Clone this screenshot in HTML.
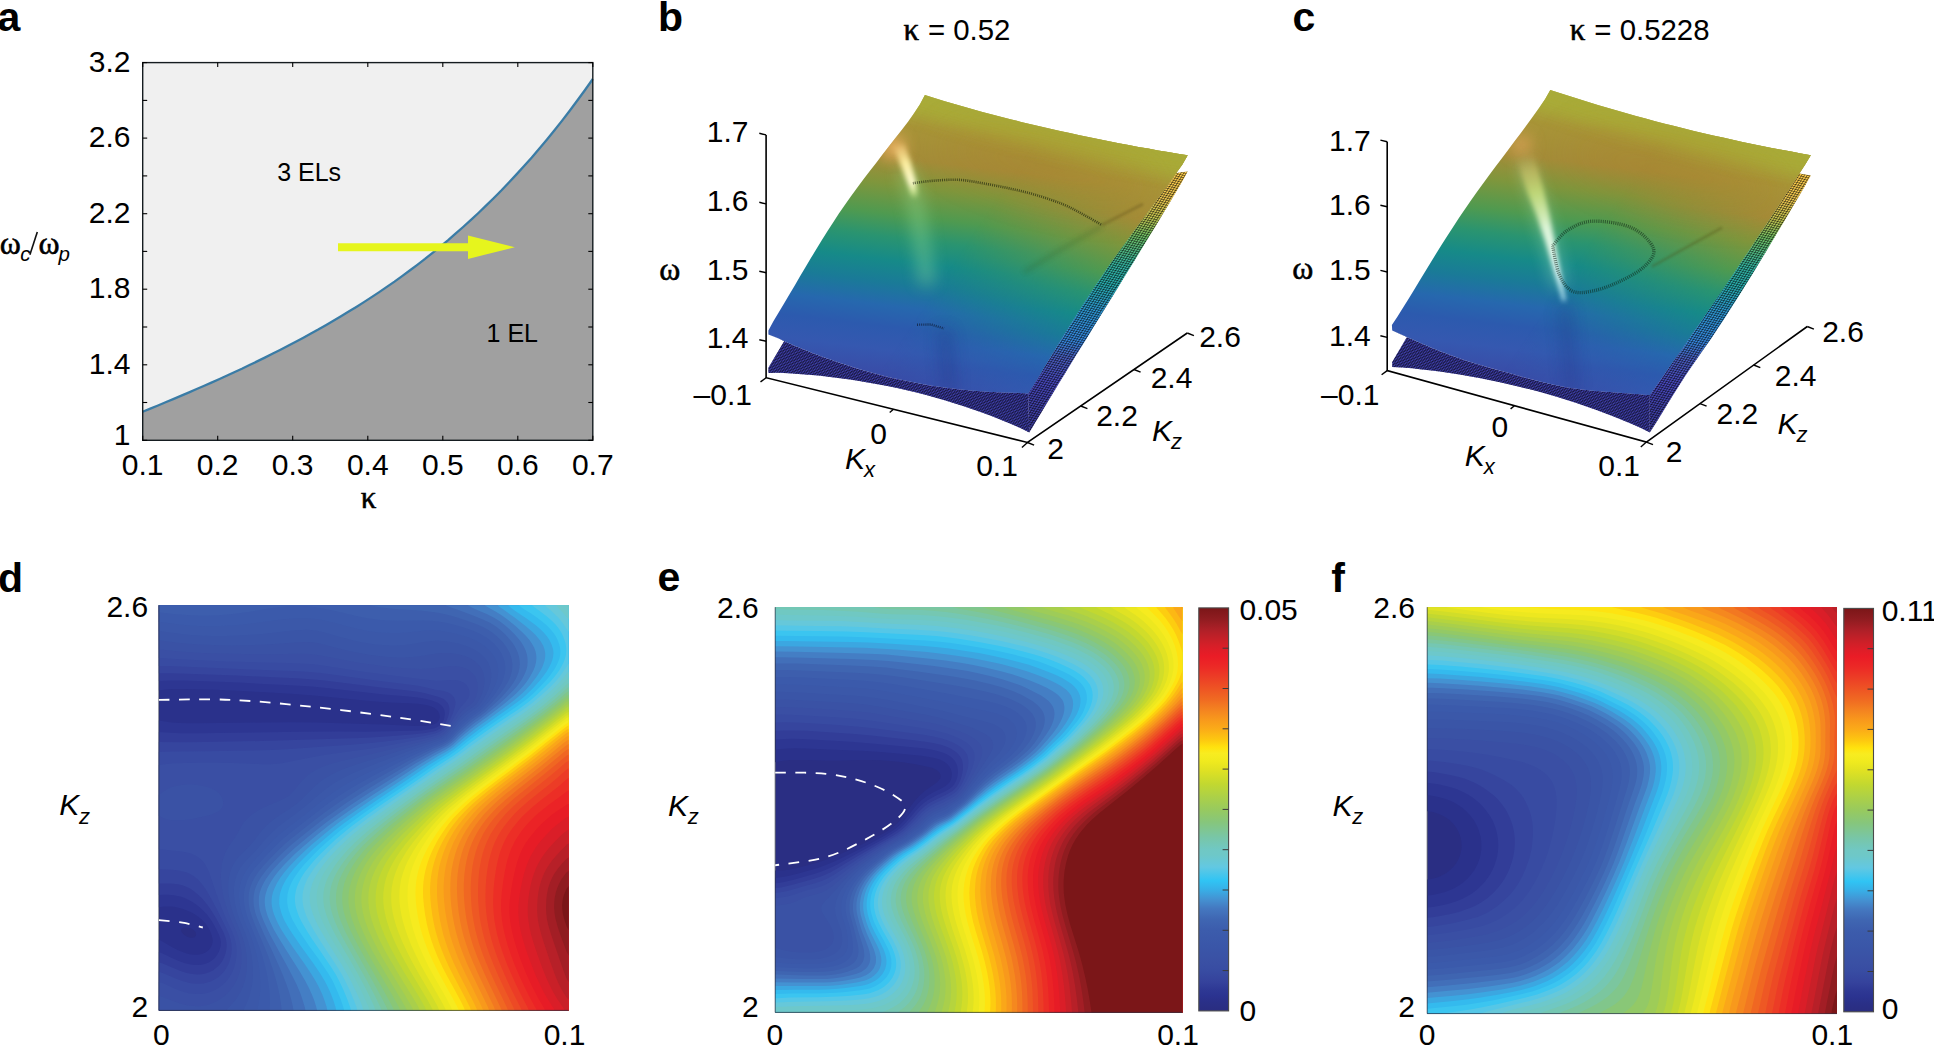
<!DOCTYPE html>
<html><head><meta charset="utf-8"><title>Figure</title>
<style>html,body{margin:0;padding:0;background:#fff}svg{display:block}text{fill:#000}</style></head>
<body>
<svg width="1934" height="1046" viewBox="0 0 1934 1046">
<text x="-2.5" y="30.7" font-family="Liberation Sans, Arial, Helvetica, sans-serif" font-size="41" font-weight="bold">a</text>
<text x="658" y="30.7" font-family="Liberation Sans, Arial, Helvetica, sans-serif" font-size="41" font-weight="bold">b</text>
<text x="1292.5" y="30.7" font-family="Liberation Sans, Arial, Helvetica, sans-serif" font-size="41" font-weight="bold">c</text>
<text x="-2" y="592" font-family="Liberation Sans, Arial, Helvetica, sans-serif" font-size="41" font-weight="bold">d</text>
<text x="657.6" y="591.4" font-family="Liberation Sans, Arial, Helvetica, sans-serif" font-size="41" font-weight="bold">e</text>
<text x="1331.3" y="591.9" font-family="Liberation Sans, Arial, Helvetica, sans-serif" font-size="41" font-weight="bold">f</text>
<rect x="142.7" y="62.6" width="450.09999999999997" height="377.7" fill="#f0f0f0"/>
<polygon points="142.7,411.7 150.3,408.6 158,405.5 165.6,402.3 173.2,399.1 180.8,395.9 188.5,392.6 196.1,389.3 203.7,386 211.4,382.6 219,379.2 226.6,375.7 234.2,372.2 241.9,368.7 249.5,365 257.1,361.4 264.8,357.6 272.4,353.8 280,350 287.6,346 295.3,342 302.9,338 310.5,333.8 318.2,329.6 325.8,325.2 333.4,320.8 341,316.3 348.7,311.6 356.3,306.9 363.9,302.1 371.6,297.1 379.2,292.1 386.8,286.9 394.5,281.6 402.1,276.1 409.7,270.5 417.3,264.8 425,258.9 432.6,252.8 440.2,246.6 447.9,240.3 455.5,233.7 463.1,227 470.7,220.1 478.4,213 486,205.7 493.6,198.2 501.3,190.5 508.9,182.5 516.5,174.4 524.1,166 531.8,157.4 539.4,148.5 547,139.4 554.7,130 562.3,120.4 569.9,110.5 577.5,100.3 585.2,89.8 592.8,79 592.8,440.3 142.7,440.3" fill="#a0a0a0"/>
<polyline points="142.7,411.7 150.3,408.6 158,405.5 165.6,402.3 173.2,399.1 180.8,395.9 188.5,392.6 196.1,389.3 203.7,386 211.4,382.6 219,379.2 226.6,375.7 234.2,372.2 241.9,368.7 249.5,365 257.1,361.4 264.8,357.6 272.4,353.8 280,350 287.6,346 295.3,342 302.9,338 310.5,333.8 318.2,329.6 325.8,325.2 333.4,320.8 341,316.3 348.7,311.6 356.3,306.9 363.9,302.1 371.6,297.1 379.2,292.1 386.8,286.9 394.5,281.6 402.1,276.1 409.7,270.5 417.3,264.8 425,258.9 432.6,252.8 440.2,246.6 447.9,240.3 455.5,233.7 463.1,227 470.7,220.1 478.4,213 486,205.7 493.6,198.2 501.3,190.5 508.9,182.5 516.5,174.4 524.1,166 531.8,157.4 539.4,148.5 547,139.4 554.7,130 562.3,120.4 569.9,110.5 577.5,100.3 585.2,89.8 592.8,79" fill="none" stroke="#3a7ca6" stroke-width="2.3"/>
<rect x="142.7" y="62.6" width="450.09999999999997" height="377.7" fill="none" stroke="#151c20" stroke-width="1.4"/>
<line x1="142.7" y1="62.6" x2="147.2" y2="62.6" stroke="#000" stroke-width="1.1"/>
<line x1="592.8" y1="62.6" x2="588.3" y2="62.6" stroke="#000" stroke-width="1.1"/>
<line x1="142.7" y1="100.4" x2="147.2" y2="100.4" stroke="#000" stroke-width="1.1"/>
<line x1="592.8" y1="100.4" x2="588.3" y2="100.4" stroke="#000" stroke-width="1.1"/>
<line x1="142.7" y1="138.1" x2="147.2" y2="138.1" stroke="#000" stroke-width="1.1"/>
<line x1="592.8" y1="138.1" x2="588.3" y2="138.1" stroke="#000" stroke-width="1.1"/>
<line x1="142.7" y1="175.9" x2="147.2" y2="175.9" stroke="#000" stroke-width="1.1"/>
<line x1="592.8" y1="175.9" x2="588.3" y2="175.9" stroke="#000" stroke-width="1.1"/>
<line x1="142.7" y1="213.7" x2="147.2" y2="213.7" stroke="#000" stroke-width="1.1"/>
<line x1="592.8" y1="213.7" x2="588.3" y2="213.7" stroke="#000" stroke-width="1.1"/>
<line x1="142.7" y1="251.4" x2="147.2" y2="251.4" stroke="#000" stroke-width="1.1"/>
<line x1="592.8" y1="251.4" x2="588.3" y2="251.4" stroke="#000" stroke-width="1.1"/>
<line x1="142.7" y1="289.2" x2="147.2" y2="289.2" stroke="#000" stroke-width="1.1"/>
<line x1="592.8" y1="289.2" x2="588.3" y2="289.2" stroke="#000" stroke-width="1.1"/>
<line x1="142.7" y1="327" x2="147.2" y2="327" stroke="#000" stroke-width="1.1"/>
<line x1="592.8" y1="327" x2="588.3" y2="327" stroke="#000" stroke-width="1.1"/>
<line x1="142.7" y1="364.8" x2="147.2" y2="364.8" stroke="#000" stroke-width="1.1"/>
<line x1="592.8" y1="364.8" x2="588.3" y2="364.8" stroke="#000" stroke-width="1.1"/>
<line x1="142.7" y1="402.5" x2="147.2" y2="402.5" stroke="#000" stroke-width="1.1"/>
<line x1="592.8" y1="402.5" x2="588.3" y2="402.5" stroke="#000" stroke-width="1.1"/>
<line x1="142.7" y1="440.3" x2="147.2" y2="440.3" stroke="#000" stroke-width="1.1"/>
<line x1="592.8" y1="440.3" x2="588.3" y2="440.3" stroke="#000" stroke-width="1.1"/>
<line x1="142.7" y1="62.6" x2="142.7" y2="67.1" stroke="#000" stroke-width="1.1"/>
<line x1="142.7" y1="440.3" x2="142.7" y2="435.8" stroke="#000" stroke-width="1.1"/>
<line x1="217.7" y1="62.6" x2="217.7" y2="67.1" stroke="#000" stroke-width="1.1"/>
<line x1="217.7" y1="440.3" x2="217.7" y2="435.8" stroke="#000" stroke-width="1.1"/>
<line x1="292.7" y1="62.6" x2="292.7" y2="67.1" stroke="#000" stroke-width="1.1"/>
<line x1="292.7" y1="440.3" x2="292.7" y2="435.8" stroke="#000" stroke-width="1.1"/>
<line x1="367.8" y1="62.6" x2="367.8" y2="67.1" stroke="#000" stroke-width="1.1"/>
<line x1="367.8" y1="440.3" x2="367.8" y2="435.8" stroke="#000" stroke-width="1.1"/>
<line x1="442.8" y1="62.6" x2="442.8" y2="67.1" stroke="#000" stroke-width="1.1"/>
<line x1="442.8" y1="440.3" x2="442.8" y2="435.8" stroke="#000" stroke-width="1.1"/>
<line x1="517.8" y1="62.6" x2="517.8" y2="67.1" stroke="#000" stroke-width="1.1"/>
<line x1="517.8" y1="440.3" x2="517.8" y2="435.8" stroke="#000" stroke-width="1.1"/>
<line x1="592.8" y1="62.6" x2="592.8" y2="67.1" stroke="#000" stroke-width="1.1"/>
<line x1="592.8" y1="440.3" x2="592.8" y2="435.8" stroke="#000" stroke-width="1.1"/>
<text x="130.5" y="71.6" font-family="Liberation Sans, Arial, Helvetica, sans-serif" font-size="30" text-anchor="end">3.2</text>
<text x="130.5" y="147.1" font-family="Liberation Sans, Arial, Helvetica, sans-serif" font-size="30" text-anchor="end">2.6</text>
<text x="130.5" y="222.7" font-family="Liberation Sans, Arial, Helvetica, sans-serif" font-size="30" text-anchor="end">2.2</text>
<text x="130.5" y="298.2" font-family="Liberation Sans, Arial, Helvetica, sans-serif" font-size="30" text-anchor="end">1.8</text>
<text x="130.5" y="373.8" font-family="Liberation Sans, Arial, Helvetica, sans-serif" font-size="30" text-anchor="end">1.4</text>
<text x="130.5" y="445" font-family="Liberation Sans, Arial, Helvetica, sans-serif" font-size="30" text-anchor="end">1</text>
<text x="142.7" y="475.3" font-family="Liberation Sans, Arial, Helvetica, sans-serif" font-size="30" text-anchor="middle">0.1</text>
<text x="217.7" y="475.3" font-family="Liberation Sans, Arial, Helvetica, sans-serif" font-size="30" text-anchor="middle">0.2</text>
<text x="292.7" y="475.3" font-family="Liberation Sans, Arial, Helvetica, sans-serif" font-size="30" text-anchor="middle">0.3</text>
<text x="367.8" y="475.3" font-family="Liberation Sans, Arial, Helvetica, sans-serif" font-size="30" text-anchor="middle">0.4</text>
<text x="442.8" y="475.3" font-family="Liberation Sans, Arial, Helvetica, sans-serif" font-size="30" text-anchor="middle">0.5</text>
<text x="517.8" y="475.3" font-family="Liberation Sans, Arial, Helvetica, sans-serif" font-size="30" text-anchor="middle">0.6</text>
<text x="592.8" y="475.3" font-family="Liberation Sans, Arial, Helvetica, sans-serif" font-size="30" text-anchor="middle">0.7</text>
<text x="368.5" y="508.2" font-family="Liberation Serif, Times New Roman, serif" font-size="31" text-anchor="middle" stroke="#000" stroke-width="0.55">κ</text>
<text x="-0.3" y="253.8" font-family="Liberation Serif, Times New Roman, serif" font-size="32" stroke="#000" stroke-width="0.55">ω</text>
<text x="20.3" y="261.3" font-family="Liberation Sans, Arial, Helvetica, sans-serif" font-size="20.5" font-style="italic">c</text>
<line x1="29.9" y1="254.8" x2="37.3" y2="232" stroke="#111" stroke-width="1.6"/>
<text x="38.5" y="253.8" font-family="Liberation Serif, Times New Roman, serif" font-size="32" stroke="#000" stroke-width="0.55">ω</text>
<text x="58.6" y="261.3" font-family="Liberation Sans, Arial, Helvetica, sans-serif" font-size="20.5" font-style="italic">p</text>
<text x="277.2" y="180.8" font-family="Liberation Sans, Arial, Helvetica, sans-serif" font-size="25">3 ELs</text>
<text x="486.6" y="342.3" font-family="Liberation Sans, Arial, Helvetica, sans-serif" font-size="25">1 EL</text>
<polygon points="338,243.2 468,243.2 468,235.6 514.8,247.2 468,258.9 468,251.3 338,251.3" fill="#e6f51d"/>
<defs><filter id="bl3" filterUnits="userSpaceOnUse" x="640" y="40" width="1294" height="460"><feGaussianBlur stdDeviation="2.5"/></filter><filter id="bl8" filterUnits="userSpaceOnUse" x="640" y="40" width="1294" height="460"><feGaussianBlur stdDeviation="8"/></filter><filter id="bl20" filterUnits="userSpaceOnUse" x="640" y="40" width="1294" height="460"><feGaussianBlur stdDeviation="20"/></filter><pattern id="mesh" patternUnits="userSpaceOnUse" width="2.5" height="2.5" patternTransform="matrix(0.973,0.23,0.54,-0.84,0,0)"><path d="M0,0.3H2.5M0.3,0V2.5" stroke="#000" stroke-width="0.5" fill="none"/></pattern><pattern id="mesh2" patternUnits="userSpaceOnUse" width="2.2" height="1.6" patternTransform="matrix(0.973,0.23,0.54,-0.84,0,0)"><path d="M0,0.3H2.2M0.3,0V1.6" stroke="#000" stroke-width="0.4" fill="none"/></pattern><filter id="bl1" filterUnits="userSpaceOnUse" x="640" y="40" width="1294" height="460"><feGaussianBlur stdDeviation="1.2"/></filter></defs>
<defs><linearGradient id="gb" gradientUnits="userSpaceOnUse" x1="900.7" y1="385.5" x2="934.9" y2="100.5"><stop offset="0.000" stop-color="#3a48a5"/><stop offset="0.060" stop-color="#3850aa"/><stop offset="0.118" stop-color="#3558b0"/><stop offset="0.198" stop-color="#2c5aae"/><stop offset="0.271" stop-color="#2668ae"/><stop offset="0.350" stop-color="#1a7a98"/><stop offset="0.430" stop-color="#168a88"/><stop offset="0.510" stop-color="#2a9470"/><stop offset="0.589" stop-color="#4f9a50"/><stop offset="0.693" stop-color="#7f963c"/><stop offset="0.786" stop-color="#a48c38"/><stop offset="0.908" stop-color="#a89538"/><stop offset="1.000" stop-color="#a8aa3a"/></linearGradient>
<clipPath id="cpb"><path d="M768.4,330.4 L773.4,321.2 L778.8,312.2 L784.2,303.2 L789.5,294.2 L794.9,285.2 L800.2,276.1 L805.6,267.1 L810.9,258.1 L816.4,249.1 L821.9,240.1 L827.4,231.2 L833.1,222.4 L838.9,213.6 L844.8,205 L850.8,196.4 L857,187.9 L863.3,179.5 L869.6,171.2 L876.1,162.9 L882.5,154.6 L889,146.3 L895.4,138.1 L901.9,129.8 L908.2,121.5 L914.2,112.9 L920,104.2 L924.9,94.9L934.4,98 L944,100.9 L953.6,103.7 L963.2,106.5 L972.8,109.2 L982.4,111.9 L992.1,114.4 L1001.7,117 L1011.4,119.4 L1021.1,121.9 L1030.8,124.2 L1040.6,126.5 L1050.3,128.8 L1060.1,131 L1069.8,133.1 L1079.6,135.2 L1089.4,137.3 L1099.2,139.3 L1109,141.3 L1118.8,143.2 L1128.6,145 L1138.4,146.9 L1148.3,148.6 L1158.1,150.4 L1168,152.1 L1177.8,153.7 L1187.7,155.2L1182.4,164.4 L1176.3,173.1 L1170.1,181.8 L1163.9,190.4 L1157.6,198.9 L1151.3,207.5 L1145,216 L1138.7,224.6 L1132.4,233.1 L1126.1,241.7 L1119.8,250.3 L1113.6,258.9 L1107.5,267.6 L1101.5,276.4 L1095.5,285.2 L1089.7,294 L1083.9,303 L1078.2,311.9 L1072.6,320.9 L1067,330 L1061.4,339 L1055.9,348.1 L1050.4,357.2 L1044.9,366.3 L1039.5,375.5 L1034,384.6 L1028.1,393.4L1018.2,392.8 L1008.2,392.6 L998.3,392.3 L988.3,391.7 L978.4,391.1 L968.5,390.2 L958.6,389.2 L948.7,388 L938.9,386.7 L929,385.2 L919.3,383.5 L909.5,381.6 L899.8,379.6 L890.1,377.4 L880.5,375 L870.9,372.4 L861.3,369.7 L851.8,366.8 L842.4,363.8 L833,360.5 L823.6,357.2 L814.3,353.7 L805,350 L795.8,346.2 L786.7,342.2 L777.6,338.1 L768.4,334.4Z"/></clipPath>
<linearGradient id="glb" gradientUnits="userSpaceOnUse" x1="0" y1="171" x2="0" y2="432"><stop offset="0.000" stop-color="#ffcc48"/><stop offset="0.103" stop-color="#ecc650"/><stop offset="0.176" stop-color="#c6c650"/><stop offset="0.249" stop-color="#70c064"/><stop offset="0.360" stop-color="#34b4a0"/><stop offset="0.433" stop-color="#28acac"/><stop offset="0.540" stop-color="#2e96d2"/><stop offset="0.651" stop-color="#3686dc"/><stop offset="0.716" stop-color="#4a5ec0"/><stop offset="0.812" stop-color="#4848bc"/><stop offset="0.912" stop-color="#4040a8"/><stop offset="1.000" stop-color="#3a3a9a"/></linearGradient>
</defs>
<path d="M1029.3,432.4 L1035.1,422.7 L1041,413 L1046.8,403.3 L1052.6,393.7 L1058.5,384 L1064.4,374.4 L1070.3,364.7 L1076.2,355.1 L1082.2,345.5 L1088.1,335.9 L1094,326.2 L1100,316.6 L1105.9,307 L1111.8,297.4 L1117.8,287.8 L1123.7,278.1 L1129.6,268.5 L1135.5,258.9 L1141.4,249.2 L1147.3,239.6 L1153.2,229.9 L1159.1,220.3 L1164.9,210.6 L1170.7,200.9 L1176.5,191.2 L1182.2,181.5 L1187.6,171.5L1176.3,173.1 L1170.1,181.8 L1163.9,190.4 L1157.6,198.9 L1151.3,207.5 L1145,216 L1138.7,224.6 L1132.4,233.1 L1126.1,241.7 L1119.8,250.3 L1113.6,258.9 L1107.5,267.6 L1101.5,276.4 L1095.5,285.2 L1089.7,294 L1083.9,303 L1078.2,311.9 L1072.6,320.9 L1067,330 L1061.4,339 L1055.9,348.1 L1050.4,357.2 L1044.9,366.3 L1039.5,375.5 L1034,384.6 L1028.1,393.4Z" fill="url(#glb)"/>
<path d="M1029.3,432.4 L1035.1,422.7 L1041,413 L1046.8,403.3 L1052.6,393.7 L1058.5,384 L1064.4,374.4 L1070.3,364.7 L1076.2,355.1 L1082.2,345.5 L1088.1,335.9 L1094,326.2 L1100,316.6 L1105.9,307 L1111.8,297.4 L1117.8,287.8 L1123.7,278.1 L1129.6,268.5 L1135.5,258.9 L1141.4,249.2 L1147.3,239.6 L1153.2,229.9 L1159.1,220.3 L1164.9,210.6 L1170.7,200.9 L1176.5,191.2 L1182.2,181.5 L1187.6,171.5L1176.3,173.1 L1170.1,181.8 L1163.9,190.4 L1157.6,198.9 L1151.3,207.5 L1145,216 L1138.7,224.6 L1132.4,233.1 L1126.1,241.7 L1119.8,250.3 L1113.6,258.9 L1107.5,267.6 L1101.5,276.4 L1095.5,285.2 L1089.7,294 L1083.9,303 L1078.2,311.9 L1072.6,320.9 L1067,330 L1061.4,339 L1055.9,348.1 L1050.4,357.2 L1044.9,366.3 L1039.5,375.5 L1034,384.6 L1028.1,393.4Z" fill="url(#mesh)"/>
<path d="M784.4,340.7 L768.4,367.7 L768.4,372.9L778.4,372.8 L788.4,373.3 L798.3,373.9 L808.2,374.7 L818.2,375.6 L828.1,376.7 L838,377.9 L847.9,379.3 L857.8,380.8 L867.6,382.4 L877.5,384.2 L887.3,386.1 L897.1,388.1 L906.8,390.3 L916.5,392.6 L926.2,395.1 L935.8,397.7 L945.4,400.5 L955,403.4 L964.5,406.5 L973.9,409.7 L983.3,413.1 L992.7,416.6 L1001.9,420.3 L1011.1,424.1 L1020.3,428.1 L1029.3,432.4L1028.1,393.4 L1018.2,392.8 L1008.2,392.6 L998.3,392.3 L988.3,391.7 L978.4,391.1 L968.5,390.2 L958.6,389.2 L948.7,388 L938.9,386.7 L929,385.2 L919.3,383.5 L909.5,381.6 L899.8,379.6 L890.1,377.4 L880.5,375 L870.9,372.4 L861.3,369.7 L851.8,366.8 L842.4,363.8 L833,360.5 L823.6,357.2 L814.3,353.7 L805,350 L795.8,346.2 L786.7,342.2 L777.6,338.1 L768.4,334.4Z" fill="#4040ae"/>
<path d="M784.4,340.7 L768.4,367.7 L768.4,372.9L778.4,372.8 L788.4,373.3 L798.3,373.9 L808.2,374.7 L818.2,375.6 L828.1,376.7 L838,377.9 L847.9,379.3 L857.8,380.8 L867.6,382.4 L877.5,384.2 L887.3,386.1 L897.1,388.1 L906.8,390.3 L916.5,392.6 L926.2,395.1 L935.8,397.7 L945.4,400.5 L955,403.4 L964.5,406.5 L973.9,409.7 L983.3,413.1 L992.7,416.6 L1001.9,420.3 L1011.1,424.1 L1020.3,428.1 L1029.3,432.4L1028.1,393.4 L1018.2,392.8 L1008.2,392.6 L998.3,392.3 L988.3,391.7 L978.4,391.1 L968.5,390.2 L958.6,389.2 L948.7,388 L938.9,386.7 L929,385.2 L919.3,383.5 L909.5,381.6 L899.8,379.6 L890.1,377.4 L880.5,375 L870.9,372.4 L861.3,369.7 L851.8,366.8 L842.4,363.8 L833,360.5 L823.6,357.2 L814.3,353.7 L805,350 L795.8,346.2 L786.7,342.2 L777.6,338.1 L768.4,334.4Z" fill="url(#mesh2)"/>
<path d="M768.4,330.4 L773.4,321.2 L778.8,312.2 L784.2,303.2 L789.5,294.2 L794.9,285.2 L800.2,276.1 L805.6,267.1 L810.9,258.1 L816.4,249.1 L821.9,240.1 L827.4,231.2 L833.1,222.4 L838.9,213.6 L844.8,205 L850.8,196.4 L857,187.9 L863.3,179.5 L869.6,171.2 L876.1,162.9 L882.5,154.6 L889,146.3 L895.4,138.1 L901.9,129.8 L908.2,121.5 L914.2,112.9 L920,104.2 L924.9,94.9L934.4,98 L944,100.9 L953.6,103.7 L963.2,106.5 L972.8,109.2 L982.4,111.9 L992.1,114.4 L1001.7,117 L1011.4,119.4 L1021.1,121.9 L1030.8,124.2 L1040.6,126.5 L1050.3,128.8 L1060.1,131 L1069.8,133.1 L1079.6,135.2 L1089.4,137.3 L1099.2,139.3 L1109,141.3 L1118.8,143.2 L1128.6,145 L1138.4,146.9 L1148.3,148.6 L1158.1,150.4 L1168,152.1 L1177.8,153.7 L1187.7,155.2L1182.4,164.4 L1176.3,173.1 L1170.1,181.8 L1163.9,190.4 L1157.6,198.9 L1151.3,207.5 L1145,216 L1138.7,224.6 L1132.4,233.1 L1126.1,241.7 L1119.8,250.3 L1113.6,258.9 L1107.5,267.6 L1101.5,276.4 L1095.5,285.2 L1089.7,294 L1083.9,303 L1078.2,311.9 L1072.6,320.9 L1067,330 L1061.4,339 L1055.9,348.1 L1050.4,357.2 L1044.9,366.3 L1039.5,375.5 L1034,384.6 L1028.1,393.4L1018.2,392.8 L1008.2,392.6 L998.3,392.3 L988.3,391.7 L978.4,391.1 L968.5,390.2 L958.6,389.2 L948.7,388 L938.9,386.7 L929,385.2 L919.3,383.5 L909.5,381.6 L899.8,379.6 L890.1,377.4 L880.5,375 L870.9,372.4 L861.3,369.7 L851.8,366.8 L842.4,363.8 L833,360.5 L823.6,357.2 L814.3,353.7 L805,350 L795.8,346.2 L786.7,342.2 L777.6,338.1 L768.4,334.4Z" fill="url(#gb)"/>
<defs><linearGradient id="gbB" gradientUnits="userSpaceOnUse" x1="896.9" y1="416.9" x2="931.1" y2="131.8"><stop offset="0.000" stop-color="#3a48a5"/><stop offset="0.060" stop-color="#3850aa"/><stop offset="0.118" stop-color="#3558b0"/><stop offset="0.198" stop-color="#2c5aae"/><stop offset="0.271" stop-color="#2668ae"/><stop offset="0.350" stop-color="#1a7a98"/><stop offset="0.430" stop-color="#168a88"/><stop offset="0.510" stop-color="#2a9470"/><stop offset="0.589" stop-color="#4f9a50"/><stop offset="0.693" stop-color="#7f963c"/><stop offset="0.786" stop-color="#a48c38"/><stop offset="0.908" stop-color="#a89538"/><stop offset="1.000" stop-color="#a8aa3a"/></linearGradient>
<linearGradient id="mgb" gradientUnits="userSpaceOnUse" x1="916" y1="318.1" x2="1023.9" y2="390.6"><stop offset="0" stop-color="#000"/><stop offset="1" stop-color="#fff"/></linearGradient>
<mask id="mkb" maskUnits="userSpaceOnUse" x="640" y="40" width="1294" height="460"><rect x="640" y="40" width="1294" height="460" fill="url(#mgb)"/></mask></defs>
<path d="M768.4,330.4 L773.4,321.2 L778.8,312.2 L784.2,303.2 L789.5,294.2 L794.9,285.2 L800.2,276.1 L805.6,267.1 L810.9,258.1 L816.4,249.1 L821.9,240.1 L827.4,231.2 L833.1,222.4 L838.9,213.6 L844.8,205 L850.8,196.4 L857,187.9 L863.3,179.5 L869.6,171.2 L876.1,162.9 L882.5,154.6 L889,146.3 L895.4,138.1 L901.9,129.8 L908.2,121.5 L914.2,112.9 L920,104.2 L924.9,94.9L934.4,98 L944,100.9 L953.6,103.7 L963.2,106.5 L972.8,109.2 L982.4,111.9 L992.1,114.4 L1001.7,117 L1011.4,119.4 L1021.1,121.9 L1030.8,124.2 L1040.6,126.5 L1050.3,128.8 L1060.1,131 L1069.8,133.1 L1079.6,135.2 L1089.4,137.3 L1099.2,139.3 L1109,141.3 L1118.8,143.2 L1128.6,145 L1138.4,146.9 L1148.3,148.6 L1158.1,150.4 L1168,152.1 L1177.8,153.7 L1187.7,155.2L1182.4,164.4 L1176.3,173.1 L1170.1,181.8 L1163.9,190.4 L1157.6,198.9 L1151.3,207.5 L1145,216 L1138.7,224.6 L1132.4,233.1 L1126.1,241.7 L1119.8,250.3 L1113.6,258.9 L1107.5,267.6 L1101.5,276.4 L1095.5,285.2 L1089.7,294 L1083.9,303 L1078.2,311.9 L1072.6,320.9 L1067,330 L1061.4,339 L1055.9,348.1 L1050.4,357.2 L1044.9,366.3 L1039.5,375.5 L1034,384.6 L1028.1,393.4L1018.2,392.8 L1008.2,392.6 L998.3,392.3 L988.3,391.7 L978.4,391.1 L968.5,390.2 L958.6,389.2 L948.7,388 L938.9,386.7 L929,385.2 L919.3,383.5 L909.5,381.6 L899.8,379.6 L890.1,377.4 L880.5,375 L870.9,372.4 L861.3,369.7 L851.8,366.8 L842.4,363.8 L833,360.5 L823.6,357.2 L814.3,353.7 L805,350 L795.8,346.2 L786.7,342.2 L777.6,338.1 L768.4,334.4Z" fill="url(#gbB)" mask="url(#mkb)"/>
<g clip-path="url(#cpb)">
<path d="M884.9,82.9 L924.9,94.9 L934.4,98 L944,100.9 L953.6,103.7 L963.2,106.5 L972.8,109.2 L982.4,111.9 L992.1,114.4 L1001.7,117 L1011.4,119.4 L1021.1,121.9 L1030.8,124.2 L1040.6,126.5 L1050.3,128.8 L1060.1,131 L1069.8,133.1 L1079.6,135.2 L1089.4,137.3 L1099.2,139.3 L1109,141.3 L1118.8,143.2 L1128.6,145 L1138.4,146.9 L1148.3,148.6 L1158.1,150.4 L1168,152.1 L1177.8,153.7 L1187.7,155.2 L1227.7,163.2" stroke="#a9ab38" stroke-width="40" fill="none" opacity="0.95" filter="url(#bl8)"/>
<ellipse cx="1050" cy="168" rx="110" ry="26" fill="#b07a2c" opacity="0.25" filter="url(#bl20)" transform="rotate(13 1050 168)"/>
<defs><linearGradient id="hlb" gradientUnits="userSpaceOnUse" x1="896" y1="143" x2="916" y2="200"><stop offset="0" stop-color="#f8c878" stop-opacity="0.1"/><stop offset="0.15" stop-color="#fad888" stop-opacity="0.7"/><stop offset="0.35" stop-color="#fff0a0" stop-opacity="0.95"/><stop offset="0.7" stop-color="#fffcd0" stop-opacity="1"/><stop offset="0.85" stop-color="#e8f8a8" stop-opacity="0.8"/><stop offset="1" stop-color="#b8e890" stop-opacity="0"/></linearGradient></defs>
<circle cx="893.5" cy="147" r="11" fill="#f5b468" opacity="0.95" filter="url(#bl8)"/>
<path d="M905,168 L911,186 L916.7,209.3 L920.4,234.2 L924.1,259 L927,285" stroke="#9fe8a0" stroke-width="15" fill="none" opacity="0.38" filter="url(#bl8)"/>
<path d="M893,146 L901,166 L908,184 L912,198 L918,198 L916,182 L911,163 L904,143 Z" fill="url(#hlb)" filter="url(#bl3)"/>
<path d="M912.9,183.2C916.4,182.8 926.1,181.2 933.9,180.7C941.7,180.1 951.2,179.4 959.8,179.9C968.4,180.4 977,182.3 985.6,183.8C994.2,185.3 1002.9,187 1011.5,188.9C1020.1,190.8 1028.7,192.8 1037.3,195.4C1045.9,198 1055.5,201.2 1063.2,204.4C1071,207.6 1077.3,211.4 1083.8,214.8C1090.2,218.2 1098.9,223.4 1101.9,225.1" stroke="#101808" stroke-width="2.6" fill="none" opacity="0.6" stroke-dasharray="1 1.1"/>
<path d="M917,324.7 L931,324.5 L944,328.5" stroke="#0a1020" stroke-width="2.4" fill="none" opacity="0.6" stroke-dasharray="1 1.1"/>
<path d="M1102,225 L1143,204" stroke="#5a4a18" stroke-width="3" fill="none" opacity="0.3" filter="url(#bl1)"/>
<path d="M1102,226 L1060,250 L1024,272" stroke="#2a5a28" stroke-width="3" fill="none" opacity="0.3" filter="url(#bl3)"/>
<path d="M944,330 L950,392" stroke="#1f2f80" stroke-width="12" fill="none" opacity="0.35" filter="url(#bl8)"/>
</g>
<defs><linearGradient id="gc" gradientUnits="userSpaceOnUse" x1="1522.7" y1="384.7" x2="1556.9" y2="97.7"><stop offset="0.000" stop-color="#3a48a5"/><stop offset="0.060" stop-color="#3850aa"/><stop offset="0.118" stop-color="#3558b0"/><stop offset="0.198" stop-color="#2c5aae"/><stop offset="0.271" stop-color="#2668ae"/><stop offset="0.350" stop-color="#1a7a98"/><stop offset="0.430" stop-color="#168a88"/><stop offset="0.510" stop-color="#2a9470"/><stop offset="0.589" stop-color="#4f9a50"/><stop offset="0.693" stop-color="#7f963c"/><stop offset="0.786" stop-color="#a48c38"/><stop offset="0.908" stop-color="#a89538"/><stop offset="1.000" stop-color="#a8aa3a"/></linearGradient>
<clipPath id="cpc"><path d="M1391.9,325 L1397.7,316.2 L1403.3,307.3 L1408.8,298.4 L1414.3,289.4 L1419.7,280.4 L1425.2,271.4 L1430.7,262.5 L1436.2,253.5 L1441.8,244.6 L1447.4,235.7 L1453.1,226.9 L1458.9,218.1 L1464.7,209.4 L1470.7,200.7 L1476.7,192.2 L1482.9,183.7 L1489.1,175.2 L1495.4,166.8 L1501.7,158.4 L1508.1,150 L1514.4,141.6 L1520.7,133.2 L1526.9,124.7 L1533.1,116.3 L1539.2,107.7 L1545.2,99.1 L1550.3,89.9L1559.7,93 L1569.2,96.1 L1578.7,99.1 L1588.2,102.1 L1597.8,105 L1607.3,107.8 L1616.9,110.6 L1626.4,113.3 L1636,116 L1645.6,118.6 L1655.2,121.2 L1664.9,123.7 L1674.5,126.1 L1684.2,128.5 L1693.9,130.9 L1703.5,133.2 L1713.2,135.4 L1723,137.6 L1732.7,139.8 L1742.4,141.9 L1752.1,143.9 L1761.9,145.9 L1771.7,147.9 L1781.4,149.8 L1791.2,151.6 L1801,153.4 L1810.8,155.3L1805.2,164.4 L1799.4,173.4 L1793.6,182.4 L1787.8,191.4 L1781.9,200.3 L1776.1,209.3 L1770.2,218.2 L1764.3,227.2 L1758.4,236.1 L1752.5,245 L1746.6,253.9 L1740.6,262.8 L1734.7,271.7 L1728.7,280.6 L1722.7,289.4 L1716.7,298.3 L1710.7,307.1 L1704.6,316 L1698.6,324.8 L1692.5,333.6 L1686.4,342.4 L1680.4,351.2 L1674.2,360 L1668.1,368.8 L1662,377.5 L1655.9,386.3 L1649.8,395.1L1640,394.2 L1630.1,393.4 L1620.1,392.7 L1610.2,392 L1600.2,391.3 L1590.3,390.4 L1580.5,389.3 L1570.8,387.9 L1561.1,386.2 L1551.5,384.2 L1542,382 L1532.4,379.5 L1522.9,376.9 L1513.4,374.3 L1503.8,371.7 L1494.2,369 L1484.7,366.3 L1475.1,363.4 L1465.7,360.4 L1456.3,357.2 L1446.9,353.8 L1437.7,350.3 L1428.5,346.5 L1419.4,342.6 L1410.3,338.6 L1401.3,334.5 L1392.2,330.4Z"/></clipPath>
<linearGradient id="glc" gradientUnits="userSpaceOnUse" x1="0" y1="174" x2="0" y2="432"><stop offset="0.000" stop-color="#ffcc48"/><stop offset="0.103" stop-color="#ecc650"/><stop offset="0.176" stop-color="#c6c650"/><stop offset="0.249" stop-color="#70c064"/><stop offset="0.360" stop-color="#34b4a0"/><stop offset="0.433" stop-color="#28acac"/><stop offset="0.540" stop-color="#2e96d2"/><stop offset="0.651" stop-color="#3686dc"/><stop offset="0.716" stop-color="#4a5ec0"/><stop offset="0.812" stop-color="#4848bc"/><stop offset="0.912" stop-color="#4040a8"/><stop offset="1.000" stop-color="#3a3a9a"/></linearGradient>
</defs>
<path d="M1649.8,432.4 L1655.9,423 L1661.8,413.4 L1667.7,403.8 L1673.6,394.3 L1679.6,384.7 L1685.7,375.3 L1692,366 L1698.4,356.8 L1704.8,347.6 L1711.2,338.4 L1717.4,329.1 L1723.6,319.7 L1729.6,310.3 L1735.7,300.8 L1741.7,291.3 L1747.6,281.7 L1753.5,272.2 L1759.4,262.5 L1765.2,252.9 L1771,243.3 L1776.8,233.6 L1782.5,223.9 L1788.3,214.3 L1794,204.6 L1799.7,194.9 L1805.4,185.2 L1810.8,175.4L1799.4,173.4 L1793.6,182.4 L1787.8,191.4 L1781.9,200.3 L1776.1,209.3 L1770.2,218.2 L1764.3,227.2 L1758.4,236.1 L1752.5,245 L1746.6,253.9 L1740.6,262.8 L1734.7,271.7 L1728.7,280.6 L1722.7,289.4 L1716.7,298.3 L1710.7,307.1 L1704.6,316 L1698.6,324.8 L1692.5,333.6 L1686.4,342.4 L1680.4,351.2 L1674.2,360 L1668.1,368.8 L1662,377.5 L1655.9,386.3 L1649.8,395.1Z" fill="url(#glc)"/>
<path d="M1649.8,432.4 L1655.9,423 L1661.8,413.4 L1667.7,403.8 L1673.6,394.3 L1679.6,384.7 L1685.7,375.3 L1692,366 L1698.4,356.8 L1704.8,347.6 L1711.2,338.4 L1717.4,329.1 L1723.6,319.7 L1729.6,310.3 L1735.7,300.8 L1741.7,291.3 L1747.6,281.7 L1753.5,272.2 L1759.4,262.5 L1765.2,252.9 L1771,243.3 L1776.8,233.6 L1782.5,223.9 L1788.3,214.3 L1794,204.6 L1799.7,194.9 L1805.4,185.2 L1810.8,175.4L1799.4,173.4 L1793.6,182.4 L1787.8,191.4 L1781.9,200.3 L1776.1,209.3 L1770.2,218.2 L1764.3,227.2 L1758.4,236.1 L1752.5,245 L1746.6,253.9 L1740.6,262.8 L1734.7,271.7 L1728.7,280.6 L1722.7,289.4 L1716.7,298.3 L1710.7,307.1 L1704.6,316 L1698.6,324.8 L1692.5,333.6 L1686.4,342.4 L1680.4,351.2 L1674.2,360 L1668.1,368.8 L1662,377.5 L1655.9,386.3 L1649.8,395.1Z" fill="url(#mesh)"/>
<path d="M1407.1,336.7 L1392.2,362 L1392.2,367.1L1402.1,367.4 L1412,368.3 L1421.8,369.4 L1431.6,370.6 L1441.4,371.8 L1451.2,373.3 L1461,374.8 L1470.7,376.5 L1480.5,378.2 L1490.2,380.2 L1499.9,382.2 L1509.6,384.4 L1519.2,386.7 L1528.8,389.1 L1538.4,391.6 L1548,394.3 L1557.5,397.1 L1566.9,400 L1576.4,403.1 L1585.7,406.2 L1595.1,409.5 L1604.4,413 L1613.6,416.5 L1622.8,420.2 L1631.9,424 L1640.9,427.9 L1649.8,432.4L1649.8,395.1 L1640,394.2 L1630.1,393.4 L1620.1,392.7 L1610.2,392 L1600.2,391.3 L1590.3,390.4 L1580.5,389.3 L1570.8,387.9 L1561.1,386.2 L1551.5,384.2 L1542,382 L1532.4,379.5 L1522.9,376.9 L1513.4,374.3 L1503.8,371.7 L1494.2,369 L1484.7,366.3 L1475.1,363.4 L1465.7,360.4 L1456.3,357.2 L1446.9,353.8 L1437.7,350.3 L1428.5,346.5 L1419.4,342.6 L1410.3,338.6 L1401.3,334.5 L1392.2,330.4Z" fill="#4040ae"/>
<path d="M1407.1,336.7 L1392.2,362 L1392.2,367.1L1402.1,367.4 L1412,368.3 L1421.8,369.4 L1431.6,370.6 L1441.4,371.8 L1451.2,373.3 L1461,374.8 L1470.7,376.5 L1480.5,378.2 L1490.2,380.2 L1499.9,382.2 L1509.6,384.4 L1519.2,386.7 L1528.8,389.1 L1538.4,391.6 L1548,394.3 L1557.5,397.1 L1566.9,400 L1576.4,403.1 L1585.7,406.2 L1595.1,409.5 L1604.4,413 L1613.6,416.5 L1622.8,420.2 L1631.9,424 L1640.9,427.9 L1649.8,432.4L1649.8,395.1 L1640,394.2 L1630.1,393.4 L1620.1,392.7 L1610.2,392 L1600.2,391.3 L1590.3,390.4 L1580.5,389.3 L1570.8,387.9 L1561.1,386.2 L1551.5,384.2 L1542,382 L1532.4,379.5 L1522.9,376.9 L1513.4,374.3 L1503.8,371.7 L1494.2,369 L1484.7,366.3 L1475.1,363.4 L1465.7,360.4 L1456.3,357.2 L1446.9,353.8 L1437.7,350.3 L1428.5,346.5 L1419.4,342.6 L1410.3,338.6 L1401.3,334.5 L1392.2,330.4Z" fill="url(#mesh2)"/>
<path d="M1391.9,325 L1397.7,316.2 L1403.3,307.3 L1408.8,298.4 L1414.3,289.4 L1419.7,280.4 L1425.2,271.4 L1430.7,262.5 L1436.2,253.5 L1441.8,244.6 L1447.4,235.7 L1453.1,226.9 L1458.9,218.1 L1464.7,209.4 L1470.7,200.7 L1476.7,192.2 L1482.9,183.7 L1489.1,175.2 L1495.4,166.8 L1501.7,158.4 L1508.1,150 L1514.4,141.6 L1520.7,133.2 L1526.9,124.7 L1533.1,116.3 L1539.2,107.7 L1545.2,99.1 L1550.3,89.9L1559.7,93 L1569.2,96.1 L1578.7,99.1 L1588.2,102.1 L1597.8,105 L1607.3,107.8 L1616.9,110.6 L1626.4,113.3 L1636,116 L1645.6,118.6 L1655.2,121.2 L1664.9,123.7 L1674.5,126.1 L1684.2,128.5 L1693.9,130.9 L1703.5,133.2 L1713.2,135.4 L1723,137.6 L1732.7,139.8 L1742.4,141.9 L1752.1,143.9 L1761.9,145.9 L1771.7,147.9 L1781.4,149.8 L1791.2,151.6 L1801,153.4 L1810.8,155.3L1805.2,164.4 L1799.4,173.4 L1793.6,182.4 L1787.8,191.4 L1781.9,200.3 L1776.1,209.3 L1770.2,218.2 L1764.3,227.2 L1758.4,236.1 L1752.5,245 L1746.6,253.9 L1740.6,262.8 L1734.7,271.7 L1728.7,280.6 L1722.7,289.4 L1716.7,298.3 L1710.7,307.1 L1704.6,316 L1698.6,324.8 L1692.5,333.6 L1686.4,342.4 L1680.4,351.2 L1674.2,360 L1668.1,368.8 L1662,377.5 L1655.9,386.3 L1649.8,395.1L1640,394.2 L1630.1,393.4 L1620.1,392.7 L1610.2,392 L1600.2,391.3 L1590.3,390.4 L1580.5,389.3 L1570.8,387.9 L1561.1,386.2 L1551.5,384.2 L1542,382 L1532.4,379.5 L1522.9,376.9 L1513.4,374.3 L1503.8,371.7 L1494.2,369 L1484.7,366.3 L1475.1,363.4 L1465.7,360.4 L1456.3,357.2 L1446.9,353.8 L1437.7,350.3 L1428.5,346.5 L1419.4,342.6 L1410.3,338.6 L1401.3,334.5 L1392.2,330.4Z" fill="url(#gc)"/>
<defs><linearGradient id="gcB" gradientUnits="userSpaceOnUse" x1="1518.9" y1="416.3" x2="1553.1" y2="129.3"><stop offset="0.000" stop-color="#3a48a5"/><stop offset="0.060" stop-color="#3850aa"/><stop offset="0.118" stop-color="#3558b0"/><stop offset="0.198" stop-color="#2c5aae"/><stop offset="0.271" stop-color="#2668ae"/><stop offset="0.350" stop-color="#1a7a98"/><stop offset="0.430" stop-color="#168a88"/><stop offset="0.510" stop-color="#2a9470"/><stop offset="0.589" stop-color="#4f9a50"/><stop offset="0.693" stop-color="#7f963c"/><stop offset="0.786" stop-color="#a48c38"/><stop offset="0.908" stop-color="#a89538"/><stop offset="1.000" stop-color="#a8aa3a"/></linearGradient>
<linearGradient id="mgc" gradientUnits="userSpaceOnUse" x1="1537.8" y1="319.8" x2="1645.6" y2="392.3"><stop offset="0" stop-color="#000"/><stop offset="1" stop-color="#fff"/></linearGradient>
<mask id="mkc" maskUnits="userSpaceOnUse" x="640" y="40" width="1294" height="460"><rect x="640" y="40" width="1294" height="460" fill="url(#mgc)"/></mask></defs>
<path d="M1391.9,325 L1397.7,316.2 L1403.3,307.3 L1408.8,298.4 L1414.3,289.4 L1419.7,280.4 L1425.2,271.4 L1430.7,262.5 L1436.2,253.5 L1441.8,244.6 L1447.4,235.7 L1453.1,226.9 L1458.9,218.1 L1464.7,209.4 L1470.7,200.7 L1476.7,192.2 L1482.9,183.7 L1489.1,175.2 L1495.4,166.8 L1501.7,158.4 L1508.1,150 L1514.4,141.6 L1520.7,133.2 L1526.9,124.7 L1533.1,116.3 L1539.2,107.7 L1545.2,99.1 L1550.3,89.9L1559.7,93 L1569.2,96.1 L1578.7,99.1 L1588.2,102.1 L1597.8,105 L1607.3,107.8 L1616.9,110.6 L1626.4,113.3 L1636,116 L1645.6,118.6 L1655.2,121.2 L1664.9,123.7 L1674.5,126.1 L1684.2,128.5 L1693.9,130.9 L1703.5,133.2 L1713.2,135.4 L1723,137.6 L1732.7,139.8 L1742.4,141.9 L1752.1,143.9 L1761.9,145.9 L1771.7,147.9 L1781.4,149.8 L1791.2,151.6 L1801,153.4 L1810.8,155.3L1805.2,164.4 L1799.4,173.4 L1793.6,182.4 L1787.8,191.4 L1781.9,200.3 L1776.1,209.3 L1770.2,218.2 L1764.3,227.2 L1758.4,236.1 L1752.5,245 L1746.6,253.9 L1740.6,262.8 L1734.7,271.7 L1728.7,280.6 L1722.7,289.4 L1716.7,298.3 L1710.7,307.1 L1704.6,316 L1698.6,324.8 L1692.5,333.6 L1686.4,342.4 L1680.4,351.2 L1674.2,360 L1668.1,368.8 L1662,377.5 L1655.9,386.3 L1649.8,395.1L1640,394.2 L1630.1,393.4 L1620.1,392.7 L1610.2,392 L1600.2,391.3 L1590.3,390.4 L1580.5,389.3 L1570.8,387.9 L1561.1,386.2 L1551.5,384.2 L1542,382 L1532.4,379.5 L1522.9,376.9 L1513.4,374.3 L1503.8,371.7 L1494.2,369 L1484.7,366.3 L1475.1,363.4 L1465.7,360.4 L1456.3,357.2 L1446.9,353.8 L1437.7,350.3 L1428.5,346.5 L1419.4,342.6 L1410.3,338.6 L1401.3,334.5 L1392.2,330.4Z" fill="url(#gcB)" mask="url(#mkc)"/>
<g clip-path="url(#cpc)">
<path d="M1510.3,77.9 L1550.3,89.9 L1559.7,93 L1569.2,96.1 L1578.7,99.1 L1588.2,102.1 L1597.8,105 L1607.3,107.8 L1616.9,110.6 L1626.4,113.3 L1636,116 L1645.6,118.6 L1655.2,121.2 L1664.9,123.7 L1674.5,126.1 L1684.2,128.5 L1693.9,130.9 L1703.5,133.2 L1713.2,135.4 L1723,137.6 L1732.7,139.8 L1742.4,141.9 L1752.1,143.9 L1761.9,145.9 L1771.7,147.9 L1781.4,149.8 L1791.2,151.6 L1801,153.4 L1810.8,155.3 L1850.8,163.3" stroke="#a9ab38" stroke-width="40" fill="none" opacity="0.95" filter="url(#bl8)"/>
<ellipse cx="1675" cy="172" rx="110" ry="28" fill="#b07a2c" opacity="0.25" filter="url(#bl20)" transform="rotate(13 1675 172)"/>
<defs><linearGradient id="hlc" gradientUnits="userSpaceOnUse" x1="1525" y1="157" x2="1563" y2="300"><stop offset="0" stop-color="#e0c060" stop-opacity="0"/><stop offset="0.1" stop-color="#dcc868" stop-opacity="0.45"/><stop offset="0.25" stop-color="#d8e880" stop-opacity="0.7"/><stop offset="0.5" stop-color="#e8fbe0" stop-opacity="0.92"/><stop offset="0.8" stop-color="#f2ffff" stop-opacity="1"/><stop offset="1" stop-color="#c0f4ff" stop-opacity="1"/></linearGradient></defs>
<circle cx="1521" cy="145" r="10" fill="#eaa860" opacity="0.75" filter="url(#bl8)"/>
<path d="M1524.2,162 L1534.2,189.4 L1541.6,214.3 L1549.1,241.7 L1555.3,266.5 L1560.3,286.4" stroke="#b8f0c8" stroke-width="14" fill="none" opacity="0.36" filter="url(#bl8)"/>
<path d="M1516.5,158 L1526.5,190 L1536.5,215 L1545.5,242 L1553,267 L1559,287 L1563,302 L1565.5,300 L1562.5,285 L1559,266 L1554.5,241 L1549,213 L1543,188 L1534,156 Z" fill="url(#hlc)" filter="url(#bl3)"/>
<path d="M1552.6,245.8C1555.2,243.2 1561.3,234.1 1568,230C1574.7,225.9 1582.1,221.6 1592.7,221.2C1603.3,220.8 1621.4,223.2 1631.5,227.7C1641.6,232.2 1651.2,241.9 1653.4,248.4C1655.6,254.9 1650.2,260.9 1644.4,266.5C1638.6,272.1 1627.1,277.9 1618.5,282C1609.9,286.1 1600.5,289.5 1592.7,291C1585,292.5 1577.6,293.8 1572,291C1566.4,288.2 1562.3,281.7 1559.1,274.2C1555.9,266.7 1553.7,250.5 1552.6,245.8" stroke="#0c2014" stroke-width="3.4" fill="none" opacity="0.55" stroke-dasharray="1 1.1"/>
<path d="M1652,266.5 L1722,227.7" stroke="#4a4a18" stroke-width="2.5" fill="none" opacity="0.3" filter="url(#bl1)"/>
<path d="M1564,305 L1572,392" stroke="#1f2f80" stroke-width="12" fill="none" opacity="0.3" filter="url(#bl8)"/>
</g>
<polyline points="766.1,134.9 766.1,377.7 1027.5,442.5 1187.3,333" fill="none" stroke="#000" stroke-width="1.6" stroke-linejoin="miter"/>
<line x1="766.1" y1="134.9" x2="759.3" y2="133.3" stroke="#000" stroke-width="1.4000000000000001"/>
<line x1="766.1" y1="203.9" x2="759.3" y2="202.3" stroke="#000" stroke-width="1.4000000000000001"/>
<line x1="766.1" y1="272.8" x2="759.3" y2="271.2" stroke="#000" stroke-width="1.4000000000000001"/>
<line x1="766.1" y1="341.3" x2="759.3" y2="339.7" stroke="#000" stroke-width="1.4000000000000001"/>
<line x1="766.1" y1="377.7" x2="760.5" y2="381.9" stroke="#000" stroke-width="1.4000000000000001"/>
<line x1="893.5" y1="409.3" x2="889.7" y2="412.5" stroke="#000" stroke-width="1.4000000000000001"/>
<line x1="1027.5" y1="442.5" x2="1021.9" y2="447.5" stroke="#000" stroke-width="1.4000000000000001"/>
<line x1="1027.5" y1="442.5" x2="1034.1" y2="445.1" stroke="#000" stroke-width="1.4000000000000001"/>
<line x1="1080.8" y1="406" x2="1087.4" y2="408.6" stroke="#000" stroke-width="1.4000000000000001"/>
<line x1="1134" y1="369.5" x2="1140.6" y2="372.1" stroke="#000" stroke-width="1.4000000000000001"/>
<line x1="1187.3" y1="333" x2="1193.9" y2="335.6" stroke="#000" stroke-width="1.4000000000000001"/>
<text x="903.4" y="39.5" font-family="Liberation Serif, Times New Roman, serif" font-size="31" stroke="#000" stroke-width="0.55">κ</text>
<text x="927.9" y="39.5" font-family="Liberation Sans, Arial, Helvetica, sans-serif" font-size="29.4">= 0.52</text>
<text x="748.5" y="142.4" font-family="Liberation Sans, Arial, Helvetica, sans-serif" font-size="30" text-anchor="end">1.7</text>
<text x="748.5" y="211" font-family="Liberation Sans, Arial, Helvetica, sans-serif" font-size="30" text-anchor="end">1.6</text>
<text x="748.5" y="279.6" font-family="Liberation Sans, Arial, Helvetica, sans-serif" font-size="30" text-anchor="end">1.5</text>
<text x="748.5" y="348" font-family="Liberation Sans, Arial, Helvetica, sans-serif" font-size="30" text-anchor="end">1.4</text>
<text x="752" y="405.3" font-family="Liberation Sans, Arial, Helvetica, sans-serif" font-size="30" text-anchor="end">–0.1</text>
<text x="878.6" y="444.3" font-family="Liberation Sans, Arial, Helvetica, sans-serif" font-size="30" text-anchor="middle">0</text>
<text x="997" y="476.2" font-family="Liberation Sans, Arial, Helvetica, sans-serif" font-size="30" text-anchor="middle">0.1</text>
<text x="1055.5" y="458.5" font-family="Liberation Sans, Arial, Helvetica, sans-serif" font-size="30" text-anchor="middle">2</text>
<text x="1117" y="425.5" font-family="Liberation Sans, Arial, Helvetica, sans-serif" font-size="30" text-anchor="middle">2.2</text>
<text x="1171.5" y="387.5" font-family="Liberation Sans, Arial, Helvetica, sans-serif" font-size="30" text-anchor="middle">2.4</text>
<text x="1220" y="347" font-family="Liberation Sans, Arial, Helvetica, sans-serif" font-size="30" text-anchor="middle">2.6</text>
<text x="845" y="468.6" font-family="Liberation Sans, Arial, Helvetica, sans-serif" font-size="30" font-style="italic">K</text>
<text x="864" y="476.5" font-family="Liberation Sans, Arial, Helvetica, sans-serif" font-size="22" font-style="italic">x</text>
<text x="1152" y="440.7" font-family="Liberation Sans, Arial, Helvetica, sans-serif" font-size="30" font-style="italic">K</text>
<text x="1171" y="449" font-family="Liberation Sans, Arial, Helvetica, sans-serif" font-size="22" font-style="italic">z</text>
<text x="659.2" y="279.6" font-family="Liberation Serif, Times New Roman, serif" font-size="32" stroke="#000" stroke-width="0.55">ω</text>
<polyline points="1387.2,141.7 1387.2,370.6 1646.4,442.1 1807.3,326.5" fill="none" stroke="#000" stroke-width="1.6" stroke-linejoin="miter"/>
<line x1="1387.2" y1="141.7" x2="1380.4" y2="140.1" stroke="#000" stroke-width="1.4000000000000001"/>
<line x1="1387.2" y1="206.8" x2="1380.4" y2="205.2" stroke="#000" stroke-width="1.4000000000000001"/>
<line x1="1387.2" y1="272" x2="1380.4" y2="270.4" stroke="#000" stroke-width="1.4000000000000001"/>
<line x1="1387.2" y1="337.4" x2="1380.4" y2="335.8" stroke="#000" stroke-width="1.4000000000000001"/>
<line x1="1387.2" y1="370.6" x2="1381.6" y2="374.8" stroke="#000" stroke-width="1.4000000000000001"/>
<line x1="1514.4" y1="405.7" x2="1510.6" y2="408.9" stroke="#000" stroke-width="1.4000000000000001"/>
<line x1="1646.4" y1="442.1" x2="1640.8" y2="447.1" stroke="#000" stroke-width="1.4000000000000001"/>
<line x1="1646.4" y1="442.1" x2="1653" y2="444.7" stroke="#000" stroke-width="1.4000000000000001"/>
<line x1="1700" y1="403.6" x2="1706.6" y2="406.2" stroke="#000" stroke-width="1.4000000000000001"/>
<line x1="1753.7" y1="365" x2="1760.3" y2="367.6" stroke="#000" stroke-width="1.4000000000000001"/>
<line x1="1807.3" y1="326.5" x2="1813.9" y2="329.1" stroke="#000" stroke-width="1.4000000000000001"/>
<text x="1569.8" y="39.5" font-family="Liberation Serif, Times New Roman, serif" font-size="31" stroke="#000" stroke-width="0.55">κ</text>
<text x="1594.3" y="39.5" font-family="Liberation Sans, Arial, Helvetica, sans-serif" font-size="29.4">= 0.5228</text>
<text x="1370.7" y="150.5" font-family="Liberation Sans, Arial, Helvetica, sans-serif" font-size="30" text-anchor="end">1.7</text>
<text x="1370.7" y="215.3" font-family="Liberation Sans, Arial, Helvetica, sans-serif" font-size="30" text-anchor="end">1.6</text>
<text x="1370.7" y="280.1" font-family="Liberation Sans, Arial, Helvetica, sans-serif" font-size="30" text-anchor="end">1.5</text>
<text x="1370.7" y="345.5" font-family="Liberation Sans, Arial, Helvetica, sans-serif" font-size="30" text-anchor="end">1.4</text>
<text x="1379.5" y="405.3" font-family="Liberation Sans, Arial, Helvetica, sans-serif" font-size="30" text-anchor="end">–0.1</text>
<text x="1499.9" y="437.2" font-family="Liberation Sans, Arial, Helvetica, sans-serif" font-size="30" text-anchor="middle">0</text>
<text x="1619.2" y="475.7" font-family="Liberation Sans, Arial, Helvetica, sans-serif" font-size="30" text-anchor="middle">0.1</text>
<text x="1674.2" y="462.3" font-family="Liberation Sans, Arial, Helvetica, sans-serif" font-size="30" text-anchor="middle">2</text>
<text x="1737.4" y="423.5" font-family="Liberation Sans, Arial, Helvetica, sans-serif" font-size="30" text-anchor="middle">2.2</text>
<text x="1795.6" y="385.5" font-family="Liberation Sans, Arial, Helvetica, sans-serif" font-size="30" text-anchor="middle">2.4</text>
<text x="1843" y="341.5" font-family="Liberation Sans, Arial, Helvetica, sans-serif" font-size="30" text-anchor="middle">2.6</text>
<text x="1464.7" y="466.1" font-family="Liberation Sans, Arial, Helvetica, sans-serif" font-size="30" font-style="italic">K</text>
<text x="1483.7" y="474" font-family="Liberation Sans, Arial, Helvetica, sans-serif" font-size="22" font-style="italic">x</text>
<text x="1777.5" y="433.8" font-family="Liberation Sans, Arial, Helvetica, sans-serif" font-size="30" font-style="italic">K</text>
<text x="1796.5" y="442" font-family="Liberation Sans, Arial, Helvetica, sans-serif" font-size="22" font-style="italic">z</text>
<text x="1292.2" y="278.6" font-family="Liberation Serif, Times New Roman, serif" font-size="32" stroke="#000" stroke-width="0.55">ω</text>
<g><clipPath id="hc1"><rect x="158.9" y="605.2" width="409.7" height="405.2"/></clipPath><g clip-path="url(#hc1)">
<rect x="158.9" y="605.2" width="409.7" height="405.2" fill="#2a2e83"/>
<path fill="#2a318b" d="M155.2,601.5 572.3,601.5 572.3,1014.1 155.2,1014.1ZM185,927.4 183.1,927.8 181.1,929.4 181.2,931.3 182.3,933 184.3,934.9 187.3,936.7 188.7,937.2 190.6,937.7 192.4,937.7 194.3,937.2 195,936.7 196.1,934.9 196,933 194.9,931.2 192.4,929.1 190.6,928.3 186.8,927.4Z"/>
<path fill="#2d3692" d="M155.2,601.5 572.3,601.5 572.3,1014.1 155.2,1014.1 155.2,939.8 158.9,939.8 160.8,940.6 170.1,946 177.5,949.9 181.2,951.5 186.8,953.5 190.6,954.4 194.3,954.8 198,954.8 201.7,954 203.8,953.3 205.5,952.5 207.3,951.2 209.2,949.5 211,946.9 212.2,944.1 212.6,942.3 212.7,940.4 212.5,938.6 211.6,934.9 210.2,931.2 208.3,927.5 207.1,925.7 205.5,923.4 201.7,919.5 198,916.4 194.3,914 190.6,912 186.8,910.4 183.1,909 179.4,907.9 175.7,907.1 171.9,906.6 168.2,906.4 164.5,906.5 158.9,907.2 155.2,907.2 155.2,720.4 158.9,720.4 166.3,721.8 171.9,722.5 179.4,723 190.6,723.3 220.6,723.1 265,722.5 293,722.3 317.2,722.6 365.6,724 384.2,724.5 404.7,725.4 415.9,726 421.5,726.1 425.2,726 428.9,725.6 432.7,724.7 434.5,724 436.4,723 438.3,721.2 439.2,719.4 439.7,717.6 439.7,715.7 439.3,713.9 438.2,711.5 436.4,709.4 434.5,708 430.8,706.3 427.1,705.3 423.3,704.5 417.8,703.8 408.4,703.2 389.8,702.5 378.6,701.8 361.9,700.3 332.1,697.2 313.5,695.4 291.1,693.8 261.3,692.1 233.4,690.5 214.8,689.8 183.1,689 173.8,689 168.2,689.2 162,689.9 158.9,690.4 155.2,690.4Z"/>
<path fill="#323d98" d="M155.2,601.5 572.3,601.5 572.3,1014.1 155.2,1014.1 155.2,952 158.9,952 162.6,953.5 171.9,958 179.4,961.2 185,963.2 190.6,964.6 194.3,965 198,965.1 201.7,964.7 205.5,963.8 209.2,962.2 211.5,960.7 214.8,957.9 217,955.1 218.5,952.6 219.7,949.6 220.7,945.9 220.9,942.3 220.3,938.6 219,934.9 216.5,929.4 212.9,923 211,920.1 206.9,914.6 203.6,910.9 199.6,907.3 196.1,904.5 192,901.7 188.7,899.9 184.7,898 181.2,896.8 177.5,895.9 173.8,895.2 168.2,894.8 162.6,894.8 155.2,895 155.2,732 158.9,732 170.1,732.8 181.2,733.2 198,733.3 268.8,732.2 300.4,731.7 339.5,731.6 365.6,731.7 410.3,730.8 419.6,730.4 425.2,730 430.8,729.1 434.5,728.2 438.2,726.6 440.5,724.9 442.1,723.1 443.2,721.2 443.9,719.4 444.7,715.7 444.8,713.9 444.7,712 444.3,710.2 443.6,708.3 442,706 440.1,704.3 437.8,702.8 432.7,700.8 425.2,698.8 417.8,697.5 408.4,696.4 384.2,694.4 361.9,692 326.5,688 311.6,686.6 294.8,685.5 239,682.6 212.9,681.5 183.1,680.6 171.9,680.5 164.5,680.8 158.9,681.1 155.2,681.1Z"/>
<path fill="#36459e" d="M155.2,601.5 572.3,601.5 572.3,1014.1 155.2,1014.1 155.2,962.3 158.9,962.3 162.6,963.5 175.7,969.1 181.2,971.3 186.8,973 190.6,973.8 194.3,974.3 198,974.5 201.7,974.2 205.5,973.5 209.2,972.2 212.9,970.4 216.6,967.6 218.5,965.9 220.4,963.7 222.4,960.7 224.3,957 225.6,953.3 226.3,949.6 226.7,945.9 226.5,942.3 225.8,938.6 223.8,933 220.1,925.7 216.1,918.3 212.8,912.8 209.1,907.3 204.9,901.7 201.7,898 197.9,894.4 194.3,891.4 190.4,888.8 186.8,887 183.1,885.6 179.4,884.6 175.7,884 170.1,883.5 155.2,883.6 155.2,741.9 183.1,742.2 205.5,742 261.3,741 319.1,739.2 360,738 374.9,737.3 399.1,735.6 416.4,734.1 425.2,733.1 430.8,732.1 434.5,731.2 436.7,730.4 440.3,728.6 442.5,726.8 444.2,724.9 445.7,722.6 447.9,717.6 448.9,713.9 449.4,710.2 449.3,708.3 449.1,706.5 448.5,704.7 447.5,702.8 445.7,700.7 443.7,699.1 442,698.2 438.2,696.7 425.2,693.3 419.6,692.1 410.3,690.7 376.8,687 324.6,680.6 313.5,679.5 300.4,678.5 237.1,675.5 186.8,673.7 171.9,673.3 155.2,673.3Z"/>
<path fill="#384ba2" d="M155.2,601.5 572.3,601.5 572.3,1014.1 155.2,1014.1 155.2,971.8 158.9,971.8 162.6,972.9 175.7,978.5 183.1,981.3 188.7,982.8 192.4,983.5 196.1,983.8 199.9,983.8 203.6,983.4 207.3,982.6 211.9,980.9 215.4,979.1 218.5,977 220.4,975.4 222.2,973.6 224.1,971.4 226.4,968 228.3,964.4 229.7,960.7 230.7,957 231.4,953.3 231.7,949.6 231.5,944.1 230.8,940.4 229.7,936.2 227.7,931.2 218.5,912.6 212.9,901.7 208.8,894.4 205.4,888.8 201.3,883.3 199.7,881.5 197.9,879.6 194.3,876.6 190.1,874.1 186.8,872.6 183.1,871.4 177.5,870.3 171.9,869.8 158.9,869.3 155.2,869.3 155.2,752 173.8,751.5 205.5,751.2 237.1,750.7 263.2,750.3 278.1,749.7 300.4,748.2 324.6,746.4 350.7,744.7 365.6,743.6 380.5,742.1 401,739.4 417.8,737 425.2,735.8 432.9,734.1 436.4,733.1 438.4,732.3 442,730.2 443.9,728.6 445.7,726.6 448.1,723.1 450.1,719.4 452.6,713.9 453.9,710.2 455,706.4 455.3,704.7 455.5,702.8 455.3,701 454.8,699.1 453.9,697.3 452.5,695.4 450.2,693.6 447.6,692.2 443.8,691 434.5,689.5 425.2,687.2 417.8,685.7 404.7,683.9 378.2,680.7 345.1,676.3 320.9,673.1 309.7,672 298.6,671.3 257.6,669.7 216.6,668 168.2,666.1 158.9,665.9 155.2,665.9Z"/>
<path fill="#3a4fa4" d="M155.2,601.5 572.3,601.5 572.3,1014.1 155.2,1014.1 155.2,981.9 158.9,981.9 162.6,983.1 174,988.3 179.4,990.5 185,992.3 188.7,993.2 192.6,993.8 196.1,994.1 199.9,994.1 203.6,993.7 207.3,993 211,991.8 214.9,990.1 218.5,988.1 222.2,985.3 225.9,981.7 228.1,979.1 230.5,975.4 232.5,971.7 233.9,968 235.5,962.5 236.1,958.8 236.5,955.1 236.6,951.5 236.4,947.8 235.9,944.1 235.1,940.4 234.1,936.7 231.2,929.4 226.8,920.2 222.9,910.9 219.3,901.7 215.9,892.5 211,877.8 209,872.3 207.3,868.5 205.4,864.9 203.6,862.3 201,859.4 198,857 194.3,854.9 190.6,853.5 186.8,852.5 181.2,851.5 164.5,849.8 158.9,849.2 155.2,849.2 155.2,765.1 158.9,765.1 166.3,764 173.8,763.3 185,762.9 199.9,762.7 216.6,762.7 233.4,763 252,763.7 263.2,764.2 270.6,764.2 276.2,763.8 281.8,763.2 293,761.1 307.9,758 322.8,755.3 339.5,752.8 365.6,749.3 380.5,747 410.3,741.3 423.3,738.7 432.7,736.4 436.4,735.3 440.1,733.8 442.5,732.3 445.7,729.5 448,726.8 451.8,721.2 456.9,712.7 460.6,707.2 466.2,701 468,698.4 468.6,697.3 469.2,695.4 469.4,693.6 469.4,691.8 469.1,689.9 468,687.1 466,684.4 463.6,682.6 460.6,681.2 458.7,680.6 455,680.1 451.3,680.1 440.1,680.7 436.4,680.7 430.8,680.2 408.4,677.4 382.4,674.3 361.9,671.5 322.8,665.4 313.5,664.3 306,663.7 287.4,663.1 261.3,662.5 225.9,661.4 194.3,660.1 175.7,659.1 160.8,658.1 155.2,658Z"/>
<path fill="#3a52a5" d="M155.2,601.5 572.3,601.5 572.3,1014.1 155.2,1014.1 155.2,995.8 158.9,995.8 162.6,996.9 173.8,1001.2 179.4,1003.2 185.6,1004.9 190.6,1005.8 194.3,1006.1 198,1006.2 201.7,1005.9 205.5,1005.3 209.2,1004.4 212.9,1003 216.8,1001.2 220.4,999.1 224.9,995.7 227.8,993 230.4,990.1 233.4,986.1 235.4,982.8 237.2,979.1 239.3,973.6 240.2,969.9 240.9,966.2 241.5,960.7 241.5,955.1 241.1,949.6 240.2,944.1 238.8,938.6 236.9,933 231.2,920.2 229,914.6 226.4,907.3 223.8,898 222.6,892.5 221.7,887 221.1,881.5 220.9,875.9 221.1,870.4 221.7,864.9 222.5,861.2 223.5,857.5 224.8,853.8 226.6,850.2 228.7,846.5 235.3,836.9 237.4,833.6 241.4,826.2 243.7,822.5 246.9,818.9 251.1,815.2 256.5,811.5 261.3,808.8 268.8,805.3 280.2,800.4 284.1,798.6 287.4,796.7 289.9,794.9 293.5,791.2 299.3,783.9 302.5,780.2 306.3,776.5 309.7,773.7 314,771 319.1,768.3 324.6,766 332.1,763.5 341.4,760.9 356.3,757.4 374.9,753.2 419.6,742.1 430.8,739.1 436.4,737.4 440.1,735.9 443.8,733.7 445.7,732.1 449.4,727.9 454.4,721.2 458.7,715.3 462.5,711 466.2,707.7 470.4,704.7 472.5,702.8 474,701 475.9,697.3 477,693.6 477.6,689.9 477.7,686.2 477.3,682.6 476.2,678.9 475.3,677 473.6,674.5 471.8,672.4 469.9,670.9 468,669.6 466.2,668.7 462.5,667.3 458.7,666.5 455,666.1 451.3,666.1 445.7,666.6 434.5,668.1 428.9,668.6 421.5,668.9 412.2,668.7 401,668 388,666.8 374.9,665.1 360,662.9 345.1,660.3 324.6,656.2 317,654.9 309.7,654.1 302.3,653.8 285.5,653.9 265,654.2 242.7,654.1 220.4,653.6 201.7,652.9 186.8,652 173.8,650.9 160.8,649.5 155.2,649.3ZM176.5,785.7 181.2,784.9 186.8,784.5 192.4,784.6 198,785.1 202.1,785.7 207.3,787 211,788.3 213.5,789.4 216.6,791.3 218.8,793.1 220.4,794.9 221.6,796.7 222.4,798.6 222.9,800.4 223.2,802.3 223.1,804.1 222.8,806 222,807.8 220.4,809.8 218.2,811.5 214.5,813.3 209.2,815.2 201.7,817.1 192.4,819 185,820 179.4,820.3 173.8,820.3 170.1,819.9 166.3,819.2 164.5,818.6 158.9,816.1 155.2,816.1 155.2,794.8 158.9,794.8 164.5,790.7 166.6,789.4 170.4,787.5 173.8,786.4Z"/>
<path fill="#3a55a7" d="M155.2,601.5 572.3,601.5 572.3,1014.1 226.4,1014.1 226.4,1010.4 227.8,1008.6 231.5,1004.6 235.3,1000.2 237.2,997.5 239.5,993.8 241.4,990.1 243,986.5 244.8,980.9 246,975.4 246.7,969.9 247,964.4 246.8,958.8 246.3,953.3 245.4,947.8 244.1,942.3 242.4,936.7 240.3,931.2 234.8,918.3 232.8,912.8 231.2,907.3 229.5,899.9 228.6,894.4 228.2,888.8 228.3,883.3 228.6,879.6 229.2,875.9 230.1,872.3 231.5,868.3 233.4,864.4 235.3,861.2 238.1,857.5 241.5,853.8 248.3,847.6 251,844.6 253.9,841 258,835.4 262.4,829.9 266.9,825.2 270.6,821.9 274.5,818.9 279.9,815 291.3,807.8 296.7,803.8 300.6,800.4 306.2,794.9 311.6,789.4 315.5,785.7 320.9,781.2 325,778.3 332.1,774.2 339.5,770.7 348.9,767 360,763.3 389.8,753.9 408.4,748 427.1,742.3 436.4,739.3 440.3,737.8 443.8,735.8 446,734.1 447.9,732.3 454.1,724.9 458.7,719.2 462.5,715.1 466.2,711.7 473.7,706.5 475.8,704.7 477.4,702.8 479.6,699.1 481.3,695.4 483.2,689.9 484,686.2 484.5,682.6 484.4,678.9 483.9,675.2 482.8,671.5 481,667.8 479.2,665.4 477.3,663.4 475.5,661.7 473.6,660.3 469.9,658.1 466.2,656.4 460.6,654.7 455,653.7 449.4,653.1 442,653.1 436.4,653.6 419.6,656.2 412.2,657.1 404.7,657.5 397.3,657.4 388,657 378.6,656 369.3,654.8 358.2,652.8 347,650.4 334,647.2 322.8,644.3 317.2,643.1 311.6,642.3 306,642.1 298.6,642.3 274.4,644 259.5,644.8 244.6,645.3 227.8,645.4 212.9,645.1 199.9,644.6 188.7,643.8 177.5,642.7 160.8,640.4 155.2,640.2Z"/>
<path fill="#3b58a9" d="M155.2,601.5 572.3,601.5 572.3,1014.1 243.4,1014.1 243.4,1010.4 245,1006.7 247.5,1001.2 249.5,995.7 251,990.1 252.1,984.6 252.7,979.1 253,973.6 252.9,968 252.5,962.5 251.8,957 250.8,951.5 249.4,945.9 247.8,940.4 245.2,933 239.9,920.2 237.8,914.6 236.2,909.1 235,903.6 234.2,898 233.9,892.5 233.9,888.8 234.3,885.2 235.3,879.6 236.5,875.9 238,872.3 239.9,868.6 242.7,864.5 245.4,861.2 250.7,855.7 256.2,850.2 265.6,839.1 269,835.4 272.6,831.7 278.9,826.2 286.1,820.7 296.7,813.1 304.2,807.3 319.1,794.4 326.5,788.4 334,783.3 339.5,779.9 347,775.9 354.4,772.5 367.5,767 399.7,754.4 412.2,749.8 432.7,742.5 438.2,740.6 442,738.9 443.9,737.8 446.4,736 450.1,732.3 458.7,722.5 462.5,718.5 466.2,715.1 470.2,712 475.6,708.3 477.8,706.5 479.5,704.7 482.3,701 485.5,695.4 487.3,691.8 488.8,688.1 490,684.4 490.8,680.7 491.2,677 491.2,673.3 490.7,669.7 489.6,666 487.9,662.3 486.7,660.3 483.8,656.8 481.1,654.2 477.2,651.2 473.6,649.2 469.9,647.4 464.3,645.3 458.7,643.7 453.1,642.5 447.6,641.6 442,641 436.4,640.7 432.7,640.9 427.1,641.5 412.2,644.1 404.7,645 397.3,645.5 389.8,645.5 382.4,645.1 374.9,644.4 367.5,643.3 360,641.9 350.7,639.8 337.7,636.2 324.6,632.4 317.2,630.8 313.5,630.2 307.9,629.8 302.3,629.9 293,630.6 265,633.7 252,634.8 239,635.6 225.9,636.1 212.9,636.1 201.7,635.7 190.6,635 181.2,634.1 170.1,632.6 160.8,631.2 155.2,631Z"/>
<path fill="#3b5aab" d="M155.2,601.5 572.3,601.5 572.3,1014.1 257.1,1014.1 257.1,1010.4 258.9,1001.2 259.7,995.7 260.2,990.1 260.3,984.6 260.1,977.2 259.4,969.9 258.2,962.5 256.6,955.1 254.6,947.8 251.6,938.6 248,929.4 244.2,920.2 242.2,914.6 240.7,909.1 239.6,903.6 239,898 239,892.5 239.3,888.8 240,885.2 241,881.5 243.1,875.9 245.1,872.3 248.9,866.7 252,863 265.7,848.3 270.8,842.8 276.4,837.3 282.6,831.7 289.5,826.2 304.2,815.2 320.9,801.8 328.4,796 335.8,790.7 341.4,787.1 350.7,781.6 358.2,777.6 369.3,772.1 395.7,759.9 408.4,754.3 430.9,745.2 440.5,741.5 444.2,739.7 447.6,737.2 451.3,733.5 459.2,724.9 464.8,719.4 469.9,715.1 477.3,709.9 479.3,708.3 481.2,706.5 484.8,702.3 488.5,697.1 491.8,691.8 494.6,686.2 496.1,682.6 497.2,678.9 497.9,675.2 498.2,671.5 498,667.8 497.3,664.1 496,660.3 494.1,656.6 491.7,653.1 490.2,651.2 488.5,649.4 484.2,645.7 481.1,643.6 477.3,641.4 473.6,639.6 468,637.3 462.5,635.4 455,633.4 447.6,631.9 441.8,631 436.4,630.5 430.8,630.3 423.3,630.7 406.6,632.4 399.1,632.9 391.7,633.1 382.4,632.8 374.9,632.1 367.5,631 358.2,629.1 347,626.3 332.1,622.3 324.6,620.5 319.1,619.5 313.5,618.7 307.9,618.3 300.4,618.2 293,618.5 283.7,619.3 272.5,620.7 253.9,623.3 242.7,624.6 231.5,625.5 220.4,626 209.2,626.2 198,625.9 186.8,625.2 175.7,624 160.8,622.1 155.2,621.9Z"/>
<path fill="#3d5ead" d="M155.2,601.5 572.3,601.5 572.3,1014.1 269.6,1014.1 269.8,1003 269.6,995.7 269.1,988.3 268.1,980.9 266.8,973.6 264.6,964.4 262.6,957 260.2,949.6 256.8,940.4 249.3,922 247.2,916.5 245.6,910.9 244.4,905.4 244,901.7 243.8,898 243.9,894.4 244.3,890.7 245,887 246.8,881.5 248.4,877.8 250.5,874.1 254.4,868.6 259.5,862.7 271.3,850.2 278.7,842.8 285.5,836.7 294.8,829.2 320.9,809 330.2,802.1 341.4,794.3 350.7,788.4 360,782.9 373.1,775.7 400,761.8 411.1,756.2 431.6,747 442,742.8 445.7,740.7 447.6,739.4 449.4,737.8 456.9,729.9 464.3,722.8 468.1,719.4 473.6,715.2 479.2,711.3 482.9,708.1 487.9,702.8 492.4,697.3 496.5,691.8 498.8,688.1 500.9,684.4 502.6,680.7 503.9,677 504.8,673.3 505.2,669.7 505.2,666 504.7,662.3 503.4,658 501.2,653.1 498.8,649.4 495.9,645.7 494.1,643.8 490,640.2 486.7,637.8 481.1,634.4 475.5,631.8 468,628.9 460.6,626.5 453.1,624.4 445.7,622.8 438.2,621.5 430.8,620.8 423.3,620.5 399.1,620.8 389.8,620.6 382.4,620.2 374.9,619.3 365.6,617.9 356.3,616 334,610.7 322.8,608.4 315.3,607.2 307.9,606.3 302.3,605.9 294.8,605.9 287.4,606.3 276.2,607.5 268.8,608.5 250.2,611.7 239,613.3 227.8,614.5 218.5,615.2 209.2,615.5 198,615.5 186.8,615.1 175.7,614.2 164.5,613 158.9,612.4 155.2,612.4Z"/>
<path fill="#3f65b1" d="M370.2,601.5 572.3,601.5 572.3,1014.1 281.6,1014.1 281.6,1010.4 281.1,1004.9 279.7,995.7 277.7,986.5 275.3,977.2 272.4,968 268.5,957 264.1,945.9 255.4,925.7 251.8,916.5 250.1,910.9 249.3,907.3 248.8,903.6 248.6,899.9 248.6,896.2 249,892.5 249.8,888.8 251,885.2 252.5,881.5 254.5,877.8 258.1,872.3 263.2,866 269.3,859.4 276.5,852 284.3,844.6 291.1,838.8 309.7,824 324.6,812.6 339.5,802 348.9,795.7 360,788.6 369.3,783.1 388,772.4 406.9,761.8 414,757.9 432.7,748.7 442,744.7 445.7,742.8 447.6,741.5 449.9,739.7 453.6,736 457.1,732.3 466.2,724 471.8,719.3 479.4,713.9 484.1,710.2 491.6,702.8 496.7,697.3 501.6,691.5 504.1,688.1 507.6,682.6 509.4,678.9 510.9,675.1 511.8,671.5 512.3,667.8 512.4,664.1 511.9,660.5 510.9,656.2 509.7,653.1 507.8,649.4 505.3,645.4 502.6,642 499.2,638.4 495,634.7 492.2,632.6 488.5,630.1 482.9,627.1 477.3,624.6 469.9,621.7 458.7,618 451.3,615.8 443.8,613.9 436.4,612.5 428.9,611.4 419.6,610.5 395.4,609 386.1,608.1 378.1,607 370.2,605.2Z"/>
<path fill="#426fb9" d="M445.7,601.5 572.3,601.5 572.3,1014.1 293.5,1014.1 293.5,1010.4 292.9,1006.7 291.1,999.1 289.1,992 286.5,984.6 283,975.4 279.1,966.2 271.5,949.6 264.4,934.9 259.5,923.8 257.2,918.3 255.3,912.8 254.4,909.1 253.8,905.4 253.5,901.7 253.5,898 253.9,894.2 254.6,890.7 255.8,887 257.6,882.9 259.5,879.5 261.8,875.9 265.9,870.4 270.7,864.9 278.1,857.3 283.7,851.8 291.6,844.6 300.5,837.3 315.3,825.4 324.6,818.3 332.1,812.9 347.3,802.3 365.6,790.4 388.4,776.5 412.9,761.8 419.6,758 433.4,750.7 438.2,748.4 443.8,745.9 448.2,743.3 451.3,740.9 458.7,733.4 470.7,723.1 475.5,719.3 481.1,715.4 485.5,712 496,702.6 501.6,697.2 507.1,691.1 509.7,688.1 513.6,682.6 515.7,678.9 517.4,675.2 518.7,671.5 519.5,667.8 519.8,664.1 519.6,660.5 519,656.8 517.9,653.1 516.4,649.4 514.4,645.7 511.9,642 508.9,638.4 505.3,634.4 501.6,631 497,627.3 494.1,625.3 490.4,623.1 482.9,619.5 473.6,615.7 462.5,611.5 449.9,607 445.7,605.2Z"/>
<path fill="#447ec4" d="M468,601.5 572.3,601.5 572.3,1014.1 305.5,1014.1 305.5,1010.4 304.7,1006.7 301.8,997.5 299.8,992 296.6,984.6 292.1,975.4 286.3,964.4 279.9,952.9 270.2,934.9 266.6,927.5 263.2,919.9 261.1,914.6 260,910.9 259.3,907.3 258.9,903.6 258.8,899.9 259,896.2 259.7,892.5 261.7,887 263.5,883.3 265.6,879.6 269.5,874.1 272.5,870.3 279.1,863.1 287.4,854.8 294.8,848 307.9,837 317.2,829.4 326.5,822.2 334,816.7 350.7,805 369.3,792.8 393.5,777.5 415.9,763.3 431.4,754.4 436.4,751.7 443.8,748.1 447.6,746 451.3,743.3 455.4,739.7 459.1,736 466.2,729.8 474.4,723.1 479.5,719.4 484.8,715.6 498.2,704.7 506.5,697.3 512.7,691.1 517,686.2 521,680.7 523.2,677 525,673.3 526.4,669.7 527.3,666 527.6,662.3 527.5,658.6 527,654.9 525.8,650.8 523.4,645.7 521.1,642 518.3,638.4 514.6,634.2 509,628.8 505.2,625.5 499.7,621.2 494.1,617.7 486.7,614 474.8,608.9 470.9,607 468,605.2Z"/>
<path fill="#4492d2" d="M484.8,601.5 572.3,601.5 572.3,1014.1 317.1,1014.1 317.1,1010.4 316.2,1006.7 314.5,1001.2 312.4,995.7 309.1,988.3 305.3,980.9 299.9,971.7 285.5,949.1 278,936.7 273.8,929.4 270.2,922 267.8,916.5 266.6,912.8 265.6,909.1 265,905.4 264.7,901.7 264.9,898 265.5,894.4 267.3,888.8 269,885.2 271,881.5 274.7,875.9 279.1,870.4 284,864.9 289.4,859.4 295.1,853.8 304.2,845.7 317.2,834.7 328.4,825.8 335.8,820.2 353.5,807.8 371.2,795.9 401.3,776.5 418,765.4 433.1,756.2 440.1,752.4 445.7,749.5 449.7,747 453.1,744.5 460.6,737.6 469.9,729.8 477.3,724 486.7,717.3 503.4,704.4 512,697.3 516.5,693.2 521.5,688.1 524.6,684.4 528.6,678.9 531.9,673.3 533.7,669.7 535.1,665.9 536,662.3 536.4,658.6 536.2,654.9 535.5,651.2 534.1,647.6 532.1,643.9 529.5,640.1 525.8,635.7 521,631 514.6,625.3 507.1,619.3 501.6,615.2 496,611.8 487.4,607 484.8,605.2Z"/>
<path fill="#3ba7e1" d="M497.9,601.5 572.3,601.5 572.3,1014.1 327.4,1014.1 327.4,1010.4 326.5,1006.6 324.1,999.3 322,993.8 318.6,986.5 315.3,980.5 311,973.6 303.6,962.5 293,947.4 285.5,936.3 281.2,929.4 278.1,923.7 275.6,918.3 274.1,914.6 272.9,910.9 272.1,907.3 271.6,903.6 271.6,899.9 272,896.2 272.9,892.5 274.4,888.4 276.9,883.3 280.3,877.8 284.4,872.3 289.3,866.5 296.7,858.7 304.2,851.5 311.8,844.6 320.9,836.9 332.1,827.8 339.5,822.1 352.6,812.8 373.4,798.6 401.4,780.2 421.5,766.6 432.7,759.5 438.2,756.1 445.7,752 449.4,749.8 453.3,747 464.3,737.5 475.6,728.6 481.1,724.5 488.5,719.2 505.9,706.5 513.2,701 518.3,696.8 522,693.5 525.8,689.8 530.6,684.4 535.1,678.8 537.6,675.2 541,669.7 542.8,666 544.6,660.5 545.2,656.8 545.2,653.1 544.4,649 543.2,645.7 540.7,641.3 538.5,638.4 535.1,634.5 531.4,630.9 524.9,625.5 514.6,617.6 503.4,609.6 499.7,606.9 497.9,605.2Z"/>
<path fill="#34baee" d="M508.4,601.5 572.3,601.5 572.3,1014.1 336.3,1014.1 336.3,1010.4 335.4,1006.7 333,999.3 330.1,992 327.6,986.5 324.6,980.7 320.2,973.6 312.7,962.5 300.4,945.4 291.9,933 288.4,927.5 285.2,922 283.4,918.3 281.3,912.8 279.8,907.3 279.2,903.6 279.2,899.9 279.5,896.2 280.3,892.5 282.2,887 284,883.3 286.1,879.6 289.8,874.1 294.1,868.6 299,863.1 306.2,855.7 313.9,848.3 324.6,838.9 335.8,829.6 343.3,823.8 358.2,813.1 376.8,800.2 404.7,781.6 428.9,765.1 438.2,759.2 447.6,753.6 453.1,750 457,747 466.2,739.2 477.6,730.4 496,717.3 511.3,706.5 518.9,701 523.9,696.9 527.6,693.5 533.2,687.9 539.7,680.7 542.7,677 546.7,671.5 548.9,667.8 550.8,664.1 552.2,660.5 553.1,656.8 553.5,653.1 553.1,649.4 551.8,644.9 549.6,640.2 547.1,636.5 543.9,632.8 540.2,629.1 535.1,624.8 527.6,619.3 514.6,610.5 510,607 508.4,605.2Z"/>
<path fill="#3bc5f0" d="M519,601.5 572.3,601.5 572.3,1014.1 344.1,1014.1 344.1,1010.4 343.2,1006.7 340.6,999.3 337.6,992 333.5,982.8 331.6,979.1 328.3,973.6 318.4,958.8 309.1,945.9 298,929.4 294.7,923.8 292.7,920.2 291,916.5 288.9,910.9 287.9,907.3 287.3,903.6 287.1,899.9 287.5,894.4 288.4,890.7 289.6,887 291.2,883.3 293.1,879.6 295.4,875.9 299.3,870.4 304.2,864.6 312.5,855.7 320,848.3 328.4,840.8 339.5,831.3 347,825.4 361.9,814.6 380.5,801.5 404.7,785.2 421.5,773.7 430.8,767.2 440.1,761.1 449.4,755.4 455,751.6 460.8,747 468,741.1 482.9,730 498,719.4 514.6,708.1 522,702.8 527.6,698.4 533.2,693.4 540.7,686 547.2,678.9 550.2,675.2 554.1,669.7 556.2,666 558,662.3 559.4,658.6 560.2,654.9 560.4,651.2 560,647.6 559.1,643.9 557.4,639.4 555.6,636 553.4,632.8 550,628.7 546.3,625 542.4,621.8 536.9,617.6 531.4,613.8 523.7,608.9 521,607 519,605.2Z"/>
<path fill="#55c7e7" d="M532.2,601.5 572.3,601.5 572.3,1014.1 351,1014.1 351,1010.4 350,1006.7 346.6,997.5 342.7,988.3 339.2,980.9 335.8,974.6 331.7,968 320.6,951.5 313,940.4 307.1,931.2 301.7,922 299,916.5 297.6,912.8 296.4,909.1 295.5,905.4 295,901.7 294.9,898 295.2,894.4 295.9,890.7 296.9,887 298.6,882.9 301.2,877.8 304.7,872.3 310.4,864.9 315.3,859.3 320.9,853.4 328.4,846.2 336.1,839.1 345.1,831.4 352.6,825.6 367.5,814.6 382.4,804 406.6,787.4 423.3,775.9 432.9,769.1 444.1,761.8 453.1,755.9 458.7,751.9 469.9,743.1 484.8,732.3 497.9,723.1 518.3,709.4 525.8,704.1 529.7,701 536.9,694.7 544.4,687.6 550,681.9 554.3,677 557.4,672.9 559.6,669.7 561.7,666 563.6,662.3 565,658.6 565.9,654.9 566.3,651.2 566.2,647.6 565.7,643.9 564.6,640.2 563,636 561.2,632.3 559.1,629.1 555.6,624.6 551,619.9 546.3,615.9 540.7,611.7 534.1,607 532.2,605.2Z"/>
<path fill="#66c8da" d="M545.1,601.5 572.3,601.5 572.3,631.6 568.6,631.6 566.7,629.1 563,623.4 558.7,618.1 555.1,614.4 550,609.8 546.7,607 545.1,605.2ZM568.4,664.1 568.6,663.8 572.3,663.8 572.3,1014.1 357.3,1014.1 357.3,1010.4 356.3,1006.6 353.5,999.3 349.6,990.1 345.1,980.8 341.3,973.6 335.7,964.4 320,940.4 314.3,931.2 309.2,922 306.6,916.5 305.2,912.8 304,909.1 303.2,905.4 302.6,901.7 302.5,898 302.6,894.4 303.2,890.7 304.2,887 305.5,883.3 307.1,879.6 310.3,874.1 314,868.6 319.9,861.2 324.8,855.7 330.2,850.1 337.8,842.8 346,835.4 352.7,829.9 367.5,818.6 382.4,807.7 417.8,783.1 435.1,771 453.1,759 460.6,753.7 471.8,745.2 490.4,731.9 503.4,722.9 520.2,711.8 527.6,706.5 533.2,702.2 539,697.3 547.1,689.9 552.8,684.4 557.8,678.9 562.1,673.3 565.8,667.8 567,666Z"/>
<path fill="#6dc8cb" d="M556.3,601.5 572.3,601.5 572.3,619.1 568.6,619.1 566.7,617.3 562.7,612.6 557.6,607 556.3,605.2ZM567,673.3 568.6,671.8 572.3,671.8 572.3,1014.1 363.5,1014.1 363.5,1010.4 362.4,1006.7 359.5,999.3 355.3,990.1 350.7,980.7 346.9,973.6 342.7,966.2 327.6,942.3 322.1,933 318,925.7 315.3,920.1 313,914.6 311.3,909.1 310.4,905.4 309.9,901.7 309.7,898 309.8,894.4 310.3,890.7 311.2,887 312.4,883.3 314,879.6 315.8,875.9 319.2,870.4 323.2,864.9 329.2,857.5 334.3,852 339.7,846.5 345.5,841 352.6,834.6 363.8,825.6 380.5,812.9 393.5,803.5 419.6,785.2 438.2,772.2 455,761 462.5,755.7 475.5,746 496,731.6 522.3,713.9 530.1,708.3 535.1,704.5 544.4,696.7 550,691.8 555.8,686.2 559.3,682.6 564,677Z"/>
<path fill="#70c8c2" d="M566.2,601.5 572.3,601.5 572.3,608 568.6,608 566.7,606.1 566.2,605.2ZM567.3,678.9 568.6,677.8 572.3,677.8 572.3,1014.1 369.5,1014.1 369.5,1010.4 368.4,1006.7 364.4,997.5 360,988.3 354.4,977.2 348.2,966.2 333.7,942.3 329.4,934.9 325.4,927.5 322.8,922 320.5,916.5 318.6,910.9 317.7,907.3 317,903.6 316.7,899.9 316.6,896.2 316.9,892.5 317.5,888.8 318.5,885.2 319.8,881.5 321.4,877.8 323.4,874.1 326.8,868.6 330.7,863.1 336.8,855.7 341.8,850.2 347.2,844.6 353.1,839.1 360,833.1 371.2,824 386.1,812.6 402.9,800.4 421.5,787.2 440.1,774.2 456.9,763 466.3,756.2 479.2,746.9 503.4,730.1 522,717.4 533.2,709.5 542.5,702.2 550.5,695.4 557.4,689.1 563.8,682.6 566.7,679.4Z"/>
<path fill="#75c7b2" d="M566.6,684.4 568.6,682.9 572.3,682.9 572.3,1014.1 375.5,1014.1 375.5,1010.4 374.3,1006.7 370.1,997.5 364.6,986.5 357.7,973.6 350.4,960.7 340.6,944.1 335.4,934.9 331.6,927.5 329,922 326.2,914.6 324.6,909 323.9,905.4 323.4,901.7 323.3,898 323.4,894.4 323.8,890.7 324.6,886.7 325.6,883.3 327,879.6 328.7,875.9 330.7,872.3 334.1,866.7 338.1,861.2 344.2,853.8 349.2,848.3 354.7,842.8 360.7,837.3 369.3,829.8 380.7,820.7 393.5,810.8 415.9,794.5 434.5,781.4 458.7,765 484.8,746.5 510.9,728.4 524,719.4 535.1,711.5 544.4,704.2 554.8,695.4 561.2,689.7Z"/>
<path fill="#7bc69f" d="M567.4,688.1 568.6,687.3 572.3,687.3 572.3,1014.1 381.6,1014.1 381.6,1010.4 380.2,1006.7 374.9,995.7 367.1,980.9 357.8,964.4 346.2,944.1 341.2,934.9 337.5,927.5 335.1,922 333.1,916.5 331.4,910.9 330.2,905 329.7,899.9 329.7,896.2 330,892.5 330.6,888.8 331.4,885.2 332.6,881.5 334.1,877.8 335.9,874.1 337.9,870.4 341.4,864.9 345.4,859.4 351.5,852 356.6,846.5 362.2,841 371.2,832.8 384.2,822 395.4,813.2 417.8,796.5 430.8,787.2 449.4,774.5 462.9,765.4 490.4,746 522,724 536.9,713.3 546.3,706.1 555.6,698.4 561.2,693.6 566.7,688.5Z"/>
<path fill="#81c68b" d="M567.7,691.8 568.6,691.2 572.3,691.2 572.3,1014.1 387.7,1014.1 387.7,1010.4 387.1,1008.6 383.5,1001.2 376.6,988.3 367.4,971.7 353.8,947.8 348.8,938.6 345.1,931.2 341.1,922 339.1,916.5 337.6,910.9 336.5,905.4 336.1,901.7 336,898 336.1,894.4 336.5,890.7 337.2,887 338.2,883.3 339.5,879.6 342,874.1 345.1,868.3 348.9,862.6 352.6,857.5 357.1,852 362.1,846.5 367.7,841 377.8,831.7 388.7,822.5 401,812.7 419.6,798.6 430.8,790.5 455,774 466.2,766.4 494.1,746.8 507.1,737.7 525.8,724.5 540.7,713.6 550,706.3 559.3,698.7 566.7,692.3Z"/>
<path fill="#89c777" d="M567.4,695.4 568.6,694.8 572.3,694.8 572.3,1014.1 393.9,1014.1 393.9,1010.4 393.3,1008.6 389.5,1001.2 380.3,984.6 365.4,958.8 358.2,945.7 353.5,936.7 350,929.4 347,922 345.1,916.5 343.6,910.9 342.6,905.4 342.2,899.9 342.2,896.2 342.5,892.5 343.5,887 344.4,883.3 345.7,879.6 347.2,875.9 349.9,870.4 353.2,864.9 357,859.4 362.7,852 367.7,846.5 373.2,841 383.2,831.7 391.7,824.3 401,816.7 419.6,802.1 429.2,794.9 440.1,787.3 464.3,771 481.1,759.2 499.7,746.2 509,739.6 527.6,726.2 542.5,715.2 553.7,706.4 564.9,697.3Z"/>
<path fill="#93c966" d="M566.6,699.1 568.6,698 572.3,698 572.3,1014.1 400.3,1014.1 400.3,1010.4 398.7,1006.7 391.5,993.8 370.9,958.8 364.9,947.8 360,938.4 355.8,929.4 352.3,920.2 350.6,914.6 349.4,909.1 348.6,903.6 348.4,898 348.9,892 349.7,887 351.2,881.5 353.3,875.9 356.3,869.7 359.1,864.9 362.8,859.4 367.5,853.2 371.6,848.3 377,842.8 386.6,833.6 395.4,825.6 408.4,814.7 421.6,804.1 428.9,798.5 436.4,793.1 458.7,777.9 469.9,770.3 482.9,761.1 497.8,750.6 509,742.7 525.9,730.4 544.4,716.7 557.4,706.5 564.9,700.4Z"/>
<path fill="#9ecc58" d="M565.6,702.8 566.7,702 568.6,701 572.3,701 572.3,1014.1 406.8,1014.1 406.8,1010.4 406.1,1008.6 402,1001.2 391,982.8 376.8,958.8 372.7,951.5 367,940.4 363.5,933 359.7,923.8 357.9,918.3 356.3,912.6 355.3,907.3 354.8,901.7 354.8,896.2 355.4,890.7 356.5,885.2 358.2,879.5 360.3,874.1 363,868.6 366.3,863.1 370,857.5 374.9,851.2 379.2,846.5 386.4,839.1 395.9,829.9 404.7,822 419.6,809.5 428.9,802 436.4,796.4 458.7,780.9 468.1,774.6 479.2,766.7 489,759.9 499.7,752.3 507.2,747 520.2,737.4 527.6,732 546.9,717.6 561.2,706.4Z"/>
<path fill="#a9cf4b" d="M567.1,704.7 568.6,703.8 572.3,703.8 572.3,1014.1 413.3,1014.1 413.3,1010.4 411.7,1006.7 404.1,993.8 391.7,973.6 381.9,957 377.8,949.6 373.1,940.1 369,931.2 366.1,923.8 364.3,918.3 362.9,912.8 361.9,907.1 361.4,901.7 361.4,896.2 362,890.7 363,885.2 364.6,879.6 366.7,874.1 369.3,868.6 373.6,861.2 377.5,855.7 382.4,849.7 388.6,842.8 395.7,835.4 401.3,829.9 414,818.4 427.1,807.3 436.4,799.9 445.8,793.1 462.5,781.5 469.9,776.4 482.9,767.1 490.6,761.8 501.6,753.9 509,748.6 523.9,737.5 540.7,724.9 548.1,719.3 564.9,706.2Z"/>
<path fill="#b5d43e" d="M565.6,708.3 566.7,707.6 568.6,706.6 572.3,706.6 572.3,1014.1 419.7,1014.1 419.7,1010.4 419.1,1008.6 415.9,1002.6 406.1,986.5 397.1,971.7 389.5,958.8 384.2,949.3 379.8,940.4 376.5,933 373.6,925.7 371.7,920.2 370.2,914.6 369.1,909.1 368.5,903.6 368.3,898 368.6,892.5 369.4,887 370.8,881.5 372.6,875.9 375,870.4 377.9,864.9 381.3,859.4 385.3,853.8 389.8,848.2 397.9,839.1 403.1,833.6 410.7,826.2 423.3,814.6 431.1,807.8 438.2,802 447.9,794.9 460.7,785.7 471.8,778 484.8,768.6 510,750.7 529.7,736 542.5,726.1 551.8,719 564.9,708.9Z"/>
<path fill="#c2d830" d="M566.8,710.2 568.6,709.2 572.3,709.2 572.3,1014.1 426.2,1014.1 426.2,1010.4 424.7,1006.7 419.5,997.5 403.8,971.7 397.3,960.5 391.3,949.6 387.7,942.3 384.2,934.6 381.4,927.5 379.5,922 377.9,916.5 376.7,910.9 375.9,905.4 375.6,899.9 375.7,894.4 376.3,888.8 377.4,883.3 379,877.8 381.1,872.3 383.7,866.7 386.8,861.2 390.5,855.7 396,848.3 403.8,839.1 408.8,833.6 416,826.2 423.6,818.9 431.6,811.5 438.2,805.8 445.7,799.9 460.6,788.8 475.5,778.3 488.5,768.9 511.2,752.5 531.4,737.4 552.4,721.2 564.9,711.5Z"/>
<path fill="#d1dd29" d="M568.3,712 572.3,711.9 572.3,1014.1 432.7,1014.1 432.7,1010.1 432.1,1008.6 428.2,1001.2 419.5,986.5 409.6,969.9 402.4,957 396.7,945.9 393.3,938.6 389.6,929.4 387.1,922 385.6,916.5 384.1,909.1 383.4,903.6 383.2,898 383.4,892.5 384.4,885.2 385.7,879.6 387.5,874.1 389.9,868.6 392.7,863.1 396,857.5 399.7,852 405.2,844.6 411.3,837.3 417.9,829.9 427.1,820.3 434.5,813.1 440.5,807.8 447.6,802 459.1,793.1 486.9,772.8 510.9,755.5 527.6,742.9 546.3,728.5 563,715.5 566.7,712.8Z"/>
<path fill="#e0e223" d="M566.3,715.7 568.6,714.5 572.3,714.5 572.3,1014.1 439.3,1014.1 439.3,1010.4 437.8,1006.7 432.7,997.4 418.6,973.6 411.5,960.7 406.6,951.1 402.5,942.3 398.7,933 396.1,925.7 394,918.3 392.7,912.8 391.6,905.4 391.2,899.9 391.2,894.4 391.8,887 392.9,881.5 394.4,875.9 396.4,870.4 399.1,864.3 401.7,859.4 405.1,853.8 408.7,848.3 412.7,842.8 418.6,835.4 425.2,827.7 433.5,818.9 441,811.5 447.6,805.8 458.7,796.7 466.2,791 488.5,774.5 509,759.6 523.9,748.5 555.6,723.9 564.9,716.7Z"/>
<path fill="#ede81f" d="M567.7,717.6 568.6,717.1 572.3,717.1 572.3,1014.1 445.8,1014.1 445.8,1010.4 445.2,1008.6 441.4,1001.2 426.6,975.4 420.5,964.4 415.8,955.1 411.6,945.9 407.9,936.7 405.3,929.4 402.6,920.2 401,912.8 400.1,907.3 399.5,901.7 399.3,896.2 399.5,890.7 400.1,885.2 401.1,879.6 403.2,872.3 405.2,866.7 407.7,861.2 410.7,855.7 414,850 418.8,842.8 424.2,835.4 431.7,826.2 436.6,820.7 442,815.1 447.7,809.6 458.7,800.2 468,792.7 492.2,774.6 510.9,761 525.8,749.9 548.2,732.3 563,720.8 566.7,718.1Z"/>
<path fill="#f6eb1f" d="M566,721.2 568.6,719.8 572.3,719.8 572.3,1014.1 452.3,1014.1 452.3,1010.4 450.8,1006.7 445.7,997.1 434.4,977.2 428.4,966.2 423,955.1 419,945.9 415.5,936.7 413.1,929.4 411.2,922 409.6,914.6 408.4,907.3 407.8,901.7 407.5,896.2 407.6,890.7 408,885.2 408.9,879.6 410.7,872.3 412.5,866.7 414.7,861.2 418.3,853.8 422.4,846.5 425.9,841 431.1,833.6 436.8,826.2 442,820.2 448.5,813.3 456.9,805.6 464.9,798.6 471.9,793.1 494.1,776.2 507.1,766.7 526,752.5 550,733.7 563.5,723.1Z"/>
<path fill="#fee311" d="M567.7,723.1 568.6,722.6 572.3,722.6 572.3,1014.1 458.7,1014.1 458.7,1010.4 458.1,1008.6 454.4,1001.2 441.1,977.2 436.2,968 431.7,958.8 428.4,951.5 424.9,942.3 422.4,934.9 420.3,927.5 418.6,920.2 417,910.9 416,903.6 415.5,896.2 415.5,890.7 416,883.3 416.8,877.8 418,872.3 419.6,866.5 421.5,861.2 423.8,855.7 427.5,848.3 431.7,841 436.5,833.6 440.5,828.1 446.4,820.7 449.7,817 455.2,811.5 463,804.1 469.9,798.1 483.3,787.5 497.8,776.4 509,768.3 520.2,759.8 527.6,754.3 544.4,741 563,726.3 566.7,723.5Z"/>
<path fill="#fdcd10" d="M566.4,726.8 568.6,725.5 572.3,725.5 572.3,1014.1 464.9,1014.1 464.9,1010.4 464.3,1008.4 461.7,1003 454.8,990.1 447.6,977 442.9,968 437.7,957 434,947.8 431.4,940.4 428.6,931.2 426.8,923.8 425.1,914.6 423.9,905.4 423.2,898 423,892.5 423.1,887 423.5,881.5 424.3,875.9 425.4,870.4 427.5,863.1 429.4,857.5 431.7,852 434.5,846.2 438.4,839.1 442,833.4 445.7,828 449.8,822.5 453.1,818.6 460.6,810.8 468,803.7 471.8,800.3 482.9,791.2 497.8,779.7 510.9,770 522,761.5 529.5,755.9 548.1,741.1 564.9,727.8Z"/>
<path fill="#fcb814" d="M565.6,730.4 566.7,729.7 568.6,728.7 572.3,728.7 572.3,1014.1 471,1014.1 471,1010.4 469.7,1006.7 464.1,995.7 454.3,977.2 448.7,966.2 445.3,958.8 441.5,949.6 438.9,942.3 436.1,933 434.3,925.7 432.5,916.5 431.2,907.3 430.5,899.9 430.1,892.5 430.1,887 430.5,881.5 431.1,875.9 432.1,870.4 433.4,864.9 435,859.4 437,853.8 439.3,848.3 442,842.8 446.1,835.4 449.6,829.9 453.5,824.4 458.7,818 464.8,811.5 470.3,806 477.3,799.7 487.5,791.2 499.7,781.7 512.7,772 523.9,763.4 531.4,757.8 550,742.8 563.2,732.3Z"/>
<path fill="#faa719" d="M568.2,732.3 568.6,732.1 572.3,732.1 572.3,1014.1 477.1,1014.1 477.1,1010.4 476.5,1008.6 473.1,1001.2 459.8,975.4 454.4,964.4 451.2,957 448.2,949.6 445.7,942.3 443.4,934.9 441.6,927.5 440,920.2 438.5,910.9 437.5,901.7 437,894.4 437,887 437.4,879.6 438.3,872.3 439.3,866.7 440.7,861.2 442.4,855.7 444.4,850.2 446.8,844.6 449.5,839.1 453.7,831.7 457.4,826.2 463.2,818.9 468.1,813.3 473.6,807.6 479.3,802.3 488.5,794.4 499.7,785.4 525.9,765.4 535.4,758.1 555.9,741.5 565.2,734.1 566.7,733.1Z"/>
<path fill="#f8991c" d="M568.1,736 568.6,735.7 572.3,735.7 572.3,1014.1 483.1,1014.1 483.1,1010.4 482.5,1008.6 479.1,1001.2 466.2,975.3 461.8,966.2 457.7,957 454.9,949.6 452.3,942.3 450.1,934.9 448.3,927.5 446.7,920.2 445.2,910.9 444.2,901.7 443.7,894.4 443.6,887 444,879.6 444.8,872.3 445.7,866.7 447,861.2 448.5,855.7 450.4,850.2 453.4,842.8 457.2,835.4 460.6,829.7 464.3,824.3 468.6,818.9 473.6,813.1 479.2,807.3 484.8,802.1 496,792.5 507.1,783.7 531.4,765.1 540.7,757.7 561.2,741 565.2,737.8 566.7,736.7Z"/>
<path fill="#f5881f" d="M565.6,741.5 566.7,740.7 568.6,739.7 572.3,739.7 572.3,1014.1 489.2,1014.1 489.2,1010.4 487.8,1006.7 480.7,992 471.7,973.6 467.4,964.4 463.5,955.1 460.1,945.9 457.8,938.6 455.8,931.2 454.1,923.8 452.4,914.6 451.2,905.4 450.6,898 450.3,890.7 450.4,883.3 450.8,875.9 451.8,868.6 453.3,861.2 455.3,853.8 457.1,848.3 459.4,842.8 463,835.4 466.2,829.9 470,824.4 474.2,818.9 479.2,813.1 484.8,807.3 490.4,802.1 501.6,792.5 512.7,783.6 535.1,766.3 550,754.2 563.2,743.3Z"/>
<path fill="#f27821" d="M566.6,745.2 568.6,744.1 572.3,744.1 572.3,1014.1 495.3,1014.1 495.3,1010.4 493.9,1006.7 478.9,975.4 473.1,962.5 469.3,953.3 466.1,944.1 463.8,936.7 461.9,929.4 460.3,922 458.7,912.4 457.7,903.6 457.2,896.2 456.9,888.8 457.1,881.5 457.6,874.1 458.7,866.2 460.1,859.4 461.6,853.8 463.4,848.3 465.6,842.8 468.1,837.3 472.3,829.9 476,824.4 480.2,818.9 484.9,813.3 490.4,807.7 496.1,802.3 505.3,794.3 516.5,785.4 537.2,769.1 553.7,755.6 564.9,746.4Z"/>
<path fill="#f06722" d="M565.7,750.7 566.7,749.9 568.6,748.9 572.3,748.9 572.3,1014.1 501.6,1014.1 501.6,1010.3 501,1008.6 486.1,977.2 481.1,966.1 477.3,957 473.2,945.9 470.9,938.6 469,931.2 467.3,923.8 466,916.5 464.8,907.3 464,898 463.8,890.7 463.8,883.3 464.4,874.1 465.4,866.7 466.4,861.2 468.2,853.8 469.9,848.3 472,842.8 474.6,837.3 477.6,831.7 481.1,826.2 485.1,820.7 490.4,814.4 496.7,807.8 505.3,799.9 516.5,790.6 541.2,771 557.4,757.5 564.9,751.3Z"/>
<path fill="#ee5824" d="M568.6,754.4 572.3,754.4 572.3,1014.1 508,1014.1 508,1010.4 506.6,1006.7 495.9,984.6 490,971.7 486,962.5 482.4,953.3 479.2,944 477.1,936.7 475.2,929.4 473.4,920.2 472.2,912.8 471.4,905.4 470.9,896.2 470.7,888.8 470.9,881.5 471.5,874.1 472.4,866.7 473.8,859.4 475.7,852 477.5,846.5 479.8,841 483.4,833.6 486.8,828.1 490.7,822.5 495.1,817 500.2,811.5 505.8,806 514.6,798.1 525.8,788.9 542.5,775.6 555.6,764.8 564.9,756.9 566.7,755.4Z"/>
<path fill="#ed4a25" d="M566.9,761.8 568.6,760.7 572.3,760.7 572.3,1014.1 514.7,1014.1 514.6,1010.1 512.3,1004.9 505,990.1 499,977.2 494.1,966.1 490.4,956.8 487.1,947.8 484.8,940.3 482.9,933 480.8,923.8 479.6,916.5 478.8,909.1 478.2,901.7 478,892.5 478.2,883.3 478.7,875.9 479.5,868.6 481.2,859.4 483.1,852 485,846.5 487.2,841 490.4,834.6 493.2,829.9 496.9,824.4 499.8,820.7 505.3,814.3 511.8,807.8 518.3,801.8 529.5,792.5 548.1,777.6 559.3,768.2 564.9,763.3Z"/>
<path fill="#ec3c26" d="M567.4,769.1 568.6,768.4 572.3,768.4 572.3,1014.1 521.6,1014.1 521.6,1010.4 521,1008.6 512.6,992 506.5,979.1 501.6,967.8 497.2,957 494,947.8 491.7,940.4 489.8,933 488.2,925.7 486.9,918.3 486.1,910.9 485.6,903.6 485.4,896.2 485.7,887 486.3,877.8 487.2,870.4 488.5,862.8 490.4,854.9 492.5,848.3 494.6,842.8 498.2,835.4 501.6,829.9 505.5,824.4 510,818.9 515.1,813.3 520.8,807.8 527.6,801.8 538.8,792.7 550,783.9 557.4,777.7 565,771Z"/>
<path fill="#ec2e26" d="M568,778.3 568.6,778 572.3,778 572.3,1014.1 528.9,1014.1 528.9,1010.4 527.3,1006.7 521.5,995.7 516,984.6 510.9,973.3 507.1,964.4 502.9,953.3 499.3,942.3 497.3,934.9 495.7,927.5 494.4,920.2 493.6,912.8 493.2,905.4 493.2,898 493.6,888.8 494.5,879.6 496.1,868.6 498,859.4 500.1,852 502.2,846.5 504.6,841 507.6,835.4 511.2,829.9 515.4,824.4 518.5,820.7 522,816.8 527.6,811.4 533.7,806 540.7,800.3 555.6,788.7 561.4,783.9 566.7,779.2Z"/>
<path fill="#eb2326" d="M567.1,791.2 568.6,790.3 572.3,790.3 572.3,1014.1 536.6,1014.1 536.6,1010.4 535.9,1008.6 528.9,995.7 523.4,984.6 518.3,973.5 514.5,964.4 510.9,954.8 507.9,945.9 505.3,936.7 503.2,927.5 502,920.2 501.3,912.8 501,907.3 501.2,899.9 501.8,892.5 503.2,881.5 504.7,872.3 506.2,864.9 507.6,859.4 509.4,853.8 511.5,848.3 514.6,841.8 517.3,837.3 521,831.7 523.9,828.1 529.5,821.7 535.1,816.1 540.7,811.2 548.1,805.2 561.2,795.7 566.7,791.4Z"/>
<path fill="#e71c26" d="M568.3,804.1 572.3,804 572.3,1014.1 545.1,1014.1 545.1,1010.4 544.3,1008.6 538.8,999.2 533.1,988.3 529.5,980.9 525.4,971.7 521,960.7 518.3,953.3 515.3,944.1 513.3,936.7 511.6,929.4 510.3,922 509.6,916.5 509.3,910.9 509.4,905.4 509.8,899.9 511.4,888.8 513,879.6 515,870.4 516.9,863.1 518.7,857.5 520.9,852 522.7,848.3 525.9,842.8 529.8,837.3 535.8,829.9 541,824.4 546.9,818.9 551.8,814.8 557.4,810.8 564.9,806 566.7,804.8Z"/>
<path fill="#da1e28" d="M567.8,817 568.6,816.6 572.3,816.6 572.3,1014.1 554.5,1014.1 554.5,1010.4 553.7,1008.6 547.8,999.3 543.6,992 539.9,984.6 536.5,977.2 532.7,968 528.5,957 525.3,947.8 522.6,938.6 520.7,931.2 519.3,923.8 518.6,918.3 518.3,912.8 518.4,905.4 518.9,899.9 520.3,890.7 522.1,881.5 523.9,874.1 526.2,866.7 528.2,861.2 530.8,855.7 534,850.2 537.8,844.6 540.7,841 546.3,834.7 551.8,829.1 555.6,825.8 562,820.7 564.9,818.6Z"/>
<path fill="#c92028" d="M568,829.9 568.6,829.6 572.3,829.6 572.3,1014.1 564.6,1014.1 564.6,1010.4 563.8,1008.6 557.4,999.2 553.1,992 549.3,984.6 546,977.2 542.3,968 537.6,955.1 533.9,944.1 531.2,934.9 529.5,927.4 528.6,922 527.9,916.5 527.7,910.9 527.8,905.4 528.2,899.9 529.2,892.5 530.6,885.2 532,879.6 533.8,874.1 535.9,868.6 538.8,862.5 541.8,857.5 544.4,853.7 548.7,848.3 553.7,842.7 559.3,837.1 563.1,833.6 566.7,830.6Z"/>
<path fill="#b72028" d="M566.8,844.6 568.6,843.5 572.3,843.5 572.3,999.5 568.6,999.5 566.6,997.5 564.1,993.8 560.9,988.3 558.2,982.8 555.2,975.4 549.8,960.7 544.2,944.1 541.4,934.9 539.4,927.5 538.2,922 537.5,916.5 537.1,910.9 537.2,905.4 537.6,898 538.3,892.5 539.4,887 540.9,881.5 542.9,875.9 544.6,872.3 546.6,868.6 548.9,864.9 551.8,860.8 556.1,855.7 561.2,850.2 564.9,846.4Z"/>
<path fill="#a31e25" d="M568.6,857.5 572.3,857.5 572.3,981.8 568.6,981.8 566.7,978.9 564.5,973.6 558.7,957 552.4,938.6 549.5,929.4 547.9,923.8 546.8,918.3 546.2,912.8 546,907.3 546.3,899.8 546.9,894.4 548.1,888.3 550,882.5 552.1,877.8 554.1,874.1 557.9,868.6 561.2,864.6 564.9,860.5 566.7,858.8Z"/>
<path fill="#8f1c20" d="M566.8,872.3 568.6,870.8 572.3,870.8 572.3,955.3 568.6,955.3 566.6,951.5 562.4,940.4 558.5,929.4 556.8,923.8 555.4,918.3 554.5,912.8 554.1,907.3 554.3,901.7 554.7,898 555.8,892.5 557.6,887 559.3,883.3 561.3,879.6 563.8,875.9 565.2,874.1Z"/>
<path fill="#7b1618" d="M568,887 568.6,886.3 572.3,886.3 572.3,930.1 568.6,930.1 566.7,926.6 564.9,921.4 563.5,916.5 562.7,912.8 562.3,909.1 562.1,905.4 562.4,901.7 563,898 564.1,894.4 565.6,890.7 566.7,888.6Z"/>
</g></g>
<g><clipPath id="hc2"><rect x="775.2" y="607.2" width="407.2" height="405.2"/></clipPath><g clip-path="url(#hc2)">
<rect x="775.2" y="607.2" width="407.2" height="405.2" fill="#2a2e83"/>
<path fill="#2a318b" d="M771.5,603.5 1186.1,603.5 1186.1,1016.1 771.5,1016.1 771.5,870.5 778.9,870.6 782.6,870.5 788.2,869.8 793.8,868.7 806.7,865.6 817.8,862.4 827,859.3 836.3,855.8 849.2,850.3 865.9,842.6 879.4,835.6 886.3,831.7 891.8,827.9 896,824.5 899.7,820.9 902.9,817 912.2,804.3 915.9,799.6 920.2,795.1 923.3,792.2 927,789.3 930.7,786.7 934.7,784 937.1,782.2 938.9,780.3 940.1,778.5 940.6,776.6 940.5,774.8 939.7,773 938,771.1 935.3,769.3 932.5,768.1 928.8,766.9 914,764 902.9,762.3 893.7,761.2 880.7,760.3 871.4,760 860.3,760 840,760.6 825.2,760.5 806.7,759.9 797.4,759.9 790,760.1 784.5,760.6 778.9,761.5 775.2,762.2 771.5,762.2Z"/>
<path fill="#2d3692" d="M771.5,603.5 1186.1,603.5 1186.1,1016.1 771.5,1016.1 771.5,877.8 777.1,877.7 782.6,877.1 788.2,876.1 795.6,874.3 809,870.6 817.8,867.9 825.7,865.1 834.4,861.4 853.5,852.2 868,844.8 884.8,835.6 891.8,831.2 896.1,828.2 899.2,825.6 903.8,820.9 908.5,815.2 914.2,808 917.7,803.9 921.4,800.3 925.7,796.9 928.8,794.9 932.5,792.8 942.6,787.7 945.6,785.9 947.9,784 949.6,782.2 951,779.4 951.7,776.6 951.9,774.8 951.8,773 950.9,769.3 949.2,766.2 947,763.8 943.6,761.4 939.9,759.6 935.6,758.2 930.7,757.2 923.3,756.1 901.1,753.8 880.7,752.1 865.9,751.1 828.9,749.6 806.7,748.6 795.6,748.3 788.2,748.4 780.8,748.9 775.2,749.4 771.5,749.4Z"/>
<path fill="#323d98" d="M771.5,603.5 1186.1,603.5 1186.1,1016.1 771.5,1016.1 771.5,883.2 775.2,883.2 778.9,882.9 786.3,881.6 793.7,879.8 814.1,874 821.5,871.5 828.9,868.5 836.3,864.9 856.6,853.8 869.8,846.6 880.7,840.4 886.3,837.3 895.5,831.6 900.1,828.2 904.8,823.7 910.6,817.2 916.8,809.8 920.3,806.1 923.3,803.5 927.2,800.6 930.7,798.4 936.2,795.6 945.5,791.3 949.2,789.1 951.1,787.7 953,785.9 954.7,783.6 956.3,780.3 957.4,776.6 957.9,773 957.8,769.3 957.1,765.6 956.4,763.8 954.7,760.8 952.5,758.2 950.3,756.4 947.3,754.5 943.3,752.7 937.5,750.9 932.5,749.8 925.1,748.6 899.2,745.9 871.4,743.4 851.1,741.8 815.9,739.7 801.1,739 791.9,738.8 784.5,739 775.2,739.5 771.5,739.5Z"/>
<path fill="#36459e" d="M771.5,603.5 1186.1,603.5 1186.1,1016.1 771.5,1016.1 771.5,888.1 775.2,888.1 780.8,887.4 786.3,886.3 793.7,884.4 814.1,878.7 819.6,876.9 825.2,874.8 830.7,872.2 838.1,868 856.6,856.8 871.4,848.2 880.7,842.7 890,837.4 897.4,832.9 901.4,830.1 905.4,826.4 910.8,820.9 919.6,811 923.3,807.4 927.4,804.3 930.7,802.2 936.2,799.4 945.5,795.1 949.2,793.1 952.9,790.7 954.7,789 956.6,786.9 958.5,784 960.3,780.3 961.5,776.6 962.4,773 963,769.3 963,765.6 962.5,761.9 962,760.1 961.2,758.2 960.1,756.4 958.4,754.3 956.6,752.5 954.5,750.9 951,748.8 947.3,747.1 941.8,745.1 934.4,743.3 927,741.9 914,740.3 871.4,735.6 854.8,734.1 828.9,732.2 806.7,730.8 793.7,730.4 784.5,730.4 775.2,730.7 771.5,730.7Z"/>
<path fill="#384ba2" d="M771.5,603.5 1186.1,603.5 1186.1,1016.1 771.5,1016.1 771.5,892.9 775.2,892.9 780.8,892.2 786.3,891.2 791.9,889.8 803,886.4 815.9,882.9 821.5,881.1 825.2,879.6 828.9,877.8 834.9,874.3 854.1,861.4 864,855.1 875.1,848.3 882.6,843.7 897.4,835.2 901.1,832.8 904.8,829.9 912.2,822.7 915.9,818.9 921.4,812.8 925.1,809.4 928.8,806.7 933,804.3 944.6,798.7 951.4,795.1 954.7,792.8 956.6,791.2 958.4,789 960.7,785.9 962.7,782.2 964.4,778.5 965.8,774.7 967,771.1 967.9,767.4 968.4,763.8 968.4,760.1 967.7,756.4 967,754.5 965.8,752.5 964,750 962.1,748.2 960.3,746.7 956.6,744.4 952.9,742.5 947.3,740.3 941.8,738.6 934.4,736.8 925.1,735.1 904.8,732.3 873.3,728.3 858.5,726.7 838.1,725 810.4,723.2 795.6,722.5 784.5,722.3 771.5,722.5Z"/>
<path fill="#3a4fa4" d="M771.5,603.5 1186.1,603.5 1186.1,1016.1 771.5,1016.1 771.5,898.2 775.2,898.2 782.6,897.3 788.2,896.2 791.9,895.2 803,891.4 808.5,889.8 815.9,888 821.5,886.3 825.2,884.7 828.9,882.8 834.4,879.2 841.8,873.7 851.1,866.7 858.5,861.4 867.7,855.2 881.1,846.6 891.8,840.3 900.1,835.6 903,833.7 907.3,830.1 912.2,825.6 915.9,822.2 922.2,815.3 925.1,812.6 928.8,809.7 932.5,807.4 936.2,805.6 943.6,802.2 953.1,796.9 956.6,794.5 958.4,792.7 961,789.5 964.6,784 967.7,778.3 970.2,773 972.4,767.4 973.5,763.8 974.3,760.1 974.5,756.4 974.4,754.5 974.1,752.7 973.2,750.4 972.6,749 971.3,747.2 969.5,745.2 967.6,743.5 964,740.9 960.3,738.9 952.9,735.7 947.3,733.8 939.9,731.7 932.5,729.9 923.3,728.2 880.7,721.9 865.9,719.9 852.9,718.6 830.7,716.9 804.8,715.4 790,714.7 778.9,714.6 771.5,714.6Z"/>
<path fill="#3a52a5" d="M771.5,603.5 1186.1,603.5 1186.1,1016.1 771.5,1016.1 771.5,905.7 775.2,905.7 784.5,904.6 790,903.5 795.6,901.5 803,898.1 807.6,896.4 815.9,894.3 819.6,893.2 823.3,891.8 827,889.8 831,887.2 834.4,884.5 846.1,874.3 852.9,868.5 860.3,862.8 867.7,857.6 881.3,848.5 888.1,844.2 901.1,836.9 904.8,834.5 912.2,828.1 916.6,824.5 920.2,820.9 923.5,817.2 927.6,813.5 930.7,811.3 934.4,809.2 941.8,805.9 945.5,804 954.7,798.4 957.1,796.9 959.2,795.1 962.3,791.4 966.2,785.9 969.6,780.3 973.9,773 977.7,765.6 980.2,760.1 981.5,756.4 982.2,752.7 982.3,750.9 982.1,749 981.6,747.2 980.7,745.1 978.8,742.6 975.8,739.8 973.2,738 969.5,735.7 965.8,733.9 960.3,731.6 951,728.4 943.6,726 936.2,724.1 927,722.2 886.3,715.4 871.4,713.1 860.3,711.7 845.5,710.5 806.7,708 790,707.2 778.9,707 771.5,707Z"/>
<path fill="#3a55a7" d="M771.5,603.5 1186.1,603.5 1186.1,1016.1 771.5,1016.1 771.5,947.6 775.2,947.6 782.6,949.9 790,951.4 795.6,952.1 801.1,952.4 808.5,952.5 814.1,952.2 818.2,951.6 821.5,950.8 825.2,949.4 827.7,947.9 830,946.1 831.6,944.3 832.7,942.4 833.3,940.6 833.6,938.7 833.7,936.9 833.3,933.2 832.2,929.5 830.5,925.8 827,920 823.6,914.8 822.5,912.9 821.2,909.3 821.2,907.4 821.7,905.6 823.3,903.2 826.1,900 828.9,897.4 841.3,883.5 848.4,876.1 854.8,870.3 861,865.1 868.4,859.5 882.6,849.6 888.1,846 897.4,840.8 903.3,837.4 906.6,835.1 912.6,830.1 917.7,826.2 919.6,824.5 925.1,818.5 927,816.7 931.4,813.5 934.6,811.6 939.9,809.3 943.6,807.7 947.3,805.6 952.9,801.9 958.4,798.3 960.3,796.7 964.7,791.4 970.1,784 980.7,768.4 986.4,760.1 989.9,754.4 991.8,750.7 992.4,749 992.9,747.2 993.1,745.3 993,743.5 992.5,741.7 991.7,739.8 989.9,737.5 988.1,735.9 984.4,733.6 976.9,730 971.4,727.6 965.8,725.7 956.6,722.9 947.3,720 938.1,717.5 927,715.1 890,708.4 875.1,705.9 865.9,704.6 854.8,703.5 836.3,702.3 801.1,700.3 784.5,699.5 771.5,699.4Z"/>
<path fill="#3b58a9" d="M771.5,603.5 1186.1,603.5 1186.1,1016.1 771.5,1016.1 771.5,957 775.2,957 782.6,957.9 793.7,959 801.1,959.3 812.2,959.2 817.8,958.9 821.5,958.4 827,957 831.6,955.3 834.9,953.5 837.3,951.6 839,949.8 840.3,947.9 841.1,946.1 841.8,943.6 842.2,940.6 842.1,936.9 841.7,933.2 840.9,929.5 839.6,925.8 836.8,918.5 835.7,914.8 835.1,911.1 835,907.4 835.5,903.7 836.4,900 837.8,896.4 840.7,890.8 844.5,885.3 847.4,881.6 852.9,875.6 858.5,870.2 862.2,866.9 869.6,861 882.6,851.6 888.1,847.8 893.7,844.5 903.2,839.3 906.6,837 914,831.1 918.2,828.2 920.4,826.4 925.6,820.9 928.8,817.9 932.5,815.3 936.2,813.3 943.6,810.3 945.5,809.4 952.9,804.1 958.4,800.5 960.7,798.7 962.6,796.9 970,787.7 978.8,776.2 984.5,769.3 989.9,763.2 996.3,756.4 999.5,752.7 1002.1,749 1004,745.3 1004.7,743.5 1005.2,741.7 1005.5,739.8 1005.6,738 1005.4,736.1 1004.7,733.8 1004.1,732.4 1002.8,730.6 1001,728.7 998.6,726.9 995.2,725.1 989.9,723 980.7,720.4 960.3,715.4 945.5,711.4 934.4,708.9 910.3,704.2 888.1,700.1 875.1,697.9 865.9,696.7 854.8,695.7 803,692.8 786.3,692 775.2,691.8 771.5,691.8Z"/>
<path fill="#3b5aab" d="M771.5,603.5 1186.1,603.5 1186.1,1016.1 771.5,1016.1 771.5,962.6 775.2,962.6 791.9,963.8 801.1,964.1 812.2,964.1 817.8,963.9 823.3,963.3 828.9,962.3 834.4,960.7 838.3,959 841.8,956.7 843.7,955 845.5,952.5 846.8,949.8 847.4,947.9 847.9,944.3 847.9,940.6 847.3,935 846.3,929.5 845.2,925.8 842.7,918.5 841.8,914.8 841.2,911.1 841.1,907.4 841.3,903.7 841.9,900 842.9,896.4 844.4,892.7 846.3,889 849.9,883.5 852.9,879.6 857.7,874.3 863.4,868.7 867.7,865 875.1,859.2 884.5,852.2 890,848.4 897.4,844.2 902.9,841.1 906.6,838.9 911,835.6 914,833.2 919.6,829.4 921.4,827.9 923.3,826.1 927,822.1 928.8,820.4 932.5,817.7 936.8,815.3 939.9,814 943.6,812.7 945.8,811.6 949.2,809.4 953.3,806.1 960.3,801.2 963.1,798.7 966.4,795.1 978.8,780.3 984.4,774.2 989.9,768.6 995.5,763.6 1001.5,758.2 1005.4,754.5 1008.7,750.9 1011.5,747.2 1014,743.1 1015.5,739.8 1016.5,736.1 1016.7,734.3 1016.8,732.4 1016.6,730.6 1015.5,726.9 1014,724.3 1011.4,721.4 1008.4,719 1004.7,716.9 1001,715.2 997.3,713.8 991.5,712.2 982.5,710.2 964,706.6 941.8,701.7 915.9,696.7 893.7,692.7 880.7,690.6 869.6,689.1 858.5,688.1 803,685.1 788.2,684.5 771.5,684.3Z"/>
<path fill="#3d5ead" d="M771.5,603.5 1186.1,603.5 1186.1,1016.1 771.5,1016.1 771.5,966.9 775.2,966.9 790,967.8 803,968.2 814.1,968.3 821.5,967.9 827,967.3 832.7,966.4 838.1,964.9 841.8,963.4 843.7,962.5 846.4,960.8 849.2,958.3 851.3,955.3 852.1,953.5 852.6,951.6 853.1,947.9 852.9,943.7 852.3,938.7 850.9,931.4 849.2,925 847.2,918.5 846.3,914.8 845.7,911.1 845.5,907 845.7,903.7 846.2,900 847.8,894.5 849.3,890.8 851.3,887.2 853.6,883.5 857.8,877.9 861,874.3 864.6,870.6 870.7,865.1 882.6,855.7 888.1,851.5 893.7,847.9 904.8,841.7 908.7,839.3 916.1,833.7 921.4,830.1 923.6,828.2 929.1,822.7 932.5,820 936.2,817.8 939.9,816.2 943.6,814.8 947.3,813 949.3,811.6 954.7,807.2 961.3,802.4 964,800.1 978.8,783.8 982.5,779.9 988.1,774.6 995.5,768.2 1005.8,760.1 1010.3,756.2 1014,752.6 1017.7,748.5 1020.1,745.3 1022.6,741.7 1024.5,738 1025.9,734.3 1026.6,730.6 1026.7,728.8 1026.6,726.9 1026.4,725.1 1025.8,723.2 1025.1,721.4 1022.7,717.7 1021,715.9 1017.7,713 1013.6,710.3 1010.2,708.5 1004.7,706.2 999.2,704.3 991.8,702.3 980.7,699.9 945.5,693.2 906.6,686.3 891.8,683.9 880.7,682.4 869.6,681.2 856.6,680.2 803,677.6 788.2,677.1 771.5,677Z"/>
<path fill="#3f65b1" d="M771.5,603.5 1186.1,603.5 1186.1,1016.1 771.5,1016.1 771.5,970.8 777.1,970.9 790,971.5 804.8,972 815.9,972 823.3,971.8 828.9,971.3 834.4,970.4 840,969.2 843.7,968.1 848.1,966.4 851.4,964.5 853.8,962.7 855.5,960.8 856.7,959 857.5,957.1 858,955.3 858.5,951.6 858.3,947.9 857.7,944.3 853.7,927.7 850.6,916.6 849.8,912.9 849.4,909.3 849.4,905.6 849.7,901.9 850.4,898.2 851.5,894.5 852.9,890.8 854.8,887.1 857,883.5 861,877.9 864.1,874.3 867.7,870.5 871.6,866.9 880.7,859.4 888.1,853.6 892.7,850.3 899.2,846.5 906.6,842.3 912.2,838.6 921.6,831.9 925.9,828.2 930.7,823.8 934.8,820.9 938.2,819 945.5,816 947.3,815 949.7,813.5 956.6,807.9 962.1,803.8 965.8,800.5 973.2,792.7 980.7,785 986.2,779.8 993.6,773.6 1002.9,766.7 1010.3,761.1 1014,758.1 1018,754.5 1021.8,750.9 1025.2,747.2 1029.5,741.7 1031.7,738 1033.5,734.3 1034.9,730.6 1035.7,726.9 1035.8,723.2 1035.6,721.4 1035.2,719.6 1034.3,717.2 1032.5,714 1030.6,711.7 1028.8,709.9 1024.8,706.7 1021.4,704.4 1017.7,702.4 1010.3,698.9 1004.7,696.9 997.3,694.6 986.2,691.8 971.4,688.6 956.6,685.8 914,679 895.5,676.3 884.4,674.9 871.4,673.7 854.8,672.7 801.1,670.4 786.3,670 771.5,670Z"/>
<path fill="#426fb9" d="M771.5,603.5 1186.1,603.5 1186.1,1016.1 771.5,1016.1 771.5,974.5 777.1,974.6 790,975.1 806.7,975.6 817.8,975.6 825.2,975.4 830.7,975 836.3,974.2 841.8,973.2 847.4,971.8 852.9,969.8 856.6,968 859,966.4 860.9,964.5 862.3,962.7 863.2,960.8 864.2,957.1 864.2,953.5 863.8,949.8 862.9,946.1 858.5,932.2 854.6,918.5 853.7,914.8 853.1,911.1 852.9,907.4 853,903.7 853.5,900 854.4,896.4 855.6,892.7 857.1,889 859.1,885.3 862.7,879.8 865.9,875.8 870.6,870.6 877,864.8 888.1,855.7 893.7,851.6 899.2,848.2 906.6,844.1 912.2,840.5 921.7,833.7 926.3,830.1 930.7,826.1 934.4,823.3 938.6,820.9 945.5,817.8 949.9,815.3 959.2,808 964,804.2 968,800.6 981,787.7 986.2,783 995.5,775.6 1002.9,770.3 1010.3,765.1 1017.7,759.5 1023.5,754.5 1027.4,750.9 1031,747.2 1034.3,743.2 1036.8,739.8 1040.3,734.3 1042.2,730.6 1043.6,726.9 1044.5,723.2 1044.8,719.6 1044.7,717.7 1044.4,715.9 1043.2,712.2 1041.7,709.8 1039.2,706.7 1036.2,703.9 1032.4,701.1 1026.3,697.4 1021.4,694.8 1014,691.5 1008.4,689.5 1001,687.1 989.9,684.1 975.1,680.6 965.8,678.7 952.9,676.5 917.7,671.5 897.4,668.9 886.3,667.6 871.4,666.5 851.1,665.6 797.4,663.6 782.6,663.4 771.5,663.4Z"/>
<path fill="#447ec4" d="M771.5,603.5 1186.1,603.5 1186.1,1016.1 771.5,1016.1 771.5,978.3 804.8,979.1 817.8,979.1 827,978.9 834.4,978.3 841.8,977.3 850.1,975.6 856.6,973.7 861.1,971.9 864.1,970 866.2,968.2 867.7,966.4 868.8,964.5 869.6,962.7 870,960.8 870.3,959 870.1,955.3 869.4,951.6 868.4,947.9 865.6,940.6 862,931.4 859.2,922.2 857.7,916.6 856.9,912.9 856.4,909.3 856.4,905.6 856.6,901.9 857.3,898.2 858.9,892.7 860.4,889 862.3,885.3 864.5,881.6 868.6,876.1 871.9,872.4 875.5,868.7 884.4,861 890.7,855.8 895.8,852.2 902.9,847.9 908.5,844.7 914.1,841.1 923.3,834.5 928.8,829.9 933.2,826.4 936.2,824.2 939.9,822.2 947.3,818.7 951,816.4 964.1,806.1 968.3,802.4 976.9,794.3 984.4,787.5 989.9,783 999.2,776.1 1012.1,767.3 1019.5,761.9 1026.9,755.9 1030.6,752.7 1034.5,749 1038,745.2 1042.4,739.8 1046.4,734.3 1049.9,728.8 1051.7,725.1 1053.1,721.4 1054.1,717.7 1054.5,714 1054.4,712.2 1054.1,710.3 1053.6,708.5 1052.8,706.6 1051,703.8 1048.5,701.1 1045.4,698.5 1041.1,695.6 1036.2,692.9 1026.9,688.2 1021.4,685.8 1012.1,682.4 1002.9,679.5 989.9,676 976.9,672.9 967.7,671 954.7,668.9 934.1,666.1 902.9,662.5 888.1,661 873.3,660 851.1,659.1 795.6,657.4 778.9,657.2 771.5,657.2Z"/>
<path fill="#4492d2" d="M771.5,603.5 1186.1,603.5 1186.1,1016.1 771.5,1016.1 771.5,982.1 795.6,982.4 814.1,982.6 823.3,982.5 830.7,982.2 838.1,981.5 845.5,980.5 854.8,978.7 860.3,977.4 864,976.1 865.9,975.2 868.3,973.7 870.6,971.9 872.3,970 873.7,968.2 875.4,964.5 875.8,962.7 876,960.8 875.9,957.1 875.1,953.5 874,949.8 870.9,942.4 866.7,933.2 863.9,925.8 862.2,920.3 860.7,914.8 860.1,911.1 859.8,907.4 859.8,903.7 860.6,898.2 861.5,894.5 862.8,890.8 864.4,887.2 866.5,883.5 870.2,877.9 873.3,874.2 877,870.2 880.7,866.7 889,859.5 893.7,855.8 899.2,851.9 910.3,845.4 917.7,840.5 925.1,835 932.5,829 936.2,826.3 939.9,824.1 947.3,820.4 951,818.2 954.9,815.3 966.4,806.1 976.9,796.7 986.2,788.7 993.6,783.1 1001,777.9 1014,769.2 1021.7,763.8 1028.8,758.2 1035.3,752.7 1040.9,747.2 1047.5,739.8 1053.5,732.4 1057.5,726.9 1060.6,721.4 1062.3,717.7 1063.6,714 1064.3,710.3 1064.4,706.7 1063.7,703 1062.9,701.1 1061.9,699.3 1060.2,697.2 1058.4,695.3 1056.5,693.7 1052.8,691.2 1047.3,688.1 1039.7,684.6 1030.6,680.8 1021,677.2 1012.1,674.3 1001,671.3 986.2,667.7 973.2,664.9 962.1,662.9 945.5,660.6 925.1,658.2 899.2,655.7 886.3,654.6 869.6,653.7 845.5,653 795.6,651.7 778.9,651.5 771.5,651.5Z"/>
<path fill="#3ba7e1" d="M771.5,603.5 1186.1,603.5 1186.1,1016.1 771.5,1016.1 771.5,986 793.7,986 815.9,986.1 825.2,985.9 834.4,985.4 841.8,984.7 856.6,982.4 863.1,981.1 865.9,980.2 869.6,978.6 871.6,977.4 874.1,975.6 876,973.7 877.6,971.9 878.9,970 879.8,968.2 881,964.5 881.4,960.8 881.1,957.1 880.2,953.5 878.9,949.6 876.5,944.3 870.9,933.2 868.4,927.7 866.4,922.2 864.7,916.6 863.9,912.9 863.3,909.3 863.2,905.6 863.3,901.9 864.3,896.4 865.3,892.7 866.7,889 868.5,885.3 872,879.8 875.1,875.6 879.7,870.6 886.3,864.4 891.9,859.5 897.4,855.3 902.9,851.6 912.2,846.2 917.7,842.5 925.1,837 932.5,831.1 936.5,828.2 939.9,826 949.5,820.9 952.9,818.7 966.5,808 978.8,797.5 988.6,789.5 997.3,783.2 1008.4,775.7 1015.8,770.9 1023.4,765.6 1030.8,760.1 1038,754.1 1041.7,750.7 1053.9,738 1059,732.4 1062.1,728.5 1065.8,723.2 1068,719.6 1070,715.9 1071.6,712.2 1072.6,708.5 1073.1,704.8 1073.1,703 1072.9,701.1 1072.5,699.3 1071.1,695.6 1069.5,693.2 1066.6,690.1 1063.9,687.9 1060.2,685.4 1054.7,682.4 1047.3,679 1038,675.3 1026.9,671.3 1015.8,668 1001,664.1 984.4,660.4 971.4,657.9 958.4,655.9 943.6,653.9 927,652.1 899.2,649.8 882.6,648.7 864,647.8 799.3,646.4 778.9,646.2 771.5,646.2Z"/>
<path fill="#34baee" d="M771.5,603.5 1186.1,603.5 1186.1,1016.1 771.5,1016.1 771.5,990 793.7,989.7 817.8,989.7 827,989.4 838.1,988.8 845.5,988 860.3,986 864,985.3 867.7,984.3 871.4,982.8 875.1,980.8 877.3,979.2 879.4,977.4 881.1,975.6 882.6,973.7 884.7,970 885.4,968.2 886.3,964.5 886.5,960.8 886,957.1 885.1,953.5 883.7,949.8 880.2,942.4 874.3,931.4 871.4,925.4 869.5,920.3 867.7,914.2 866.9,909.3 866.6,905.6 866.7,901.9 867.2,898.2 868,894.5 869.9,889 871.7,885.3 873.9,881.6 877.9,876.1 881.1,872.4 884.7,868.7 892.8,861.4 897.4,857.7 902.9,853.7 912.2,848.2 917.7,844.5 923.3,840.5 932.5,833.3 938.1,829.2 943.6,825.8 949.3,822.7 952.9,820.5 967.7,808.9 978.8,799.8 988.1,792.5 995.5,787.1 1006.6,779.6 1017.7,772.3 1027.3,765.6 1034.7,760.1 1041.7,754.3 1045.4,750.8 1060.4,736.1 1063.9,732.3 1068.3,726.9 1072.3,721.4 1075,717.3 1076.9,714 1078.7,709.7 1079.7,706.7 1080.4,703 1080.5,699.3 1080.3,697.4 1079.9,695.6 1078.4,691.9 1076.9,689.5 1074.3,686.4 1071.3,683.8 1067.1,680.9 1062.1,678.1 1056.5,675.3 1047.3,671.4 1038,667.9 1028.8,664.8 1017.7,661.7 1004.7,658.5 993.6,656 978.8,653.1 964,650.7 949.2,648.6 938.1,647.3 921.4,645.8 891.8,643.8 869.6,642.6 851.1,642 786.3,641 771.5,640.9Z"/>
<path fill="#3bc5f0" d="M771.5,603.5 1186.1,603.5 1186.1,1016.1 771.5,1016.1 771.5,994 791.9,993.6 817.8,993.4 836.3,992.7 845.5,992 860.3,990.3 865.9,989.3 869.6,988.4 875.1,986.2 878.9,984.1 880.7,982.8 882.7,981.1 884.6,979.2 886.3,977.4 888.7,973.7 890.3,970 891.2,966.4 891.4,962.7 891.2,959 890.4,955.3 889.2,951.6 887.6,947.9 883.8,940.6 878.6,931.4 875.8,925.8 874.1,922.2 872.8,918.5 871.2,912.9 870.5,909.3 870.2,905.6 870.2,901.9 870.7,898.2 871.4,894.4 872.6,890.8 874.1,887.2 876.1,883.5 878.9,879.2 881.1,876.1 884.4,872.3 888.1,868.5 893.9,863.2 899.2,858.8 903.2,855.8 915.9,847.8 923.3,842.6 932.5,835.4 938.1,831.3 943.6,827.7 951,823.4 954.9,820.9 969.5,809.4 978.8,801.9 990.2,793.2 999.2,787 1010.3,779.6 1017.7,774.8 1028.8,767.2 1036.2,761.7 1043.6,755.8 1056.7,743.5 1062.8,738 1066.4,734.3 1071.3,728.6 1077.1,721.4 1080.9,715.9 1083,712.2 1084.6,708.5 1086.4,703 1086.9,699.3 1086.8,695.6 1086.1,691.9 1085.4,690.1 1084.3,687.8 1082,684.6 1080.4,682.7 1078.5,680.9 1075,678.2 1069.5,674.7 1063.6,671.7 1054.7,667.7 1045.4,664 1038,661.3 1028.8,658.5 1015.8,655.1 999.2,651.2 982.5,648 965.8,645.3 951,643.1 939.9,641.8 925.1,640.6 884.4,638.2 864,637.2 841.8,636.6 775.2,635.7 771.5,635.7Z"/>
<path fill="#55c7e7" d="M771.5,603.5 1186.1,603.5 1186.1,1016.1 771.5,1016.1 771.5,998.2 777.1,998.2 790,997.6 819.6,997.3 838.1,996.6 847.4,996 860.3,994.8 865.9,994 869.6,993.2 873.3,992.1 877.9,990.3 881.3,988.5 884.4,986.4 886.4,984.8 888.3,982.9 890,981.1 892.5,977.4 894.3,973.7 895.5,970 896.1,966.4 896.2,962.7 895.8,959 895,955.3 893.7,951.4 891.4,946.1 887.4,938.7 882.1,929.5 878.9,923.2 876.9,918.5 875.6,914.8 874.7,911.1 874.1,907.4 873.9,903.7 874,900 874.6,896.4 875.5,892.7 877,888.5 879.5,883.5 883.1,877.9 886.3,874 891.8,868.2 897.4,863.1 901.6,859.5 906.8,855.8 915.9,850 921.4,846.1 935.1,835.6 940.2,831.9 946,828.2 952.9,824 958.4,820 976.9,805.4 991.8,794.4 1008.4,783.1 1019.5,775.9 1032.5,767 1041.7,760 1046.2,756.4 1056.5,746.9 1064.7,739.8 1068.5,736.1 1075.2,728.8 1081.4,721.4 1084.3,717.5 1086.5,714 1088.6,710.3 1090.3,706.7 1091.7,702.4 1092.4,699.3 1092.7,695.6 1092.4,691.9 1091.5,688.2 1089.8,684.6 1087.2,680.9 1083.6,677.2 1080.6,674.8 1075,671.1 1069.3,668 1060.2,663.8 1051,660.1 1041.7,656.7 1034.3,654.4 1023.2,651.4 1008.1,647.7 997.3,645.4 978.8,642 960.3,639 947.3,637.3 936.2,636.1 921.4,635.1 865.9,632.2 847.4,631.5 817.8,631.1 786.3,630.8 775.2,630.6 771.5,630.6Z"/>
<path fill="#66c8da" d="M771.5,603.5 1186.1,603.5 1186.1,1016.1 771.5,1016.1 771.5,1002.6 777.1,1002.5 788.2,1001.9 810.4,1001.5 827,1001.2 841.8,1000.8 854.8,1000 862.2,999.3 867.7,998.5 873.3,997.2 878.9,995.4 882.6,993.7 886.3,991.5 888.1,990.2 890.2,988.5 892.1,986.6 893.8,984.8 896.4,981.1 898.3,977.4 899.6,973.7 900.4,970 900.8,966.4 900.7,962.7 900.2,959 898.8,953.5 896.7,947.9 893.1,940.6 885.7,927.7 882.6,921.6 880.5,916.6 879.3,912.9 878.4,909.3 877.9,905.6 877.8,901.9 878.1,898.2 878.9,894 879.8,890.8 881.2,887.2 883.1,883.5 885.4,879.8 888.1,876.1 893,870.6 899.2,864.5 902.9,861.4 908.5,857.2 919.6,849.7 927,844.2 936.2,837 941.8,833 952.9,825.9 958.4,821.9 976.9,807.4 991.8,796.6 997.3,792.7 1014,781.7 1021.6,776.6 1032.5,769.3 1042.5,761.9 1047.3,758.1 1058.4,748.2 1066.1,741.7 1070.1,738 1077.1,730.6 1084.3,722.6 1088.1,717.7 1090.7,714 1093.9,708.5 1095.6,704.8 1096.9,701.1 1097.8,697.4 1098.1,693.8 1097.9,690.1 1097.1,686.4 1095.4,682.5 1093.2,679 1091.7,677.2 1089.9,675.2 1088,673.4 1083.3,669.8 1078.7,666.9 1073.2,663.9 1065.8,660.4 1056.5,656.6 1047.3,653.2 1038,650.2 1026.9,647.1 1014,643.9 1001,641 988.1,638.4 971.4,635.6 952.9,632.8 941.8,631.5 928.8,630.4 910.3,629.4 886.3,628.4 860.3,626.9 841.8,626.3 815.9,625.9 786.3,625.6 775.2,625.3 771.5,625.3Z"/>
<path fill="#6dc8cb" d="M771.5,603.5 1186.1,603.5 1186.1,1016.1 771.5,1016.1 771.5,1007.1 775.2,1007.1 786.3,1006.5 804.8,1006 834.4,1005.6 847.4,1005.2 858.5,1004.6 865.9,1003.8 871.4,1002.8 877.5,1001.3 880.7,1000.3 884.4,998.7 888.1,996.8 892.2,994 895.5,991 897.8,988.5 899.2,986.6 901.5,982.9 903.1,979.2 904.3,975.6 905,971.9 905.3,968.2 905.3,964.5 904.6,959 903.8,955.3 902.6,951.6 900.4,946.1 896.7,938.7 889.4,925.8 886.3,919.6 884.3,914.8 883.2,911.1 882.4,907.4 882,903.7 882,900 882.3,896.4 883.1,892.7 884.4,888.8 886.3,884.7 888.1,881.4 890.4,877.9 893.7,873.9 898.5,868.7 902.9,864.5 906.7,861.4 912.2,857.3 922,850.3 936.2,839.2 941.8,835.1 949.3,830.1 954.9,826.4 960.3,822.4 975.1,810.8 982.5,805.3 995.5,796.1 1014,783.7 1025.1,776.4 1036.2,768.8 1045.5,761.9 1060.6,749 1067.6,743.2 1071.4,739.8 1078.8,732.4 1086.2,724.6 1090.5,719.6 1094.6,714 1098.1,708.5 1100,704.8 1101.5,701.1 1102.8,696.7 1103.3,693.8 1103.4,690.1 1102.8,686 1101.8,682.7 1100,679 1098.8,677.2 1097.3,675.1 1093.6,671.2 1089.8,668 1086.2,665.4 1080.6,662 1073.2,658.2 1065.8,654.9 1056.5,651.3 1045.4,647.5 1033.8,644 1019.5,640.3 1002.9,636.4 989.9,633.8 975.1,631.1 958.4,628.6 945.5,626.9 934.4,625.8 921.4,624.9 890,623.7 858.5,621.9 841.8,621.1 819.6,620.7 788.2,620.4 775.2,620 771.5,620Z"/>
<path fill="#70c8c2" d="M771.5,603.5 1186.1,603.5 1186.1,1016.1 779.6,1016.1 779.6,1012.4 788.2,1011.7 801.1,1011.2 838.1,1010.6 851.1,1010.3 860.3,1009.7 865.9,1009.1 873.3,1007.9 878.9,1006.6 884.4,1004.7 888.1,1003.1 891.8,1001.1 895.5,998.6 899.2,995.4 902.1,992.1 904.8,988.3 906.6,984.7 908,981.1 909,977.4 909.7,973.7 909.9,970 909.9,966.4 909.6,962.7 909,959 908.1,955.3 906.3,949.8 904,944.3 900.3,936.9 893.2,924 890.5,918.5 889,914.8 887.8,911.1 886.9,907.4 886.4,903.7 886.3,900 886.6,896.4 887.3,892.7 888.4,889 890,885.3 892,881.6 894.4,877.9 897.4,874.2 901.1,870.1 904.8,866.4 908.5,863.1 915.9,857.4 923.3,851.9 939.2,839.3 947.3,833.4 955,828.2 960.3,824.3 975.1,812.7 982.5,807.3 995.5,798.1 1014,785.8 1025.1,778.4 1036.2,770.8 1043.6,765.5 1049.1,761.2 1060.2,751.8 1070.4,743.5 1076.9,737.5 1086.2,728.3 1092.5,721.4 1097.3,715.6 1101,710.3 1103.3,706.7 1105.2,703 1106.8,699.3 1107.9,695.6 1108.5,691.9 1108.6,688.2 1108.1,684.6 1107.1,680.9 1105.3,677.2 1102.8,673.4 1099.1,669.2 1095.4,665.9 1090.9,662.5 1084.3,658.4 1076.9,654.5 1069.5,651.2 1060.2,647.6 1049.1,643.8 1037.9,640.4 1023.2,636.4 1008.4,632.8 995.5,630 980.7,627.2 964,624.4 951,622.6 939.9,621.3 928.8,620.4 915.9,619.7 891.8,619 877,618.2 856.6,616.7 840,615.9 819.6,615.4 788.2,615.1 775.2,614.6 771.5,614.6Z"/>
<path fill="#75c7b2" d="M771.5,603.5 1186.1,603.5 1186.1,1016.1 881.9,1016.1 881.9,1012.4 891.8,1007.9 895.5,1005.8 899.4,1003.2 903.5,999.5 906.7,995.8 909.1,992.1 911,988.5 912.4,984.8 913.5,981.1 914.2,977.4 914.6,973.7 914.7,970 914.5,966.4 913.7,960.8 911.9,953.5 910,947.9 907.6,942.4 903.9,935 898.1,924 895.4,918.5 893.2,912.9 891.6,907.4 891,903.7 890.8,900 891,896.4 891.8,892.2 892.8,889 894.3,885.3 896.2,881.6 900,876.1 903,872.4 906.6,868.5 910.3,865.1 917.7,859 927,851.7 938.1,842.6 945.5,836.9 956.6,829.1 975.1,814.7 982.5,809.2 997.4,798.7 1017.7,785.3 1030.6,776.6 1041.7,768.9 1049.1,763.4 1062.1,752.6 1071.3,745.2 1077.4,739.8 1087.1,730.6 1094.3,723.2 1099.2,717.7 1103.6,712.2 1107.4,706.7 1109.5,703 1111.3,699.3 1112.7,695.6 1113.5,691.9 1113.9,688.2 1113.7,684.6 1112.9,680.9 1111.5,677.2 1109.4,673.5 1106.5,669.6 1102.8,665.7 1099.1,662.4 1093.6,658.3 1088,654.9 1080.6,651 1073.2,647.6 1063.9,644 1052.8,640.1 1039.9,636.2 1025.1,632.2 1008.4,628.1 995.5,625.2 982.5,622.7 965.8,619.8 952.9,617.9 939.9,616.4 928.8,615.4 915.9,614.8 891.8,614.2 882.6,613.7 858.5,611.8 840,610.7 823.3,610 788.2,609.4 778.8,609 775.2,608.8 771.5,608.8Z"/>
<path fill="#7bc69f" d="M873.8,603.5 1186.1,603.5 1186.1,1016.1 898,1016.1 898,1012.4 900,1010.6 904.8,1006.9 906.8,1005 908.6,1003.2 911.5,999.5 914,995.6 915.9,991.7 917.1,988.5 918.1,984.8 918.8,981.1 919.3,977.4 919.5,971.9 919.1,966.4 918.2,960.8 916.9,955.3 915.1,949.8 912.9,944.3 909.5,936.9 902.1,922.2 898.9,914.8 897.1,909.3 896.2,905.6 895.7,901.9 895.7,898.2 896,894.5 896.8,890.8 898,887.2 899.7,883.5 901.8,879.8 904.8,875.6 908.9,870.6 912.6,866.9 918.7,861.4 938.6,844.8 945.5,839.3 956.6,831.2 975.1,816.7 982.5,811.2 997.6,800.6 1017.7,787.2 1028.8,779.8 1041.7,770.9 1049.1,765.4 1065.8,751.9 1074,745.3 1080.6,739.6 1090.3,730.6 1095.9,725.1 1101.1,719.6 1106.5,713.3 1110.2,708.5 1112.7,704.8 1114.9,701.1 1116.6,697.4 1118,693.8 1118.8,690.1 1119.1,686.4 1118.9,682.7 1118.1,679 1116.6,675.3 1114.6,671.7 1111.9,668 1108.4,664 1104.7,660.6 1099.1,656.2 1093.6,652.6 1088,649.5 1080.6,645.8 1071.3,641.8 1062.1,638.4 1051,634.8 1038,631 1019.5,626.2 1001,621.7 988.1,618.9 973.2,616.2 956.6,613.5 945.5,612 932.5,610.7 921.4,609.9 906.6,609.4 890,609 882.6,608.4 873.8,607.2Z"/>
<path fill="#81c68b" d="M952.8,603.5 1186.1,603.5 1186.1,1016.1 909.3,1016.1 909.3,1012.4 910.6,1010.6 914,1006.7 916.7,1003.2 918.9,999.5 920.6,995.8 921.9,992.1 923.4,986.6 924.1,981.1 924.4,975.6 924.2,970 923.1,962.7 921.9,957.1 920.2,951.6 917.4,944.3 913.3,935 907.2,922.2 904.8,916.5 902.8,911.1 901.8,907.4 901.1,903.6 900.7,900 900.8,896.4 901.3,892.7 902.2,889 903.6,885.3 905.4,881.6 907.7,877.9 910.3,874.3 915.1,868.7 921.4,862.6 938.1,848 946.4,841.1 960.8,830.1 975.1,818.7 982.5,813.2 997.8,802.4 1019.8,787.7 1030.8,780.3 1044.1,771.1 1051.5,765.6 1065.8,754.2 1075,746.8 1088,735.6 1095.4,728.8 1101.1,723.2 1106.5,717.6 1111.2,712.2 1115.8,706.3 1118.1,703 1120.3,699.3 1122,695.6 1123.3,691.9 1124.1,688.2 1124.4,684.6 1124.1,680.9 1123.2,677 1121.3,672.6 1119.5,669.4 1117.1,666.1 1113.9,662.5 1110.1,658.8 1105.8,655.1 1100.6,651.4 1093.6,647.1 1086.2,643.3 1078.7,639.9 1069.5,636.2 1060.2,632.9 1047.3,629 1026.9,623.4 1006.6,618.2 993.6,615.2 980.7,612.6 960.9,609 952.8,607.2Z"/>
<path fill="#89c777" d="M982.3,603.5 1186.1,603.5 1186.1,1016.1 918.7,1016.1 918.7,1012.4 919.6,1010.6 922,1006.9 924.1,1003.2 925.7,999.5 927,995.8 928,992.1 929,986.6 929.4,981.1 929.4,975.6 929,970 928.2,964.5 926.9,959 924.8,951.6 922,944.3 913.1,924 910.1,916.6 908.2,911.1 907.2,907.4 906.5,903.7 906.1,900 906.1,896.4 906.6,892.1 907.4,889 908.6,885.3 910.4,881.6 912.5,877.9 916.5,872.4 919.6,868.7 925.1,863 930.7,857.7 943.6,846.1 949.6,841.1 962.1,831.3 975.1,820.8 980.7,816.5 997.9,804.3 1019.8,789.5 1030.9,782.2 1045.4,772.1 1054.7,765.1 1071.3,752 1079.7,745.3 1090.4,736.1 1101,726.6 1106.5,721.3 1112.1,715.5 1116.6,710.3 1119.6,706.7 1123.5,701.1 1125.7,697.4 1127.4,693.8 1128.7,689.7 1129.4,686.4 1129.6,682.7 1129.3,679 1128.4,675.3 1126.9,671.6 1124.9,668 1122.3,664.3 1119.1,660.6 1115.5,656.9 1111.4,653.2 1106.5,649.5 1101,645.9 1093.6,641.7 1086.2,638.1 1078.7,634.8 1071.3,631.9 1062.1,628.7 1049.1,624.8 1023.2,617.8 1002.9,612.5 988.5,609 982.3,607.2Z"/>
<path fill="#93c966" d="M1004.5,603.5 1186.1,603.5 1186.1,1016.1 927,1016.1 927,1012.4 930.7,1004.2 932.8,997.7 933.9,992.1 934.5,986.6 934.7,981.1 934.5,975.6 933.9,970 933,964.5 931.7,959 930,953.5 926.7,944.3 918.9,925.8 915.4,916.6 913.6,911.1 912.2,904.7 911.6,900 911.6,896.4 911.9,892.7 912.7,889 914,885 916.4,879.8 918.6,876.1 921.4,872.1 925.6,866.9 929,863.2 934.6,857.7 944.4,848.5 951,842.7 975.5,822.7 980.7,818.6 999.2,805.4 1021.4,790.4 1034.3,781.7 1047.3,772.7 1054.7,767.1 1071.3,754.2 1080.6,746.9 1091.7,737.6 1101.9,728.8 1110.2,721 1115.8,715.4 1122.1,708.5 1125.1,704.8 1127.8,701.1 1131.1,695.6 1132.7,691.9 1133.9,688.2 1134.6,684.6 1134.8,680.9 1134.3,676.5 1133.5,673.5 1132.1,669.8 1130.1,666.1 1126.9,661.6 1122.7,656.9 1119,653.2 1113.9,648.8 1110,645.9 1104.4,642.2 1097.3,638.2 1088,633.7 1080.6,630.4 1073.2,627.5 1063.9,624.4 1047.3,619.5 1015.5,610.9 1009.2,609 1004.5,607.2Z"/>
<path fill="#9ecc58" d="M1023.2,603.5 1186.1,603.5 1186.1,1016.1 934.6,1016.1 934.6,1012.4 937.1,1005 938.5,999.5 939.5,994 940,988.5 940.1,982.9 939.8,977.4 939.2,971.9 937.9,964.5 936,957.1 933.6,949.8 930.1,940.6 924.8,927.7 922,920.3 920.2,914.8 918.7,909.3 917.6,903.7 917.2,900 917.2,896.4 917.5,892.7 918.2,889 919.9,883.5 921.6,879.8 923.5,876.1 925.8,872.4 928.8,868.4 933.2,863.2 940.4,855.8 948,848.5 954.7,842.4 969.5,829.9 978.8,822.3 986.2,816.7 1001,806.1 1023.2,791.1 1034.3,783.6 1047.3,774.6 1054.7,769.1 1071.3,756.3 1080.8,749 1092.2,739.8 1103,730.6 1112.1,722.6 1119.5,715.4 1126,708.5 1129.2,704.8 1132.4,700.4 1134.3,697.4 1136.3,693.8 1138,689.7 1139,686.4 1139.7,682.7 1139.8,679 1139.5,675.3 1138.7,671.7 1137.3,668 1135.4,664.3 1132.4,659.8 1130.1,656.9 1126.6,653.2 1122.8,649.6 1117.6,645.1 1113.8,642.2 1108.2,638.5 1101,634.5 1089.9,629.1 1080.6,625.1 1071.3,621.7 1062.1,618.8 1043.6,613.5 1033.8,610.9 1027.7,609 1023.2,607.2Z"/>
<path fill="#a9cf4b" d="M1042.1,603.5 1186.1,603.5 1186.1,1016.1 941.5,1016.1 941.5,1012.4 943.6,1004.5 944.6,999.5 945.3,994 945.5,988.5 945.5,982.9 945,977.4 944.3,971.9 942.9,964.5 940.9,957.1 937.9,947.9 933.6,936.9 930,927.7 926.7,918.5 925.1,912.9 923.9,907.4 923,901.9 922.8,898.2 922.9,894.5 923.3,890.8 924.1,887.2 925.2,883.5 927.5,877.9 929.5,874.3 933.1,868.7 936.2,864.8 942.6,857.7 949.7,850.3 955.6,844.8 968,833.7 978.9,824.5 986.2,818.9 1001.3,808 1023.2,793 1034.3,785.5 1047.3,776.5 1054.7,771.1 1075,755.6 1086.2,747.1 1097.4,738 1108.4,728.8 1116.8,721.4 1125,713.5 1131.5,706.7 1134.6,703 1138.4,697.4 1140.5,693.8 1142.2,690.1 1143.5,686.2 1144.3,682.7 1144.7,679 1144.7,675.3 1144.2,671.7 1143.2,668 1141.7,664.1 1139.8,660.6 1137.3,656.9 1134.3,653.2 1130.6,649.2 1126.9,645.7 1122.8,642.2 1117.6,638.3 1112.1,634.7 1104.7,630.5 1093.6,625.1 1086.2,621.8 1078.7,618.9 1069.5,615.8 1052.7,610.9 1046.7,609 1042.1,607.2Z"/>
<path fill="#b5d43e" d="M1061.7,603.5 1186.1,603.5 1186.1,1016.1 948.1,1016.1 948.1,1012.4 949.7,1005 950.6,999.5 951.1,992.1 951,984.8 950.5,979.2 949.5,971.9 947.9,964.5 946,957.1 943.6,949.8 939.6,938.7 935.3,927.7 932.2,918.5 930.7,912.9 929.4,907.4 928.6,901.9 928.4,898.2 928.4,894.5 928.8,890.6 929.5,887.2 931.1,881.6 932.5,877.9 934.4,874.2 936.6,870.6 940.5,865.1 946.7,857.7 953.5,850.3 961.1,843 971.4,833.6 980.7,825.6 986.6,820.9 999.2,811.6 1021.4,796.2 1034.3,787.5 1049.8,776.6 1075,757.7 1084.3,750.8 1099.1,739.1 1112.1,728.5 1120.3,721.4 1128.7,713.5 1134.3,707.8 1138.4,703 1142.3,697.4 1144.5,693.8 1146.3,690.1 1147.8,686.4 1148.8,682.7 1149.5,679 1149.7,675.3 1149.5,671.7 1148.8,668 1147.8,664.3 1146.2,660.6 1143,655.1 1139.8,650.8 1135.4,645.9 1130.6,641.4 1126.9,638.2 1121.3,634.1 1115.8,630.5 1110.2,627.3 1102.8,623.4 1093.6,619.2 1086.2,616.1 1078.7,613.3 1065.8,609 1061.7,607.2Z"/>
<path fill="#c2d830" d="M1080,603.5 1186.1,603.5 1186.1,1016.1 954.4,1016.1 954.4,1012.4 955.8,1005 956.4,999.5 956.7,994 956.6,986.6 955.9,979.2 954.7,971.9 952.7,962.7 950.6,955.3 946.9,944.3 940.8,927.7 937.8,918.5 936.2,912.8 935.1,907.4 934.3,901.9 934,896.4 934.1,892.7 934.6,889 935.3,885.3 936.3,881.6 938.5,876.1 940.4,872.4 942.6,868.7 946.5,863.2 951,857.6 957.4,850.3 964.7,843 974.4,833.7 980.7,828.2 988.1,822.2 999.6,813.5 1010.3,805.9 1036.9,787.7 1051,777.8 1073.2,761.2 1084.7,752.7 1099.1,741.6 1115.1,728.8 1123.7,721.4 1132.4,713.4 1138,707.7 1142.1,703 1146.1,697.4 1149.5,691.9 1151.3,688.2 1152.8,684.1 1153.7,680.9 1154.3,677.2 1154.6,673.5 1154.4,669.8 1153.9,666.1 1152.8,662.1 1150.6,656.9 1148.6,653.2 1144.8,647.7 1141.6,644 1138,640.3 1134.1,636.7 1128.7,632.3 1123.2,628.4 1117.6,624.9 1112.1,621.8 1104.7,618.1 1095.4,613.9 1083.5,609 1080,607.2Z"/>
<path fill="#d1dd29" d="M1096.2,603.5 1186.1,603.5 1186.1,1016.1 960.6,1016.1 960.6,1012.4 961.7,1005 962.2,999.5 962.4,994 962.1,986.6 961.3,979.2 960,971.9 958.4,964.5 956.4,957.1 953.5,947.9 946.3,927.7 943.4,918.5 941.5,911.1 940.5,905.6 939.9,900 939.7,894.5 939.9,890.8 940.4,887.2 941.2,883.5 942.3,879.8 943.7,876.1 945.5,872.4 947.5,868.7 951.1,863.2 955.3,857.7 961.4,850.3 968.3,843 975.7,835.6 984.4,827.8 993.6,820.3 1002.9,813.3 1021.4,800.3 1038,788.9 1051,779.8 1065.8,768.9 1086.2,753.8 1102.8,741.2 1116.2,730.6 1125.1,723.2 1133.4,715.9 1139.8,709.6 1144.2,704.8 1147.2,701.1 1151.2,695.6 1153.4,691.9 1155.3,688.2 1156.9,684.6 1158.5,679 1159.1,675.3 1159.4,671.7 1159.3,668 1158.8,664.3 1157.9,660.6 1156.5,656.5 1154,651.4 1150.5,645.9 1147.2,641.6 1142.7,636.7 1138,632.3 1134.3,629.2 1128.7,625.1 1123.2,621.4 1117.6,618.2 1110.2,614.3 1099.1,609 1096.2,607.2Z"/>
<path fill="#e0e223" d="M1111,603.5 1186.1,603.5 1186.1,1016.1 966.7,1016.1 966.7,1012.4 967.8,1003.2 968,997.7 967.9,992.1 967.4,984.8 966.4,977.4 965,970 963.2,962.7 960,951.6 952.5,929.5 949.7,920.3 947.8,912.9 946.6,907.4 945.9,901.9 945.5,896.4 945.7,890.8 946.1,887.2 946.8,883.5 947.8,879.8 949.2,875.9 951.6,870.6 954.7,865 958.4,859.4 962.5,854 968.6,846.6 973.7,841.1 979.2,835.6 985.1,830.1 991.8,824.4 1001,817 1008.4,811.5 1026.9,798.6 1043.6,787 1058.4,776.4 1073.2,765.5 1086.2,756.1 1101,745.1 1117.6,732.2 1128.7,723.1 1136.9,715.9 1142.6,710.3 1147.8,704.8 1152.8,698.6 1156.5,693.2 1158.3,690.1 1160.2,686.4 1162.3,680.9 1163.3,677.2 1163.9,673.5 1164.2,669.8 1164.1,666.1 1163.7,662.5 1162.9,658.8 1161.7,655.1 1160.2,651.4 1158.3,647.7 1156.1,644 1152.1,638.5 1149,634.8 1145.4,631.1 1141.5,627.5 1136.1,623.1 1130.6,619.1 1125,615.5 1113.6,609 1111,607.2Z"/>
<path fill="#ede81f" d="M1124.4,603.5 1186.1,603.5 1186.1,1016.1 972.7,1016.1 972.7,1012.4 973.4,1005 973.7,999.5 973.5,992.1 972.9,984.8 971.8,977.4 970.4,970 968.6,962.7 965.4,951.6 958.2,929.5 955.4,920.3 953.6,912.9 952.6,907.4 951.8,901.9 951.5,896.4 951.6,890.8 952.2,885.3 953,881.6 954,877.9 955.3,874.3 956.8,870.6 959.6,865.1 963,859.5 966.8,854 972.5,846.6 977.3,841.1 982.6,835.6 988.5,830.1 997.3,822.5 1004.7,816.6 1014,809.8 1043.6,789.1 1062.1,775.8 1076.9,765 1099.1,748.9 1115.9,736.1 1127.5,726.9 1134.3,721.3 1140.4,715.9 1146.1,710.3 1151.3,704.8 1156.5,698.6 1160.2,693.4 1162.2,690.1 1164.1,686.4 1165.7,682.7 1167.1,679 1168,675.3 1168.7,671.7 1168.9,668 1168.8,664.3 1168.4,660.6 1167.6,656.7 1166.6,653.2 1165.2,649.6 1163.5,645.9 1161.5,642.2 1157.9,636.7 1154.6,632.5 1150.1,627.5 1145.4,622.9 1141.7,619.7 1136.1,615.5 1126.5,609 1124.4,607.2Z"/>
<path fill="#f6eb1f" d="M1136.3,603.5 1186.1,603.5 1186.1,1016.1 978.7,1016.1 978.7,1012.4 979.2,1005 979.3,999.5 979,992.1 978.3,984.8 976.9,975.6 974.9,966.4 972.5,957.1 968.6,944.3 963.8,929.5 961.7,922.2 959.9,914.8 958.3,905.6 957.7,900 957.5,894.5 957.7,889 958.4,883.4 959.7,877.9 961.4,872.4 964,866.3 966.5,861.4 969.9,855.8 973.7,850.3 977.9,844.8 982.7,839.3 986.2,835.6 992,830.1 1001,822.2 1007.3,817.2 1019.8,808 1047.3,788.6 1067.6,773.9 1076.9,767.2 1089.9,758 1102.8,748.6 1119.5,736 1131,726.9 1138,721.1 1143.9,715.9 1149.6,710.3 1154.8,704.8 1160.2,698.5 1163.9,693.4 1166,690.1 1168,686.4 1169.7,682.7 1171.3,678.6 1172.3,675.3 1173.3,669.8 1173.5,666.1 1173.4,662.5 1173,658.8 1172.3,655.1 1171.3,651.2 1169.4,645.9 1167.6,642.1 1165.7,638.5 1163.4,634.8 1159.5,629.3 1156.4,625.6 1152.8,621.7 1149.1,618.1 1142.7,612.7 1138,609 1136.3,607.2Z"/>
<path fill="#fee311" d="M1146.8,603.5 1186.1,603.5 1186.1,1016.1 984.5,1016.1 984.5,1012.4 984.9,1005 984.9,997.7 984.4,989.9 983.5,982.9 982.3,975.6 980.4,966.4 978,957.1 974.1,944.3 969.5,929.5 967.5,922.2 965.8,914.8 964.5,907.4 963.7,900 963.5,894.5 963.7,889 964.3,883.5 965.3,877.9 966.8,872.4 968.7,866.9 971.4,861.1 974.3,855.8 977.8,850.3 983.3,843 986.4,839.3 989.9,835.6 995.5,830.1 1003.8,822.7 1008.4,818.9 1018,811.6 1036.2,798.7 1065.8,777.5 1077.1,769.3 1088,761.6 1106.5,748.4 1121.3,737.3 1132.4,728.6 1141.7,720.9 1147.3,715.9 1153,710.3 1158.3,704.8 1163.2,699.3 1166,695.6 1169.6,690.1 1172.7,684.6 1175.2,679 1176.4,675.3 1177.3,671.7 1177.8,668 1178,664.3 1177.9,660.6 1177.6,656.9 1176.5,651.4 1174.9,645.9 1172.7,640.4 1170.9,636.7 1167.6,631 1163.9,625.6 1159.5,620.1 1156.1,616.4 1148.3,609 1146.8,607.2Z"/>
<path fill="#fdcd10" d="M1156.3,603.5 1186.1,603.5 1186.1,652.1 1182.4,652.1 1181,647.7 1178.4,640.4 1176,634.8 1173.1,629.3 1169.4,623.4 1165.7,618.3 1162,613.9 1157.6,609 1156.3,607.2ZM1182,671.7 1182.4,670.4 1186.1,670.4 1186.1,1016.1 990.1,1016.1 990.2,1010.6 990.5,1003.2 990.3,995.8 989.7,988.5 988.7,981.1 987.1,971.9 985,962.7 982,951.6 975.8,931.4 973.2,922.2 971.2,912.9 970.1,905.6 969.5,898.2 969.3,892.7 969.6,887.2 970.2,881.6 971.5,874.3 973.2,868.2 975.2,863.2 977.7,857.7 980.8,852.2 984.4,846.6 988.7,841.1 991.9,837.4 997.3,831.9 1003.1,826.4 1010.3,820.2 1019.5,813.1 1039.9,798.3 1075.1,773 1091.7,761.4 1106.6,750.9 1121.5,739.8 1134.3,729.9 1142.4,723.2 1149.1,717.3 1154.6,712.1 1160.2,706.5 1165.7,700.4 1169.5,695.6 1173.2,690.1 1177.4,682.7 1179.9,677.2Z"/>
<path fill="#fcb814" d="M1165,603.5 1186.1,603.5 1186.1,634.1 1182.4,634.1 1180.5,631.1 1176.5,623.8 1173,618.3 1169,612.7 1166.1,609 1165,607.2ZM1181.6,682.7 1182.4,681.7 1186.1,681.7 1186.1,1016.1 995.7,1016.1 995.9,1005 995.8,997.7 995.3,990.3 994.4,982.9 992.9,973.7 990.9,964.5 988.6,955.3 981,929.5 978.5,920.3 976.9,912.8 975.8,905.6 975,896.4 974.9,890.8 975.2,885.3 975.7,879.8 976.6,874.3 978,868.7 979.8,863.2 982.5,857 985,852.2 988.5,846.6 992.6,841.1 995.8,837.4 1001,831.9 1006.8,826.4 1013.1,820.9 1023.2,813 1040,800.6 1060.4,785.9 1078.7,772.8 1105,754.5 1123.2,741.2 1134.6,732.4 1141.7,726.7 1150.9,718.7 1158.3,711.7 1165.7,704.2 1170,699.3 1174.2,693.8 1177.9,688.2 1180.5,684Z"/>
<path fill="#faa719" d="M1173,603.5 1186.1,603.5 1186.1,621.1 1182.4,621.1 1180.1,618.3 1174,609 1173,607.2ZM1182.2,688.2 1182.4,688 1186.1,688 1186.1,1016.1 1001.1,1016.1 1001.3,1005 1001.1,997.7 1000.6,990.3 999.8,982.9 998.3,973.7 996.4,964.5 994.2,955.3 986.7,929.5 984.3,920.3 982.3,911.1 981.2,903.7 980.5,896.4 980.3,890.8 980.4,885.3 980.9,879.8 981.6,874.3 982.8,868.7 984.5,863.2 986.6,857.7 988.4,854 990.4,850.3 993.9,844.8 998.2,839.3 1003.1,833.7 1008.6,828.2 1014.7,822.7 1021.4,817.2 1031,809.8 1058.6,789.5 1076.9,776.5 1104.7,757.4 1119.5,746.7 1134.3,735.5 1143.5,728.1 1151.3,721.4 1161.2,712.2 1168.5,704.8 1171.8,701.1 1177.7,693.8 1180.5,689.9Z"/>
<path fill="#f8991c" d="M1180.9,603.5 1186.1,603.5 1186.1,609.3 1182.4,609.3 1180.9,607.2ZM1181.6,693.8 1182.4,693 1186.1,693 1186.1,1016.1 1006.4,1016.1 1006.6,1003.2 1006.4,995.8 1005.8,988.5 1004.7,979.2 1002.7,968.2 1000.7,959 997.2,946.1 991.4,925.8 989.1,916.6 987.6,909.3 986.5,901.9 985.8,894.5 985.6,889 985.7,883.5 986.3,876.1 987.2,870.6 988.5,865.1 990.4,859.5 991.9,855.8 993.7,852.2 995.8,848.5 999.5,843 1003.8,837.4 1008.8,831.9 1014.4,826.4 1021.4,820.3 1030.6,812.9 1041.9,804.3 1060.2,790.8 1078.7,777.7 1102.8,761.3 1115.8,752.1 1130.6,741.2 1139.8,733.9 1149.1,726.2 1156.6,719.6 1166.3,710.3 1171.8,704.8 1176.8,699.1 1180.5,694.7Z"/>
<path fill="#f5881f" d="M1182.3,697.4 1186.1,697.4 1186.1,1016.1 1011.8,1016.1 1011.9,1003.2 1011.6,994 1010.8,984.8 1009.5,975.6 1007.9,966.4 1005.8,957.1 1002.4,944.3 997.1,925.8 994.8,916.6 993.2,909.3 992,901.9 991.2,894.5 990.8,887.2 990.9,881.6 991.3,876.1 992.1,870.6 993.3,865.1 995,859.5 996.4,855.8 998.2,852.2 1001.3,846.6 1005.1,841.1 1010.3,834.8 1014.7,830.1 1020.5,824.5 1026.9,818.9 1036.2,811.5 1051,800.2 1063.9,790.7 1078.7,780.3 1104.7,762.7 1119.5,752.2 1134.3,741.1 1143.5,733.8 1154.6,724.3 1163.9,715.8 1171.4,708.5 1176.8,702.9 1180.5,698.9Z"/>
<path fill="#f27821" d="M1180.2,703 1182.4,701.3 1186.1,701.3 1186.1,1016.1 1017.1,1016.1 1017.2,1003.2 1016.8,994 1016.1,984.8 1014.9,975.6 1013.3,966.4 1011.4,957.1 1008,944.3 1002.8,925.8 1000.4,916.6 998.8,909.3 997.2,900 996.3,892.7 996,885.3 996,879.8 996.5,874.3 997.3,868.6 998.5,863.2 1000.3,857.7 1001.9,854 1003.7,850.3 1006.9,844.8 1010.9,839.3 1014,835.4 1019.5,829.4 1025.1,824.1 1030.8,819 1039.9,811.6 1049.2,804.3 1062.1,794.6 1075,785.4 1088,776.6 1104.7,765.5 1115.8,757.7 1130.6,746.8 1139.8,739.6 1149.1,732 1161.1,721.4 1171.3,711.8 1178.7,704.4Z"/>
<path fill="#f06722" d="M1180,706.7 1182.4,704.9 1186.1,704.9 1186.1,1016.1 1022.4,1016.1 1022.4,1003.2 1022.1,994 1021.4,984.5 1020.3,975.6 1018.8,966.4 1016.9,957.1 1013.6,944.3 1007.9,924 1005.6,914.8 1003.6,905.6 1002.3,898.2 1001.5,890.8 1001.2,885.3 1001.2,879.8 1001.5,874.3 1002.2,868.7 1003.4,863.2 1005.1,857.7 1006.6,854 1008.4,850.2 1010.4,846.6 1012.7,843 1016.7,837.4 1019.8,833.7 1023.2,830 1028.8,824.5 1037,817.2 1045.9,809.8 1058.4,800.1 1067.8,793.2 1081.1,784 1101,770.8 1112.1,763.2 1125,753.8 1136.2,745.3 1143.5,739.5 1152.8,731.7 1164.3,721.4 1176.1,710.3Z"/>
<path fill="#ee5824" d="M1182,708.5 1182.4,708.2 1186.1,708.2 1186.1,1016.1 1027.7,1016.1 1027.7,1003.2 1027.3,994 1026.7,984.8 1025.7,975.6 1024.2,966.4 1022.4,957.1 1019.2,944.3 1013,922.2 1010.7,912.9 1009.1,905.6 1007.8,898.2 1006.9,890.8 1006.5,885.3 1006.4,879.8 1006.6,874.3 1007.3,868.7 1008.4,863.1 1010.3,857 1012.2,852.2 1014.1,848.5 1016.2,844.8 1019.9,839.3 1024.3,833.7 1029.4,828.2 1035,822.7 1043.6,815 1052.8,807.4 1062.1,800.3 1075,790.9 1088,782.2 1102.8,772.4 1115.8,763.4 1128.7,753.9 1138,746.9 1147.2,739.4 1160.2,728.1 1175.5,714 1180.5,709.4Z"/>
<path fill="#ed4a25" d="M1181.2,712.2 1182.4,711.4 1186.1,711.4 1186.1,1016.1 1033,1016.1 1032.9,1003.2 1032.5,991.8 1031.8,982.9 1030.5,971.9 1028.6,960.8 1026.6,951.6 1023.8,940.6 1018.1,920.3 1015.8,911.1 1013.8,901.9 1012.7,894.5 1011.9,887.2 1011.7,881.6 1011.7,876.1 1012.2,870.6 1013.1,865.1 1014.5,859.5 1016.4,854 1018,850.3 1019.9,846.6 1022.1,843 1026,837.4 1028.9,833.7 1034.3,827.7 1041.7,820.4 1047.3,815.3 1056.5,807.6 1065.8,800.5 1076.9,792.5 1089.9,783.9 1104.7,774.1 1117.6,765.1 1130.6,755.5 1141.7,746.9 1150.9,739.2 1167.6,724.3 1178.8,714Z"/>
<path fill="#ec3c26" d="M1180.3,715.9 1182.4,714.5 1186.1,714.5 1186.1,1016.1 1038.3,1016.1 1038.2,1003.2 1037.8,992.1 1037.1,982.9 1036.1,973.7 1034.7,964.5 1032.9,955.3 1030.3,944.3 1023.1,918.5 1020.8,909.3 1019.2,901.9 1018.1,894.5 1017.3,887.2 1017,881.6 1017,876.1 1017.4,870.6 1018.3,865.1 1019.6,859.5 1021.5,854 1023.9,848.5 1025.9,844.8 1029.4,839.3 1033.6,833.7 1038.3,828.2 1043.7,822.7 1049.5,817.2 1056.5,811 1065.8,803.6 1075,796.9 1086.2,789.3 1105.4,776.6 1113.9,770.7 1126.9,761.3 1138,752.7 1145.4,746.9 1156.5,737.3 1176.8,718.8Z"/>
<path fill="#ec2e26" d="M1182.2,717.7 1186.1,717.6 1186.1,1016.1 1043.7,1016.1 1043.5,1003.2 1043,992.1 1042.2,981.1 1041.2,971.9 1039.7,962.7 1037.9,953.5 1035.2,942.4 1028.5,918.5 1026.2,909.3 1024.6,901.9 1023.4,894.5 1022.6,887.2 1022.4,881.6 1022.4,876.1 1022.8,870.6 1023.6,865.1 1025.4,857.7 1027.3,852.2 1029,848.5 1030.9,844.8 1033.1,841.1 1036.9,835.6 1041.7,829.6 1048.1,822.7 1055.8,815.3 1062.2,809.8 1069.5,804.1 1076.9,798.7 1088,791.1 1104.7,780.2 1113.9,773.8 1128.7,762.9 1141.8,752.7 1149.1,746.8 1163.9,733.6 1177.3,721.4 1180.5,718.7Z"/>
<path fill="#eb2326" d="M1181.1,721.4 1182.4,720.6 1186.1,720.6 1186.1,1016.1 1049.1,1016.1 1048.8,1003.2 1048.2,990.3 1047.3,979.2 1046.2,970 1044.7,960.8 1042.8,951.6 1039.5,938.7 1034.2,920.3 1031.9,911.1 1030.2,903.7 1029,896.4 1028.1,889 1027.7,881.6 1027.7,876.1 1028.1,870.6 1028.9,865.1 1030.1,859.5 1031.8,854 1033.3,850.3 1035,846.6 1036.9,843 1040.4,837.4 1044.5,831.9 1049.1,826.4 1054.7,820.5 1060.2,815.3 1067.6,809 1076.9,802 1084.3,796.8 1106.5,782.1 1115.8,775.6 1130.6,764.6 1143.5,754.4 1150.9,748.2 1176.8,724.8 1180.5,721.7Z"/>
<path fill="#e71c26" d="M1180.2,725.1 1182.4,723.7 1186.1,723.7 1186.1,1016.1 1054.6,1016.1 1054.3,1005 1053.7,992.1 1052.7,981.1 1051.4,970 1049.9,960.8 1048.4,953.5 1045.1,940.6 1041.5,927.7 1038.9,918.5 1036.6,909.3 1035.1,901.9 1033.9,894.5 1033.2,887.2 1033,879.8 1033.1,874.3 1033.6,868.7 1034.6,863.2 1036.5,855.8 1038.4,850.3 1040,846.6 1041.9,843 1044.1,839.3 1047.9,833.7 1052.8,827.5 1057.2,822.7 1062.7,817.2 1069.5,811.3 1076.9,805.5 1084.3,800.1 1097.3,791.4 1112.1,781.5 1128.7,769.1 1143.5,757.4 1151.5,750.9 1176.8,727.9Z"/>
<path fill="#da1e28" d="M1182.3,726.9 1186.1,726.9 1186.1,1016.1 1060.2,1016.1 1060.2,1010.6 1059.3,995.8 1058.4,984.7 1057.1,973.7 1055.7,964.5 1054.3,957.1 1051.6,946.1 1048.1,933.2 1044.4,920.3 1041.6,909.3 1039.8,900 1038.8,892.7 1038.2,885.3 1038.1,877.9 1038.4,872.4 1039.1,866.9 1040.2,861.4 1041.7,855.5 1043.6,850.2 1046,844.8 1048,841.1 1051.5,835.6 1055.5,830.1 1058.5,826.4 1062.1,822.5 1065.8,818.8 1069.6,815.3 1076.9,809.3 1084.3,803.7 1094.1,796.9 1108.4,787.3 1115.8,782.1 1132.6,769.3 1149.1,756 1157.1,749 1175.3,732.4 1180.5,728Z"/>
<path fill="#c92028" d="M1181.5,730.6 1182.4,730.1 1186.1,730.1 1186.1,1016.1 1066.1,1016.1 1066,1010.6 1064.9,995.8 1063.8,984.8 1062,971.9 1060,960.8 1057.9,951.6 1053.5,935 1048.8,918.5 1046.5,909.3 1045,901.9 1044,894.5 1043.3,887.2 1043.2,879.8 1043.4,874.3 1044,868.7 1044.9,863.2 1046.2,857.7 1047.9,852.2 1050.2,846.6 1053,841.1 1055.2,837.4 1059,831.9 1062.1,828 1066.8,822.7 1073.2,816.6 1079,811.6 1086.2,806.1 1097.3,798.3 1113.9,786.7 1123.2,779.8 1136.6,769.3 1150.9,757.6 1156.6,752.7 1175,735.9 1178.9,732.4Z"/>
<path fill="#b72028" d="M1180.8,734.3 1182.4,733.4 1186.1,733.4 1186.1,1016.1 1072.1,1016.1 1072.1,1012.4 1070.8,997.7 1069.3,984.8 1067.6,973.7 1065.5,962.7 1063.4,953.5 1059.4,938.7 1054.1,920.3 1051.8,911.1 1050.2,903.7 1049.1,896.4 1048.4,889 1048.2,881.6 1048.4,876.1 1048.8,870.6 1049.7,865.1 1051.3,857.7 1053.1,852.2 1055.3,846.6 1058.4,840.6 1062.1,834.7 1065.8,829.7 1070.2,824.5 1075.7,819 1082.5,813.1 1089.9,807.3 1099.1,800.6 1115.8,788.8 1125,781.7 1138.4,771.1 1152.8,759.2 1160.2,752.7 1175,739.2 1178.7,735.9Z"/>
<path fill="#a31e25" d="M1180.3,738 1182.4,736.7 1186.1,736.7 1186.1,1016.1 1078.3,1016.1 1078.3,1012.4 1076.7,997.7 1074.9,984.8 1073,973.7 1070.7,962.7 1068.4,953.5 1063.7,936.9 1059.4,922.2 1057,912.9 1055.5,905.6 1054.3,898.2 1053.5,890.8 1053.2,883.5 1053.3,877.9 1053.8,872.4 1054.8,865.1 1056,859.5 1057.7,854 1059.8,848.5 1062.4,843 1064.4,839.3 1068,833.7 1072.3,828.2 1075.6,824.5 1081.1,819 1088,813 1097.3,805.9 1115.8,792.3 1125,785.2 1140.3,773 1154.6,760.9 1176.8,740.9Z"/>
<path fill="#8f1c20" d="M1180,741.7 1182.4,740.2 1186.1,740.2 1186.1,1016.1 1084.7,1016.1 1084.7,1012.4 1083.1,999.5 1081.1,986.6 1078.6,973.7 1076.1,962.7 1073.1,951.6 1064.9,924 1062.4,914.8 1060.8,907.4 1059.5,900 1058.6,892.7 1058.3,887.2 1058.4,879.8 1058.8,874.3 1059.5,868.7 1060.5,863.2 1062.4,855.8 1064.4,850.3 1066.8,844.8 1069.9,839.3 1073.5,833.7 1077.9,828.2 1083,822.7 1088.8,817.2 1095.4,811.6 1121.8,791.4 1140.1,776.6 1156.5,762.7 1176.8,744.3Z"/>
<path fill="#7b1618" d="M1180,745.3 1182.4,743.8 1186.1,743.8 1186.1,1016.1 1091.5,1016.1 1091.5,1012.4 1089.8,1001.3 1087.6,988.5 1085.3,977.4 1082.2,964.5 1078.6,951.6 1070,924 1067.5,914.8 1065.5,905.6 1064.4,898.2 1063.8,892.7 1063.6,887.2 1063.6,881.6 1064,876.1 1064.6,870.6 1066,863.2 1068,855.8 1070,850.3 1072.5,844.8 1075.6,839.3 1079.3,833.7 1082.5,829.7 1087,824.5 1092.6,819 1099.1,813.3 1117.6,798.6 1126.9,791.3 1143.5,777.5 1158.3,764.7 1176.8,748Z"/>
</g></g>
<g><clipPath id="hc3"><rect x="1427.2" y="607.2" width="409.7" height="406.4"/></clipPath><g clip-path="url(#hc3)">
<rect x="1427.2" y="607.2" width="409.7" height="406.4" fill="#2a2e83"/>
<path fill="#2a318b" d="M1423.5,603.5 1840.6,603.5 1840.6,1017.3 1423.5,1017.3 1423.5,879.5 1427.2,879.5 1430.9,879 1434.6,878.2 1438.5,876.9 1442.7,875.1 1446,873.2 1449.5,870.6 1453.3,867 1455.7,864 1457.9,860.3 1459.6,856.6 1460.7,852.9 1461.4,849.2 1461.6,845.5 1461.4,841.8 1460.7,837.9 1459.6,834.4 1458,830.7 1455.8,827 1452.8,823.3 1448.8,819.6 1445.8,817.5 1442.1,815.4 1438.4,813.8 1432.8,812.1 1429.1,811.4 1427.2,811.2 1423.5,811.2Z"/>
<path fill="#2d3692" d="M1423.5,603.5 1840.6,603.5 1840.6,1017.3 1423.5,1017.3 1423.5,895.5 1427.2,895.5 1432.8,894.9 1440.2,893.3 1445.9,891.7 1451.4,889.6 1455.1,887.7 1458.9,885.6 1463.2,882.4 1467.4,878.7 1470.7,875.1 1473.8,870.9 1475.7,867.7 1477.6,864 1479.6,858.4 1480.5,854.7 1481.3,849.2 1481.4,845.5 1481.1,840 1480.5,836.3 1478.9,830.7 1477.5,827 1475.6,823.2 1473.4,819.6 1470,815.2 1466.3,811.3 1462.6,808.1 1458.1,804.9 1455,803 1451.3,801.2 1445.8,799 1440.2,797.4 1434.6,796.2 1429.1,795.3 1423.5,795.2Z"/>
<path fill="#323d98" d="M1423.5,603.5 1840.6,603.5 1840.6,1017.3 1423.5,1017.3 1423.5,907.5 1427.2,907.5 1432.8,907 1438.4,906.1 1445.8,904.4 1451.8,902.8 1457.2,900.9 1462.6,898.7 1466.3,896.8 1470,894.7 1474.4,891.7 1479.3,887.6 1483.1,883.8 1485.8,880.6 1488.7,876.6 1490.7,873.2 1492.7,869.5 1494.3,865.8 1496.1,860.3 1497.1,856.6 1498,850.8 1498.3,845.5 1498,839.2 1497.2,834.4 1495.9,828.9 1493.8,823.3 1492.1,819.6 1490,815.9 1486.1,810.4 1483,806.7 1479.3,803 1474.9,799.3 1471.9,797.1 1468.2,794.7 1462.6,791.7 1457,789.3 1451.4,787.4 1445.8,785.9 1438.4,784.3 1430.9,783.2 1427.2,782.8 1423.5,782.8Z"/>
<path fill="#36459e" d="M1423.5,603.5 1840.6,603.5 1840.6,1017.3 1423.5,1017.3 1423.5,917.8 1427.2,917.8 1432.8,917.3 1440.2,916.1 1449.5,914.2 1458.9,911.9 1464.4,910.1 1470,908.1 1473.9,906.5 1477.6,904.6 1481.2,902.5 1486.8,898.5 1490.5,895.4 1494.4,891.7 1498,887.7 1502.1,882.4 1504.5,878.7 1507.5,873.2 1509.9,867.7 1511.8,862.1 1513.3,856.6 1514.2,851 1514.7,845.5 1514.7,838.1 1514.1,832.6 1512.9,826.6 1511,820.7 1509,815.9 1507.2,812.2 1505,808.6 1500.9,803 1497.7,799.3 1493.9,795.6 1488.7,791.4 1483.1,787.5 1477.5,784.2 1471.9,781.5 1464.4,778.6 1458.9,777 1451.4,775.2 1442.1,773.4 1434.6,772.3 1427.2,771.6 1423.5,771.6Z"/>
<path fill="#384ba2" d="M1423.5,603.5 1840.6,603.5 1840.6,1017.3 1423.5,1017.3 1423.5,926.9 1427.2,926.9 1432.8,926.4 1444,924.8 1455.1,922.7 1464.4,920.6 1471.9,918.6 1477.5,916.9 1481.2,915.5 1485,913.8 1488.7,911.9 1492.4,909.6 1496.8,906.5 1501.7,902.5 1505.5,899.1 1509.2,895.4 1512.9,891.2 1515.3,888 1518.9,882.4 1522.2,876.4 1525.3,869.5 1528.1,862.1 1529.8,856.6 1531.1,851 1532,845.5 1532.7,838.1 1532.9,832.6 1532.8,827 1532.2,821.5 1531.1,815.9 1529.4,810.4 1527.1,804.9 1525.3,801.2 1523.2,797.5 1520.3,793.5 1516.6,789.5 1512.9,786.1 1508.1,782.7 1503.6,779.9 1494.2,775.1 1488.7,772.5 1481.2,769.6 1475.6,767.8 1468.2,765.9 1460.7,764.5 1444,762 1434.6,761 1427.2,760.4 1423.5,760.4Z"/>
<path fill="#3a4fa4" d="M1423.5,603.5 1840.6,603.5 1840.6,1017.3 1423.5,1017.3 1423.5,935.2 1427.2,935.2 1434.6,934.5 1445.8,933 1461.4,930.5 1471.9,928.4 1479.3,926.7 1485.3,924.9 1490.5,923.1 1496.1,920.6 1501.7,917.5 1505.4,915.1 1509.8,912 1514.7,907.9 1518.5,904.4 1522.2,900.4 1526.3,895.4 1530.2,889.8 1533.6,884.3 1537.6,876.9 1541.2,869.5 1545,860.3 1547.6,852.9 1550.3,843.7 1552.6,834.4 1554.1,827 1555.5,817.8 1556.3,810.4 1556.6,804.9 1556.5,799.3 1556.2,795.6 1555.6,791.9 1554.7,788.2 1553.3,784.5 1551.4,780.8 1550.1,778.9 1547.1,775.3 1544.5,772.9 1540.2,769.8 1537.1,767.9 1533.3,766.1 1527.8,763.9 1522.2,762.1 1514.7,760.2 1501.7,757.4 1488.7,755 1475.6,753 1462.6,751.5 1445.8,750 1432.8,749.2 1427.2,749 1423.5,749Z"/>
<path fill="#3a52a5" d="M1423.5,603.5 1840.6,603.5 1840.6,1017.3 1423.5,1017.3 1423.5,942.8 1427.2,942.8 1436.5,942 1451.4,940.2 1468.2,937.8 1479.3,935.8 1486.9,934.2 1494.2,932.1 1499.8,930.1 1505.4,927.6 1511,924.6 1516.6,921 1522.2,916.7 1525.9,913.3 1531.5,907.5 1535.4,902.8 1539.5,897.2 1543.2,891.7 1546.5,886.1 1550.6,878.7 1554.3,871.4 1557.7,864 1561.5,854.7 1565,845.3 1568.7,833.7 1571.6,823.3 1573.7,814.1 1575.1,806.7 1576.2,799.3 1576.6,793.8 1576.6,788.2 1576,782.7 1575.2,779 1574,775.3 1572.3,771.6 1570.1,767.9 1568.7,766.1 1566.9,763.9 1563.1,760.4 1558.4,756.8 1553.8,754.1 1548,751.3 1542.7,749.3 1537.1,747.6 1529.2,745.7 1520.3,744.2 1509.1,742.9 1492.4,741.4 1470,739.8 1449.5,738.7 1436.5,738.2 1423.5,738.2Z"/>
<path fill="#3a55a7" d="M1423.5,603.5 1840.6,603.5 1840.6,1017.3 1423.5,1017.3 1423.5,949.9 1429.1,949.8 1442.1,948.7 1464.4,946 1479.3,944 1488.7,942.4 1496.1,940.8 1501.7,939.2 1507.3,937.2 1512.9,934.8 1518.5,931.8 1524,928.1 1528.1,924.9 1533.3,920.3 1537.9,915.7 1541.1,912 1545.4,906.5 1550.5,899.1 1556.2,889.8 1561.3,880.6 1566.9,869.5 1571.1,860.3 1574.9,851 1578.3,841.8 1581.9,830.7 1585.5,817.8 1587.7,808.6 1589.3,801.2 1590.4,793.8 1590.9,788.2 1591,782.7 1590.7,779 1590.1,775.3 1589.2,771.6 1587.4,767 1585.5,763.6 1583.5,760.5 1579.9,756.3 1576.2,752.7 1572,749.4 1568.7,747.2 1563,743.9 1557.6,741.3 1552,739.2 1546.4,737.4 1540.8,735.9 1533.3,734.3 1523.4,732.8 1512.9,731.7 1499.8,730.7 1466.3,729.1 1447.7,728.4 1436.5,728.3 1423.5,728.4Z"/>
<path fill="#3b58a9" d="M1423.5,603.5 1840.6,603.5 1840.6,1017.3 1423.5,1017.3 1423.5,956.8 1429.1,956.7 1444,955.4 1471.9,952.3 1484.9,950.7 1494.2,949.3 1501.7,947.8 1507.3,946.3 1512.9,944.3 1519.1,941.6 1524,938.8 1529.6,935.1 1533.4,932.3 1537.7,928.6 1543.3,923.1 1546.6,919.4 1551,913.8 1556.3,906.5 1561.3,898.5 1567.3,888 1573.1,876.9 1578.5,865.8 1581.8,858.4 1585.5,849.2 1589.4,838.1 1592.9,826.8 1597,812.2 1599.7,801.2 1601.2,793.8 1602.3,786.4 1602.6,780.8 1602.6,777.1 1602.2,773.5 1601.4,769.8 1600.3,766.1 1598.5,762 1596.6,758.7 1594,755 1590.8,751.3 1587,747.6 1581.8,743.4 1576.2,739.7 1570.5,736.5 1565,733.9 1559.4,731.6 1553.8,729.7 1546.4,727.6 1538.9,726 1529.6,724.5 1520.3,723.3 1509.1,722.3 1492.4,721.4 1455.1,719.9 1442.1,719.5 1432.8,719.5 1423.5,719.6Z"/>
<path fill="#3b5aab" d="M1423.5,603.5 1840.6,603.5 1840.6,1017.3 1423.5,1017.3 1423.5,963.3 1427.2,963.3 1440.2,962.3 1481.2,958.1 1492.4,956.8 1499.8,955.7 1507.3,954.2 1512.9,952.6 1518.5,950.6 1522.2,948.9 1525.9,947 1529.6,944.8 1535.2,941.1 1539.3,937.9 1544.5,933.2 1549.1,928.6 1552.3,924.9 1558.1,917.5 1562,912 1566.9,904.2 1573,893.5 1579.9,880.5 1585.5,869.2 1589.5,860.3 1593.2,851 1597.1,840 1600.6,828.9 1606,810.3 1609.9,795.6 1611.6,787.6 1612.3,782.7 1612.7,777.1 1612.6,773.5 1612.2,769.8 1611.4,766.1 1609.3,760.5 1607.4,756.8 1605,753.1 1602,749.4 1598.5,745.7 1594.4,742.1 1589.2,738 1583.6,734.4 1577.6,731 1569.8,727.3 1563.1,724.6 1555.7,722.1 1546.4,719.7 1537.1,718 1525.9,716.4 1514.7,715.3 1501.7,714.3 1455.1,712.2 1442.1,711.8 1432.8,711.7 1423.5,711.8Z"/>
<path fill="#3d5ead" d="M1423.5,603.5 1840.6,603.5 1840.6,1017.3 1423.5,1017.3 1423.5,969.6 1427.2,969.6 1442.1,968.4 1486.8,964.1 1498,962.8 1505.4,961.7 1511,960.5 1516.6,958.9 1524,956 1531.5,952.1 1537.1,948.7 1542.7,944.6 1546.4,941.4 1550.2,937.9 1553.9,934.2 1559.4,927.7 1563.1,922.8 1566.9,917.4 1571.4,910.2 1576.7,900.9 1583.6,888 1589.3,876.9 1594.8,865.1 1598.5,856.2 1602.4,845.5 1606.7,832.6 1615.6,803 1619.2,790.1 1620.5,784.5 1621.4,779 1621.7,775.3 1621.6,771.6 1621.3,767.9 1620.5,764.2 1619,759.8 1616.6,755 1614.3,751.3 1611.5,747.6 1607.8,743.6 1604.1,740.1 1599.9,736.5 1594.8,732.8 1589,729.1 1581.8,725.2 1574.2,721.7 1566.9,718.9 1558.9,716.2 1552,714.3 1542.7,712.4 1531.4,710.6 1518.5,709.1 1505.4,708.1 1455.1,705.5 1442.1,704.9 1432.8,704.8 1423.5,704.9Z"/>
<path fill="#3f65b1" d="M1423.5,603.5 1840.6,603.5 1840.6,1017.3 1423.5,1017.3 1423.5,975.7 1427.2,975.7 1444,974.4 1488.7,970 1499.8,968.8 1509.1,967.3 1514.7,966.1 1520.3,964.4 1526.7,961.9 1531.5,959.6 1537.4,956.3 1543,952.6 1548.2,948.7 1552.2,945.3 1556,941.6 1559.5,937.9 1565.6,930.5 1570.9,923.1 1574.4,917.5 1579.9,908.1 1587.7,893.5 1595.1,878.7 1600.4,867.4 1604.1,858.4 1608.2,847.3 1613.7,830.7 1623.7,799.3 1626.6,790.1 1628.6,782.7 1629.5,777.1 1629.8,773.5 1629.8,769.8 1629.4,766.1 1628.3,761.6 1627.3,758.7 1625.7,755 1623.6,751.3 1620.9,747.3 1616.5,742.1 1612.8,738.4 1607.8,734.1 1603.7,731 1598.3,727.3 1591.1,723 1584.9,719.9 1576.2,716.1 1568.7,713.3 1559.4,710.3 1552,708.4 1544.5,706.9 1532.9,705.1 1516.6,703.2 1501.7,702.1 1457,699.5 1442.1,698.8 1432.8,698.6 1423.5,698.6Z"/>
<path fill="#426fb9" d="M1423.5,603.5 1840.6,603.5 1840.6,1017.3 1423.5,1017.3 1423.5,981.6 1427.2,981.6 1445.8,980.1 1484.9,976.2 1498,974.8 1507.3,973.4 1512.9,972.4 1518.5,971 1524,969.2 1529.6,967 1537.1,963.5 1543,960 1548.4,956.3 1553.8,952 1557.6,948.7 1561.3,945 1566.9,938.7 1570.6,934 1574.4,928.6 1578,923 1582.3,915.7 1589.3,902.8 1596.8,888 1602.9,875.1 1607,865.8 1610.7,856.6 1615.4,843.7 1628.3,804.8 1633.5,790.1 1635.2,784.5 1636.5,779 1637,775.3 1637.2,771.6 1637.1,767.9 1636.6,764.2 1635.7,760.5 1633.7,755 1631.8,751.3 1629.5,747.6 1626.5,743.4 1622,738.4 1617.2,733.7 1613.4,730.6 1607.8,726.5 1602.3,722.9 1596.7,719.7 1589.2,715.8 1581.7,712.5 1571.8,708.8 1563.1,706 1555.7,704 1548.2,702.3 1538.9,700.8 1525.9,699.1 1512.8,697.7 1494.2,696.3 1457,694 1442.1,693.2 1430.9,693 1423.5,693Z"/>
<path fill="#447ec4" d="M1423.5,603.5 1840.6,603.5 1840.6,1017.3 1423.5,1017.3 1423.5,987.3 1427.2,987.3 1447.7,985.6 1475.6,982.7 1496.1,980.3 1507.3,978.8 1514.7,977.4 1520.3,976 1525.9,974.2 1531.5,972.1 1538.9,968.7 1544.7,965.6 1550.5,961.9 1555.7,958 1559.8,954.5 1565.5,948.9 1568.9,945.3 1573.4,939.7 1578.7,932.3 1583.6,924.4 1587.5,917.5 1595.2,902.8 1602.5,888 1608.5,875.1 1613.4,863.7 1617.6,852.9 1628.7,821.5 1634.4,804.9 1639.9,790.1 1641.7,784.5 1643.4,777.1 1643.8,773.5 1644,769.8 1643.8,766.1 1643.2,762.4 1642.1,758.7 1640.8,755 1639.1,751.3 1637,747.6 1633.9,743 1630.1,738.4 1626.5,734.5 1622.7,731 1618.3,727.3 1613.1,723.6 1606,719.1 1596.7,713.9 1589.2,710.3 1579.9,706.6 1570.2,703.3 1559.4,700.1 1552,698.3 1542.7,696.6 1531.5,695.1 1514.7,693.2 1498,691.7 1462.6,689.3 1444,688.2 1432.8,687.8 1423.5,687.7Z"/>
<path fill="#4492d2" d="M1423.5,603.5 1840.6,603.5 1840.6,1017.3 1423.5,1017.3 1423.5,992.8 1427.2,992.8 1451.4,990.6 1468.2,988.9 1488.7,986.4 1503.6,984.3 1512.9,982.7 1520.3,981 1528.5,978.5 1535.2,976 1542.7,972.6 1548.8,969.3 1554.6,965.6 1559.5,961.9 1565.8,956.3 1571.2,950.8 1574.4,947.1 1578.7,941.6 1582.6,936 1587.4,928.4 1591.4,921.2 1598.9,906.5 1606.1,891.7 1613.7,875.1 1619.3,862.1 1626.5,843.3 1634.4,821.5 1639.7,806.7 1645.3,791.9 1647.2,786.4 1649,779 1649.9,773.5 1650.1,769.8 1650,766.1 1649.4,762.4 1648.5,758.7 1646.5,753.1 1644.8,749.4 1642.7,745.7 1638.9,740.2 1635.8,736.4 1632.1,732.4 1628.3,728.8 1624.3,725.4 1619,721.5 1613.4,717.9 1606,713.6 1596.7,708.7 1591.1,706.1 1583.6,703.2 1572.5,699.4 1559.4,695.6 1552,693.9 1540.8,692 1522.2,689.6 1505.4,687.9 1479.3,685.7 1457,684.2 1440.2,683.2 1429.1,682.8 1423.5,682.8Z"/>
<path fill="#3ba7e1" d="M1423.5,603.5 1840.6,603.5 1840.6,1017.3 1423.5,1017.3 1423.5,998.1 1427.2,998.1 1453.3,995.8 1468.2,994.2 1484.9,992 1501.7,989.4 1511,987.7 1520.3,985.7 1527.8,983.6 1533.3,981.7 1538.9,979.6 1546.4,976.2 1552.4,973 1558.2,969.3 1563.1,965.5 1567.5,961.9 1573.2,956.3 1576.5,952.6 1581.8,946.1 1586.3,939.7 1591.1,931.9 1596.9,921.2 1604.3,906.5 1612.1,889.8 1619.5,873.2 1625,860.3 1634.4,836.3 1645.4,806.7 1651,791.9 1652.9,786.4 1654.4,780.4 1655.3,775.3 1655.7,771.6 1655.8,767.9 1655.5,764.2 1654.9,760.5 1654,756.8 1652.5,752.6 1650.2,747.6 1648.1,743.9 1644.3,738.4 1641.3,734.7 1637.6,730.6 1633.9,727 1629.9,723.6 1624.6,719.6 1619,715.9 1611.6,711.6 1602.3,706.6 1594.8,703.1 1585.5,699.4 1574.3,695.6 1562.5,692.2 1553.8,690.1 1544.5,688.4 1527.8,686.1 1507.3,683.8 1481.2,681.4 1458.9,679.7 1440.2,678.6 1429.1,678.2 1423.5,678.1Z"/>
<path fill="#34baee" d="M1423.5,603.5 1840.6,603.5 1840.6,1017.3 1423.5,1017.3 1423.5,1003.4 1427.2,1003.4 1453.3,1001 1466.3,999.6 1479.3,997.8 1496.1,995 1511,992.2 1520.3,990.2 1529.6,987.7 1535.2,985.9 1540.8,983.8 1546.4,981.4 1552.3,978.5 1559.4,974.3 1565,970.4 1568.8,967.4 1572.9,963.7 1576.6,960 1580,956.3 1584.5,950.8 1589.8,943.4 1593.2,937.9 1598.5,928.4 1604.1,917.4 1611.9,900.9 1622.7,876.8 1630.6,858.4 1641.4,832.1 1655.3,795.6 1657.3,790.1 1659,784.5 1660.2,779 1661,773.5 1661.3,769.8 1661.3,766.1 1661,762.4 1660.3,758.7 1659.4,755 1658.1,751.3 1656.3,747.2 1654.4,743.8 1652.2,740.2 1648.1,734.7 1645,731 1641.4,727.1 1637.6,723.6 1632.1,719.1 1624.6,714 1619,710.6 1607.8,704.7 1600.4,701 1594.8,698.5 1587.4,695.6 1579.9,693 1566.9,689.2 1559.4,687.2 1552,685.7 1542.7,684.1 1524,681.6 1503.6,679.2 1481.2,677.1 1460.7,675.4 1440.2,674 1429.1,673.6 1423.5,673.5Z"/>
<path fill="#3bc5f0" d="M1423.5,603.5 1840.6,603.5 1840.6,1017.3 1423.5,1017.3 1423.5,1008.8 1427.2,1008.8 1455.1,1006.1 1466.3,1004.8 1477.5,1003.1 1492.4,1000.4 1511,996.6 1522.2,994.1 1532.1,991.4 1538.9,989.2 1548.2,985.5 1553.8,983 1559.4,979.9 1565,976.3 1570.6,972.2 1574.3,969.1 1578.1,965.6 1581.8,961.7 1586.4,956.3 1591.1,950.1 1595.5,943.4 1600.7,934.2 1606.5,923.1 1612.6,910.2 1626.5,878.7 1641.7,843.7 1647.1,830.7 1660.3,797.5 1662.4,791.9 1664.1,786.4 1665.6,780.5 1666.5,775.3 1667,769.8 1667,766.1 1666.8,762.4 1666.2,758.7 1665.4,755 1663.5,749.4 1661.8,745.7 1659.9,742.1 1657.6,738.4 1653.5,732.8 1650.5,729.1 1646.9,725.3 1643.2,721.7 1638.8,718 1633.8,714.3 1626.5,709.6 1620.9,706.4 1606,698.9 1598.5,695.5 1589.2,691.9 1581.8,689.3 1568.7,685.5 1561.3,683.6 1552,681.6 1542.7,680.1 1522.2,677.3 1503.6,675 1481.2,672.7 1460.7,671 1440.2,669.5 1429.1,669 1423.5,669Z"/>
<path fill="#55c7e7" d="M1423.5,603.5 1840.6,603.5 1840.6,1017.3 1442.3,1017.3 1442.3,1013.6 1455.1,1011.7 1470,1009.5 1481.2,1007.5 1498,1004 1518.5,999.3 1529.6,996.5 1537.1,994.4 1546.4,991.1 1554.3,987.7 1559.4,985.2 1565,982 1570.6,978.2 1576.2,973.9 1579.9,970.6 1583.6,966.9 1588.1,961.9 1592.9,955.7 1596.7,950.4 1601,943.4 1606,934.2 1610.7,924.9 1617.5,910.2 1635.1,869.5 1642.4,852.9 1651.5,832.6 1664.7,801.2 1667.6,793.8 1669.5,788.2 1671.4,780.8 1672.4,775.3 1673,769.8 1673,766.1 1672.8,762.4 1672.3,758.7 1671,753.1 1669.1,747.6 1667.4,743.9 1665.5,740.2 1663.2,736.5 1659.2,731 1656.1,727.3 1652.5,723.4 1648.8,719.7 1644.7,716.2 1639.5,712.3 1633.9,708.6 1628.2,705.1 1620.9,701.2 1607.8,694.9 1600.4,691.6 1591.1,688 1583.6,685.5 1572.5,682.3 1563.1,680 1553.8,678 1544.5,676.3 1524,673.4 1505.4,671 1481.2,668.4 1460.7,666.5 1440.2,665 1429.1,664.4 1423.5,664.3Z"/>
<path fill="#66c8da" d="M1423.5,603.5 1840.6,603.5 1840.6,1017.3 1480.6,1017.3 1480.6,1013.6 1486.8,1011.6 1511,1005.5 1527.8,1001.4 1537.3,998.8 1544.5,996.5 1553.8,992.9 1559.4,990.4 1565,987.4 1570.6,984 1576.2,980.1 1580.4,976.7 1585.5,972 1589.8,967.4 1594.8,961.3 1598.5,956.2 1602.3,950.6 1606.4,943.4 1612.2,932.3 1617.5,921.2 1624,906.5 1635.8,878.3 1643.7,860.3 1656.5,832.6 1669.9,803 1673,795.5 1675,790.1 1676.7,784.4 1678,779 1678.9,773.5 1679.3,767.9 1679.2,764.2 1678.9,760.5 1678.3,756.8 1677.4,753.1 1676.3,749.4 1674.9,745.7 1672.3,740.2 1669,734.7 1665.1,729.1 1661.8,725.2 1658.1,721.2 1654.4,717.6 1650.7,714.3 1645.1,710 1639.5,706.2 1633.9,702.8 1626.5,698.7 1615.3,693.4 1606,689.2 1598.5,686.2 1589.2,682.9 1581.8,680.6 1568.7,677.2 1559.4,675.1 1548.2,673 1527.8,669.8 1509.1,667.3 1483.1,664.3 1460.7,662.2 1442.1,660.6 1430.9,659.9 1423.5,659.8Z"/>
<path fill="#6dc8cb" d="M1423.5,603.5 1840.6,603.5 1840.6,1017.3 1501.4,1017.3 1501.4,1013.6 1505.8,1011.8 1512.9,1009.6 1531.5,1005 1540.8,1002.4 1548.2,999.9 1557.6,996.3 1565,992.9 1571,989.6 1576.6,985.9 1581.8,982.1 1586,978.5 1590,974.8 1593.4,971.1 1598.5,964.8 1603.3,958.2 1606.8,952.6 1611.9,943.4 1617.5,932.3 1621.8,923.1 1627.3,910.2 1636.3,888 1641.7,875.1 1647.4,862.1 1656.3,843.7 1674.3,806.7 1677.7,799.3 1680.7,791.9 1682.6,786.4 1684.2,780.4 1685.1,775.3 1685.7,769.8 1685.7,764.2 1685.1,758.7 1684,753.1 1682.3,747.6 1680,742.1 1676.7,735.8 1672.5,729.1 1669.3,724.9 1664.8,719.9 1659,714.3 1654.4,710.5 1648.8,706.3 1643.2,702.5 1637.6,699.1 1630.2,695.2 1619,690 1606,684.4 1596.7,680.9 1589.2,678.4 1578,675.3 1566.9,672.6 1555.7,670.3 1538.9,667.5 1516.6,664.2 1498,661.8 1464.4,658.3 1444,656.4 1430.9,655.5 1423.5,655.3Z"/>
<path fill="#70c8c2" d="M1423.5,603.5 1840.6,603.5 1840.6,1017.3 1519.2,1017.3 1519.2,1013.6 1524.2,1011.8 1540.8,1007.3 1548.2,1004.9 1557.6,1001.5 1565,998.4 1572.5,994.7 1578,991.3 1583.6,987.4 1589.2,983 1592.9,979.7 1597.6,974.8 1600.6,971.1 1604.8,965.6 1608.5,960 1611.8,954.5 1619.5,939.7 1623.9,930.5 1630.9,913.8 1639.5,891.7 1645.1,878.2 1650.7,865.6 1658.7,849.2 1669.3,828.5 1679.7,808.6 1683.4,801.2 1686.6,793.8 1688.6,788.2 1690.3,782.7 1691.8,775.3 1692.4,769.8 1692.3,764.2 1691.5,756.8 1690.2,751.3 1688.4,745.7 1686.1,740.2 1683.2,734.7 1679.8,729.1 1675.8,723.6 1672.8,719.9 1669.3,716.2 1665.3,712.5 1660,708 1652.5,702.5 1646.9,698.8 1641.4,695.5 1633.9,691.6 1624.6,687.3 1613.4,682.6 1604.1,679 1594.2,675.5 1587.4,673.5 1576.2,670.6 1565,668.2 1553.8,666.1 1531.5,662.5 1514.7,660 1496.1,657.7 1460.7,653.8 1442.1,652 1430.9,651.2 1423.5,651Z"/>
<path fill="#75c7b2" d="M1423.5,603.5 1840.6,603.5 1840.6,1017.3 1539.5,1017.3 1539.5,1013.6 1544.5,1011.6 1555.7,1007.8 1565,1004.3 1570.6,1001.9 1576.8,998.8 1583.6,994.7 1589.2,990.9 1593.3,987.7 1597.5,984 1601.1,980.3 1604.3,976.7 1608.5,971.1 1612.2,965.6 1615.5,960 1619.3,952.6 1624.6,941.6 1628.8,932.3 1636.2,913.8 1643.2,895.2 1649.1,880.6 1654.9,867.7 1660.3,856.6 1669.3,839.5 1685.3,810.4 1690.1,801.2 1692.6,795.6 1694.7,790.1 1696.5,784.5 1697.9,779 1698.8,773.5 1699.2,767.9 1699,762.4 1698.3,756.8 1697.1,751.3 1695.4,745.7 1693.1,740.2 1689.3,732.8 1685.8,727.3 1681.9,721.7 1678.6,717.7 1674.9,713.7 1671.2,710.2 1667.3,707 1661.8,702.7 1654.4,697.5 1648.8,694 1641.4,689.9 1633.9,686.4 1624.6,682.3 1611.6,677.1 1600.4,673.1 1592.9,670.8 1581.8,667.8 1570.6,665.3 1555.7,662.5 1532.9,658.9 1514.7,656.3 1496.1,653.9 1460.7,649.9 1442.1,648 1430.9,647.1 1427.2,646.9 1423.5,646.9Z"/>
<path fill="#7bc69f" d="M1423.5,603.5 1840.6,603.5 1840.6,1017.3 1558.6,1017.3 1558.6,1013.6 1562.2,1011.8 1572.5,1007.7 1578,1005.2 1583.6,1002.4 1589.8,998.8 1595.4,995.1 1600.4,991.3 1604.3,987.7 1607.8,984 1612.3,978.5 1616,973 1619.2,967.4 1622.9,960 1628.7,947.1 1634,934.2 1641.8,913.8 1647.9,897.2 1653.1,884.3 1658.1,872.7 1662.3,864 1668,852.9 1677.3,836.3 1690.1,814.1 1694.1,806.7 1697.8,799.3 1700.2,793.8 1702.2,788.2 1703.9,782.7 1705.1,777.1 1705.8,771.6 1706.1,766.1 1705.8,760.5 1705,755 1703.7,749.4 1701.8,743.9 1699.1,737.6 1696.6,732.8 1693.2,727.3 1689.4,721.7 1685,716.2 1681.7,712.5 1675.9,707 1671.2,703 1665.6,698.8 1658.1,693.8 1650.7,689.4 1645.1,686.4 1637.6,682.9 1628.3,678.8 1617.2,674.5 1606,670.6 1596.7,667.6 1589.2,665.5 1576.2,662.5 1565,660.3 1550.1,657.9 1518.5,653.2 1496.1,650.4 1458.9,646 1442,644.1 1430.9,643.2 1427.2,643 1423.5,643Z"/>
<path fill="#81c68b" d="M1423.5,603.5 1840.6,603.5 1840.6,1017.3 1577.9,1017.3 1577.9,1013.6 1581.8,1011.4 1591.1,1007 1596.7,1004 1602.3,1000.5 1607.8,996.4 1611.6,993.1 1615.3,989.2 1617.9,985.9 1621.6,980.3 1624.6,974.7 1628.7,965.6 1634.4,950.8 1651,904.6 1656.7,889.8 1662.2,876.9 1666.5,867.7 1671.3,858.4 1677.4,847.3 1686.1,832.6 1696,815.9 1701.1,806.7 1704.7,799.3 1707.1,793.8 1709.1,788.2 1710.7,782.7 1712.3,775.3 1712.9,769.8 1713,764.2 1712.6,758.7 1711.7,753.1 1710.3,747.5 1708.3,742.1 1705.9,736.5 1702.8,730.8 1698.3,723.6 1693.5,717.1 1689.6,712.5 1686.1,708.7 1682.3,705.1 1676.7,700.4 1670.7,695.9 1663.7,691.3 1655.8,686.6 1648.8,682.9 1639.5,678.5 1630.2,674.6 1620.9,671.1 1609.7,667.3 1598.5,663.9 1589.2,661.4 1578,658.9 1566.9,656.8 1550.1,654.2 1516.6,649.6 1460.7,642.6 1442.1,640.4 1430.9,639.4 1427.2,639.2 1423.5,639.2Z"/>
<path fill="#89c777" d="M1423.5,603.5 1840.6,603.5 1840.6,1017.3 1599.1,1017.3 1599.1,1013.6 1602.3,1011.5 1609.7,1007.5 1615.3,1003.9 1619.3,1000.7 1623.1,997 1626.5,992.6 1628.3,989.6 1630.2,985.9 1632.6,980.3 1635.2,973 1645.4,939.7 1650.7,923.1 1656.6,906.5 1660.7,895.4 1665.6,883.7 1669.5,875.1 1675,864 1681,852.9 1688.7,840 1699.8,821.5 1705.1,812.2 1709,804.9 1712.5,797.5 1714.7,791.9 1716.6,786.4 1718.1,780.8 1719.2,775.3 1719.9,769.8 1720.1,764.2 1719.8,758.7 1719,753.1 1717.7,747.6 1715.8,742.1 1713.4,736.5 1710.3,730.5 1706,723.6 1702.1,718 1697.2,712 1692.5,707 1687.9,702.6 1682.2,697.7 1676.7,693.5 1671.2,689.7 1665.6,686.3 1658.1,682.2 1650.7,678.4 1639.5,673.4 1630.2,669.7 1620.9,666.3 1607.8,662.2 1598.5,659.6 1587.4,656.8 1576.2,654.5 1565,652.6 1542.7,649.5 1457,638.6 1440.2,636.6 1429.1,635.6 1423.5,635.4Z"/>
<path fill="#93c966" d="M1423.5,603.5 1840.6,603.5 1840.6,1017.3 1623.2,1017.3 1623.2,1013.6 1625.2,1011.8 1630.2,1007.8 1632.1,1006 1633.9,1003.9 1636.2,1000.7 1638.1,997 1639.6,993.3 1641.4,987.7 1643.6,978.5 1647.5,960 1650.7,947 1654.7,932.3 1658.1,921.1 1661.9,910.2 1666,899.1 1671.3,886.1 1675.5,876.9 1681,865.8 1686.1,856.5 1693.6,843.7 1704.8,825.2 1711.2,814.1 1716,804.9 1718.6,799.3 1721.6,791.9 1723.5,786.4 1725.4,779 1726.5,773.5 1727.1,767.9 1727.3,762.4 1726.9,756.8 1726.1,751.3 1724.7,745.7 1722.7,740.2 1720.3,734.7 1717.3,729.1 1713.9,723.6 1710,718 1705.8,712.5 1702.6,708.8 1699.1,705 1695.3,701.4 1688.9,695.9 1684.2,692.1 1678.6,688.1 1673,684.6 1665.6,680.4 1656,675.5 1646.9,671.4 1637.6,667.5 1628.3,664 1617.2,660.4 1604.1,656.7 1592.9,653.9 1581.8,651.5 1570.6,649.5 1557.6,647.7 1514.7,642.6 1477.5,637.8 1451.4,634.4 1434.6,632.4 1427.2,631.8 1423.5,631.8Z"/>
<path fill="#9ecc58" d="M1423.5,603.5 1840.6,603.5 1840.6,1017.3 1643,1017.3 1643,1013.6 1646.3,1008.1 1648,1004.4 1649.2,1000.7 1650.8,993.3 1652.6,982.2 1654.7,967.4 1656.5,956.3 1658.8,945.3 1662,932.3 1664.1,924.9 1667.7,913.8 1671.7,902.8 1677,889.8 1682.8,876.9 1688.3,865.8 1693.5,856.4 1710.3,828.1 1716.2,817.8 1721.4,807.9 1725.5,799.3 1728.4,791.9 1730.9,784.5 1732.7,777.1 1733.7,771.6 1734.3,766.1 1734.5,760.2 1734.1,755 1733.3,749.4 1731.8,743.9 1729.9,738.4 1727,732.1 1724.4,727.3 1720.9,721.7 1716.9,716.2 1712.1,710 1707.8,705.1 1704.2,701.4 1698.1,695.9 1691.3,690.3 1686.1,686.5 1680.5,682.7 1674.6,679.2 1667.4,675.4 1658.1,671 1646.9,666.1 1637.6,662.4 1630.2,659.7 1620.9,656.7 1606,652.7 1594.8,650 1583.6,647.7 1572.5,645.8 1559.4,644.1 1531.5,641.1 1512.9,638.9 1479.3,634.6 1451.4,630.8 1432.8,628.7 1427.2,628.2 1423.5,628.2Z"/>
<path fill="#a9cf4b" d="M1423.5,603.5 1840.6,603.5 1840.6,1017.3 1655,1017.3 1655,1013.6 1657.4,1006.2 1658.7,1000.7 1660,993.3 1663.1,967.4 1664.7,956.3 1666.7,945.3 1668.7,936 1671.2,926.7 1674,917.5 1677.9,906.5 1682.3,895 1686.9,884.3 1692.1,873.2 1697.9,862.1 1707.3,845.5 1718,827 1724.1,815.9 1728.9,806.5 1732.9,797.5 1735.7,790.1 1738.2,782.4 1739.6,777.1 1740.7,771.6 1741.4,766.1 1741.7,760.5 1741.5,755 1740.9,749.4 1739.7,743.9 1737.9,738.4 1735.7,732.8 1732.6,726.9 1728.3,719.9 1724.3,714.3 1719.6,708.4 1715,703.3 1709.6,697.7 1704.7,693.3 1698.7,688.5 1691.1,682.9 1684.2,678.4 1678.6,675.2 1671.2,671.3 1660,666.1 1648.8,661.4 1639.5,657.8 1630.2,654.6 1619,651.3 1604.1,647.6 1591.1,644.8 1579.9,642.8 1568.7,641.2 1542.7,638.5 1518.5,636 1496.1,633.3 1457,628 1436.5,625.5 1429.1,624.7 1423.5,624.6Z"/>
<path fill="#b5d43e" d="M1423.5,603.5 1840.6,603.5 1840.6,1017.3 1663.3,1017.3 1663.3,1013.6 1665.9,1004.4 1667.4,996.8 1669,985.9 1671.4,965.6 1673,954.4 1675,943.4 1677.1,934.2 1679.6,924.9 1682.4,915.7 1686.3,904.6 1690.7,893.5 1695.5,882.4 1699.9,873.2 1705.5,862.1 1723.9,828.9 1730.8,815.9 1735.4,806.7 1738.7,799.3 1742.3,790.1 1744.8,782.7 1746.3,777.1 1747.5,771.6 1748.4,766.1 1748.9,760.5 1748.9,755 1748.4,749.4 1747.5,743.9 1746,738.4 1743.8,732.3 1741.5,727.3 1738.2,721.5 1734.5,715.8 1730.6,710.6 1724.3,703.3 1719,697.7 1713.1,692.2 1708.4,688.2 1701,682.6 1695.4,678.7 1689.8,675.1 1684.2,671.9 1676.7,668 1667.4,663.6 1656.3,658.8 1645.1,654.5 1635.8,651.2 1626.5,648.4 1615.3,645.4 1604.1,642.9 1591.1,640.3 1579.9,638.4 1568.7,637 1529.6,633.4 1512.9,631.7 1492.4,629.1 1457,624.4 1432.8,621.5 1427.2,621 1423.5,621Z"/>
<path fill="#c2d830" d="M1423.5,603.5 1840.6,603.5 1840.6,1017.3 1670.7,1017.3 1670.7,1013.6 1673.1,1004.4 1675,995.1 1677,982.2 1679.5,963.7 1681.3,952.6 1683.4,941.6 1685.6,932.3 1688.1,923.1 1691,913.8 1694.3,904.6 1699.4,891.7 1705,878.7 1710.4,867.7 1718,852.9 1730.8,828.8 1737.4,815.9 1742.7,804.9 1746.7,795.6 1749.5,788.2 1752,780.8 1753.5,775.3 1755.1,767.9 1755.8,762.4 1756.2,756.8 1756.1,751.3 1755.6,745.7 1754.5,740.2 1753,734.7 1750.9,729.1 1748.3,723.6 1745.1,718 1741.4,712.5 1736.3,706.1 1732.3,701.4 1726.9,695.9 1721,690.3 1714,684.5 1706.5,678.9 1701,675.1 1691.6,669.5 1684.2,665.4 1676.7,661.8 1665.6,656.8 1654.4,652.4 1645.1,648.9 1635.8,645.9 1626.5,643.2 1615.3,640.4 1604.1,638 1592.9,635.9 1581.8,634.2 1570.6,632.9 1531.5,629.7 1514.7,628.1 1494.2,625.6 1458.9,620.9 1430.9,617.7 1427.2,617.3 1423.5,617.3Z"/>
<path fill="#d1dd29" d="M1423.5,603.5 1840.6,603.5 1840.6,1017.3 1677.6,1017.3 1677.6,1013.6 1680.5,1002.2 1682.3,993.1 1687.4,961.9 1689.8,948.9 1692.2,937.9 1694.6,928.6 1697.3,919.4 1701,908.3 1705.1,897.2 1709.6,886.1 1714.5,875.1 1721.6,860.3 1740.1,823.3 1746.4,810.4 1751.5,799.3 1755.3,790.1 1757.9,782.7 1760.2,775.3 1761.6,769.8 1762.6,764.2 1763.3,758.7 1763.5,753.1 1763.4,747.6 1762.7,742.1 1761.6,736.5 1760,731 1757.9,725.4 1755,719.5 1750.7,712.5 1746.7,707 1741.9,701.2 1736.3,695.2 1730.8,689.9 1725,684.8 1719.6,680.5 1712.1,675.1 1704.4,670 1697.2,665.8 1689.8,661.8 1682.3,658.1 1671.2,653.2 1660,648.7 1646.9,644 1637.6,641 1628.3,638.4 1617.2,635.7 1604.1,633 1592.9,631.1 1581.8,629.6 1568.7,628.3 1533.3,625.8 1516.6,624.3 1498,622.2 1460.7,617.4 1440.2,615 1429.1,613.8 1423.5,613.7Z"/>
<path fill="#e0e223" d="M1423.5,603.5 1840.6,603.5 1840.6,1017.3 1684.2,1017.3 1684.2,1013.6 1687.4,1000.7 1690.1,987.7 1694.9,961.9 1697.5,948.9 1700.1,937.9 1703.1,926.8 1706.5,915.3 1710.3,904.4 1714.4,893.5 1719.7,880.6 1726.2,865.8 1738.4,840 1751.8,812.2 1756.9,801.2 1760.9,791.9 1764.4,782.7 1766.8,775.3 1768.3,769.8 1769.5,764.2 1770.3,758.7 1770.8,753.1 1770.8,747.6 1770.4,742.1 1769.6,736.5 1768,730.3 1766.1,724.9 1764,719.9 1762.1,716.2 1759.9,712.5 1756.2,707 1751.2,700.6 1747,695.9 1741.6,690.3 1735.6,684.8 1730.8,680.7 1723.3,675 1715.9,669.8 1706.5,664.1 1699.1,659.9 1689.8,655.2 1680.5,651 1667.4,645.6 1656.3,641.5 1646.9,638.3 1637.6,635.5 1626.5,632.6 1615.3,630 1604.1,627.9 1592.9,626.2 1581.8,624.9 1566.9,623.7 1537.1,621.9 1520.3,620.6 1503.6,618.9 1458.9,613.3 1434.6,610.6 1427.2,609.7 1423.5,609.7Z"/>
<path fill="#ede81f" d="M1446.8,603.5 1840.6,603.5 1840.6,1017.3 1690.6,1017.3 1690.6,1013.6 1694.3,998.8 1697.9,982.2 1702.2,961.9 1705.5,947.1 1708.8,934.2 1712.4,921.2 1716,910.2 1720.6,897.2 1725.6,884.3 1731.8,869.5 1740.7,849.2 1750.1,828.9 1761.4,804.9 1766.4,793.8 1770.2,784.5 1772.8,777.1 1775,769.8 1776.3,764.2 1777.3,758.7 1777.9,753.1 1778.1,747.6 1777.9,742.1 1777.3,736.5 1776.1,731 1774.6,725.4 1772.5,719.9 1769.9,714.3 1767.8,710.6 1765.5,707 1761.6,701.4 1758.6,697.7 1753.1,691.6 1747.5,686.1 1741.9,681 1734.5,674.9 1727,669.5 1719.5,664.5 1712.1,660 1702.8,655 1693.5,650.4 1682.3,645.5 1669.3,640.3 1658.1,636.2 1646.9,632.6 1637.6,629.9 1626.5,627.1 1615.3,624.7 1604.1,622.7 1594.8,621.4 1581.8,620.1 1566.9,619.1 1538.9,617.7 1522.2,616.6 1505.4,615 1484.9,612.6 1457.8,609 1446.8,607.2Z"/>
<path fill="#f6eb1f" d="M1481.4,603.5 1840.6,603.5 1840.6,1017.3 1696.9,1017.3 1696.9,1013.6 1702.4,991.4 1708.8,963.7 1714.3,941.6 1717.8,928.6 1721.7,915.7 1726,902.8 1731.5,888 1738.8,869.5 1746.5,851 1753.7,834.4 1761.4,817.8 1770.1,799.3 1774.2,790.1 1777.9,780.8 1780.5,773.5 1782.1,767.9 1783.5,762.4 1784.4,756.8 1785,751.3 1785.2,745.7 1785,740.2 1784.4,734.7 1783.4,729.1 1781.9,723.6 1780,718 1777.3,712 1774.6,707 1771,701.4 1766.1,695.1 1761.9,690.3 1756.6,684.8 1750.7,679.2 1743.8,673.4 1736.3,667.8 1728.8,662.6 1721.4,658 1712.1,652.8 1701,647.3 1689.8,642.3 1678.6,637.7 1665.6,632.9 1654.4,629.1 1645.1,626.2 1635.8,623.8 1624.6,621.2 1613.4,619 1604.1,617.5 1594.8,616.3 1583.6,615.3 1566.9,614.4 1538.9,613.2 1524,612.3 1509.1,611.1 1491.7,609 1481.4,607.2Z"/>
<path fill="#fee311" d="M1526.4,603.5 1840.6,603.5 1840.6,1017.3 1703.2,1017.3 1703.2,1013.6 1704,1009.9 1709.3,989.6 1715.2,965.6 1721.9,939.7 1725.5,926.8 1729.5,913.8 1734.5,899.1 1740.6,882.4 1748.4,862.1 1755.9,843.7 1761.4,830.7 1768.3,815.9 1777.9,795.6 1782,786.4 1784.9,779 1787.5,771.6 1789.1,766.1 1790.5,760.5 1791.4,755 1791.9,749.4 1792.1,743.9 1791.9,738.4 1791.3,732.8 1790.3,727.2 1789,721.7 1787.2,716.2 1784.8,710.2 1782.2,705.1 1778.8,699.6 1774.8,694 1771.7,690.2 1766.1,684.2 1758.7,676.9 1753,671.9 1747.5,667.5 1740.1,662.1 1732.5,657.1 1725.2,652.6 1715.9,647.6 1706.5,643.1 1695.4,638.1 1682.3,632.9 1669.3,628.1 1656.3,623.7 1646.9,621 1635.8,618.2 1622.7,615.4 1611.6,613.3 1602.3,611.9 1591.1,610.8 1578,609.9 1553.8,609 1537.1,608.1 1526.4,607.2Z"/>
<path fill="#fdcd10" d="M1612.4,603.5 1840.6,603.5 1840.6,1017.3 1709.5,1017.3 1709.5,1013.6 1710.3,1009.8 1716.6,985.9 1727.2,945.3 1731.2,930.5 1735.1,917.5 1740.7,900.9 1746.6,884.3 1755.5,860.3 1762.8,841.8 1768.2,828.9 1774.2,815.9 1783.1,797.5 1788.9,784.5 1792.5,775.3 1794.4,769.8 1796,764.2 1797.2,758.7 1798.1,753.1 1798.5,747.6 1798.6,742.1 1798.4,736.5 1797.6,729.1 1796.6,723.6 1795.2,718 1793.5,712.5 1791.2,707 1788.5,701.4 1786.3,697.7 1782.6,692.2 1778.3,686.6 1773.3,681.1 1767.7,675.5 1761.7,670 1756.8,665.9 1749.4,660.2 1741.9,655.1 1732.6,649.3 1725.2,645.1 1717.7,641.4 1706.5,636.3 1693.5,630.8 1682.3,626.6 1667.4,621.4 1656.3,617.8 1646.9,615.2 1635.8,612.5 1619.6,609 1612.4,607.2Z"/>
<path fill="#fcb814" d="M1641.2,603.5 1840.6,603.5 1840.6,1017.3 1715.8,1017.3 1715.9,1013.3 1724.4,980.3 1734.7,941.6 1738.3,928.6 1742.3,915.7 1748.5,897.2 1757.1,873.2 1765.2,851 1770.3,838.1 1774.2,828.9 1780.1,815.9 1789,797.5 1794.1,786.3 1797.9,777.1 1799.9,771.6 1801.6,766.1 1803,760.5 1803.9,755 1804.5,749.4 1804.8,743.9 1804.7,736.5 1804.1,729.1 1803.3,723.6 1802.2,718 1800.7,712.5 1798.7,707 1795.9,700.6 1793.4,695.9 1789.9,690.3 1785.9,684.8 1782.9,681.1 1777.3,674.9 1771.7,669.5 1766.1,664.5 1758.7,658.5 1751.2,653.2 1741.9,647.2 1732.6,641.8 1725.2,637.9 1717.7,634.3 1706.1,629.4 1691.6,623.7 1678.6,619 1663.7,614.1 1648.8,609.7 1641.2,607.2Z"/>
<path fill="#faa719" d="M1663.4,603.5 1840.6,603.5 1840.6,1017.3 1722.2,1017.3 1722.2,1013.6 1723.5,1008.1 1729.8,984 1735.2,963.7 1740.6,943.4 1744.8,928.6 1750,912 1756.9,891.7 1768,860.3 1774.2,843.7 1778.6,832.6 1783.4,821.5 1796.4,793.8 1801.5,782.4 1804.4,775.3 1806.3,769.8 1807.9,764.2 1809.1,758.7 1809.9,753.1 1810.4,747.6 1810.5,740.2 1810.3,732.8 1809.7,725.4 1808.9,719.9 1807.7,714.3 1806.2,708.8 1804.3,703.3 1801.5,697 1798.9,692.2 1795.5,686.6 1791.6,681.1 1786.6,674.9 1782.2,670 1775.4,663.5 1769.9,658.7 1762.4,652.8 1755,647.6 1745.6,641.8 1736.3,636.5 1728.9,632.7 1721.4,629.1 1712.1,625.1 1699.1,620 1686.1,615.3 1672.8,610.9 1667.4,609 1663.4,607.2Z"/>
<path fill="#f8991c" d="M1682.9,603.5 1840.6,603.5 1840.6,1017.3 1728.9,1017.3 1728.9,1013.4 1730.1,1008.1 1735.4,987.7 1740.4,969.3 1745.7,948.9 1751.4,928.6 1757.2,910.2 1764.7,888 1777.6,851 1783.1,836.3 1786.9,827 1806.1,784.5 1809.2,777.1 1811.2,771.6 1812.9,766.1 1814.2,760.5 1815.1,755 1815.6,749.4 1815.8,740.2 1815.6,729.1 1815.2,723.6 1814.4,718 1813.3,712.5 1811.9,707 1810.1,701.4 1807.8,695.9 1805,690.3 1801.5,684.3 1797.8,678.8 1794.1,673.7 1789.4,668.2 1784.1,662.6 1777.3,656.4 1771.5,651.5 1766.1,647.4 1760.5,643.5 1752.7,638.6 1741.9,632.5 1732.5,627.5 1724.9,623.8 1715.9,620 1701,614.3 1691.5,610.9 1686.6,609 1682.9,607.2Z"/>
<path fill="#f5881f" d="M1701.5,603.5 1840.6,603.5 1840.6,1017.3 1735.8,1017.3 1735.8,1013.6 1736.6,1009.9 1742.3,987.7 1750.5,956.3 1755.1,939.7 1760,923.1 1768.2,897.2 1783.3,852.9 1788.5,838.1 1792.9,827 1800.6,808.6 1807.9,791.9 1812.9,780.8 1815.1,775.3 1817,769.8 1818.5,764.2 1819.7,758.7 1820.4,753.1 1820.7,747.6 1820.6,729.1 1820.4,723.6 1819.9,718 1819,712.5 1817.7,707 1816.1,701.4 1814.1,695.9 1811.6,690.3 1808.6,684.8 1805.2,679.2 1801.5,673.6 1797.5,668.2 1794.1,664 1788.5,658.1 1782.9,652.9 1777,647.8 1771.7,643.7 1766.1,639.7 1760.5,636.1 1751.2,630.6 1738.2,623.6 1730.8,619.9 1723.2,616.4 1712.1,611.9 1704.7,608.9 1701.5,607.2Z"/>
<path fill="#f27821" d="M1718.6,603.5 1840.6,603.5 1840.6,1017.3 1743.1,1017.3 1743.1,1013.6 1748.9,989.6 1755.5,963.7 1761.7,941.6 1768.7,917.5 1775.6,895.4 1792.8,843.7 1798,828.9 1804.4,812.2 1809.7,799.3 1817.1,782.7 1820.1,775 1822.5,767.9 1823.9,762.4 1824.8,756.8 1825.3,751.3 1825.4,727.3 1825.2,721.7 1824.7,716.2 1823.9,710.5 1822.7,705.1 1821.1,699.6 1819.1,694 1816.4,687.9 1813.9,682.9 1810.7,677.4 1807.1,671.7 1803.3,666.3 1799,660.8 1795.8,657.1 1792.2,653.3 1788.4,649.7 1781,643.3 1775,638.6 1769.8,634.9 1762.4,630.2 1753.1,624.9 1740.1,617.9 1728.9,612.4 1721.4,608.9 1718.6,607.2Z"/>
<path fill="#f06722" d="M1733.4,603.5 1840.6,603.5 1840.6,1017.3 1750.6,1017.3 1750.6,1013.6 1757,985.9 1761.2,969.3 1770.9,934.2 1778.4,908.3 1783.5,891.7 1794.3,858.4 1801.9,834.4 1807.6,817.8 1811.6,806.7 1815.3,797.5 1822,782.3 1824.8,775.3 1826.7,769.8 1828.2,764.2 1829.3,758.7 1829.8,753.1 1829.9,745.7 1829.8,736.5 1830,725.4 1829.9,719.9 1829.5,714 1828.6,708.8 1827.4,703.3 1825.7,697.4 1823.9,692.2 1821.5,686.6 1817.9,679.2 1814.6,673.5 1809.9,666.3 1804.6,658.9 1801.5,655.1 1795.9,648.9 1790.3,643.6 1784.5,638.6 1779.2,634.4 1773.6,630.5 1766.1,625.7 1755,619.3 1741.9,612.3 1735.9,609 1733.4,607.2Z"/>
<path fill="#ee5824" d="M1746.3,603.5 1840.6,603.5 1840.6,1017.3 1758,1017.3 1758,1013.6 1763.7,987.7 1766.7,974.8 1780.4,924.9 1787.2,900.9 1791.7,886.1 1798.9,864 1805.5,841.8 1811,823.3 1815.2,810.4 1818.6,801.2 1826.5,782.7 1829.5,775.3 1831.4,769.8 1833.4,762.4 1834.1,758.7 1834.6,753.1 1834.5,745.7 1834.3,738.4 1834.9,723.6 1834.9,718 1834.3,712.5 1833,705.1 1831,697.7 1829.2,692.2 1827,686.6 1823.5,679.2 1819.5,671.9 1814.6,663.9 1808.5,655.2 1803.4,648.8 1799.1,644.1 1792.2,637.7 1786.6,633.1 1781,628.7 1775.4,624.9 1767.9,620.1 1756.8,613.7 1751.2,610.6 1748.6,609 1746.3,607.2Z"/>
<path fill="#ed4a25" d="M1758.4,603.5 1840.6,603.5 1840.6,697.6 1836.9,697.6 1835,693.6 1831.3,684.4 1827.1,675.5 1823.1,668.2 1818.3,660.5 1812.2,651.5 1808,646 1804.8,642.3 1799.2,636.8 1792.2,630.5 1786.2,625.7 1781,621.9 1771.7,615.8 1763.5,610.9 1760.5,609 1758.4,607.2ZM1836.1,771.6 1836.9,770.1 1840.6,770.1 1840.6,1017.3 1765.2,1017.3 1765.2,1013.6 1769.3,993.3 1772.6,978.5 1775.9,965.6 1782.9,939.7 1789.3,915.7 1793.4,900.9 1797.9,886.1 1804.3,865.8 1809.1,849.2 1815.5,825.2 1818.8,814.1 1821.2,806.7 1824,799.3 1832,780.8 1835.2,773.5Z"/>
<path fill="#ec3c26" d="M1769.9,603.5 1840.6,603.5 1840.6,683.2 1836.9,683.2 1835,680.4 1829.5,669.7 1825.3,662.6 1819.6,653.4 1815.8,647.8 1811.7,642.3 1808.5,638.6 1805,634.9 1799.1,629.4 1792.2,623.6 1784.8,617.9 1771.9,609 1769.9,607.2ZM1836.8,782.7 1840.6,782.5 1840.6,1017.3 1772,1017.3 1772,1013.6 1776.4,991.4 1779.2,978.5 1790,936 1796.9,910.2 1801,895.4 1809,869.5 1812.7,856.3 1820.5,825.2 1823,815.9 1825.9,806.7 1828.7,799.3 1833.2,789.2 1835,785.4Z"/>
<path fill="#ec2e26" d="M1780.3,603.5 1840.6,603.5 1840.6,672.1 1836.9,672.1 1835,669.7 1826.5,655.2 1821.9,647.8 1818.1,642.3 1813.8,636.8 1810.6,633.1 1807,629.4 1801,623.8 1794.1,618.1 1784.5,610.9 1782.1,609 1780.3,607.2ZM1836.7,793.8 1836.9,793.4 1840.6,793.4 1840.6,1017.3 1778.5,1017.3 1778.5,1013.6 1782.4,993.3 1785.1,980.3 1794.1,943.2 1800.2,919.4 1805.2,900.9 1814.6,869.4 1818.4,854.7 1825.3,825.2 1827.7,815.9 1830,808.6 1832,803 1833.5,799.3 1835.4,795.6Z"/>
<path fill="#eb2326" d="M1790,603.5 1840.6,603.5 1840.6,662.1 1836.9,662.1 1835,659.8 1826.7,646 1823.2,640.5 1819.2,634.9 1816.2,631.2 1812.7,627.3 1809,623.6 1805.2,620.1 1797.8,614 1793.8,610.9 1791.6,609 1790,607.2ZM1835.9,806.7 1836.9,804.9 1840.6,804.9 1840.6,1017.3 1785,1017.3 1785,1013.6 1788.8,993.3 1791.8,978.5 1799.4,945.3 1803.6,928.6 1811,900.9 1819.5,871.4 1822.4,860.3 1826.2,843.7 1830.2,825.2 1832,817.8 1833.6,812.2 1835,808.3Z"/>
<path fill="#e71c26" d="M1799.6,603.5 1840.6,603.5 1840.6,651.5 1836.9,651.5 1835,649.3 1827.3,636.8 1823.6,631.2 1820.1,626.9 1815.7,622 1810,616.4 1805.2,612.4 1801.3,609 1799.6,607.2ZM1836.7,821.5 1836.9,821 1840.6,821 1840.6,1017.3 1791.4,1017.3 1791.4,1013.6 1795.2,993.3 1798.2,978.5 1803,956.3 1805.4,945.3 1809,930.5 1817.4,899.1 1824.5,873.2 1827.7,860.3 1832.1,840 1835,826.4Z"/>
<path fill="#da1e28" d="M1810.2,603.5 1840.6,603.5 1840.6,639.9 1836.9,639.9 1835,637.7 1829.5,628.8 1825.7,623.6 1821.2,618.3 1815.7,612.7 1811.7,609 1810.2,607.2ZM1836.5,847.3 1836.9,845.9 1840.6,845.9 1840.6,1017.3 1798,1017.3 1798,1013.6 1802.1,991.4 1810,952.6 1812.9,939.7 1827.7,882.4 1831.4,867.7 1835,852Z"/>
<path fill="#c92028" d="M1821.1,603.5 1840.6,603.5 1840.6,626.8 1836.9,626.8 1835,624.7 1830.5,618.3 1827.6,614.6 1822.5,609 1821.1,607.2ZM1836.5,873.2 1836.9,872 1840.6,872 1840.6,1017.3 1804.7,1017.3 1804.7,1013.6 1809.9,985.9 1815.7,956.3 1818.6,943.4 1826.9,910.2 1833.2,884.3 1835.2,876.9Z"/>
<path fill="#b72028" d="M1831.9,603.5 1840.6,603.5 1840.6,613.3 1836.9,613.3 1834.5,610.9 1833,609 1831.9,607.2ZM1836.7,899.1 1836.9,898.5 1840.6,898.5 1840.6,1017.3 1811.4,1017.3 1811.4,1013.6 1820.2,967.4 1823.2,952.6 1826.2,939.7 1832.6,913.8 1835,904.2Z"/>
<path fill="#a31e25" d="M1836.5,928.6 1836.9,927.4 1840.6,927.4 1840.6,1017.3 1818.1,1017.3 1818.1,1013.6 1827,967.4 1830,952.6 1833.2,939.3 1835.1,932.3Z"/>
<path fill="#8f1c20" d="M1836.4,958.2 1836.9,956.6 1840.6,956.6 1840.6,1017.3 1824.8,1017.3 1824.8,1013.6 1826.5,1004.4 1833.2,970.8 1835,962.5Z"/>
<path fill="#7b1618" d="M1836.5,991.4 1836.9,990.3 1840.6,990.3 1840.6,1017.3 1831.4,1017.3 1831.4,1013.6 1832.3,1008.1 1835,996.2Z"/>
</g></g>
<path d="M158.9,605.2V1010.4H568.6" fill="none" stroke="#2a3040" stroke-width="0.9" opacity="0.8"/>
<path d="M775.2,607.2V1012.4H1182.4" fill="none" stroke="#2a3040" stroke-width="0.9" opacity="0.8"/>
<path d="M1427.2,607.2V1013.6H1836.9" fill="none" stroke="#2a3040" stroke-width="0.9" opacity="0.8"/>
<path d="M158.9,699.9C171,699.9 205.6,698.7 231.2,699.9C256.9,701 285.4,704 312.5,706.8C339.6,709.6 370.8,713.8 393.8,717C416.9,720.1 441.2,724.4 450.7,725.9" fill="none" stroke="#fff" stroke-width="1.8" stroke-dasharray="10.7 9.5"/>
<path d="M158.9,920.2C162.8,920.6 175.2,921.4 182.5,922.6C189.8,923.8 199.4,926.7 202.8,927.5" fill="none" stroke="#fff" stroke-width="1.8" stroke-dasharray="10.7 9.5"/>
<path d="M775.2,772.6C783.7,772.8 810.8,772.1 826,773.8C841.2,775.5 855.1,779 866.6,782.8C878.2,786.5 888.6,792.1 895.1,796.2C901.5,800.2 905.2,803.1 905.2,807.2C905.2,811.2 901.5,815.3 895.1,820.6C888.6,825.9 878.2,832.8 866.6,838.9C855.1,845 841.2,852.7 826,857.1C810.8,861.6 783.7,863.9 775.2,865.3" fill="none" stroke="#fff" stroke-width="1.8" stroke-dasharray="10.7 9.5"/>
<text x="148.1" y="617.4" font-family="Liberation Sans, Arial, Helvetica, sans-serif" font-size="30" text-anchor="end">2.6</text>
<text x="148.3" y="1016.8" font-family="Liberation Sans, Arial, Helvetica, sans-serif" font-size="30" text-anchor="end">2</text>
<text x="161.3" y="1044.5" font-family="Liberation Sans, Arial, Helvetica, sans-serif" font-size="30" text-anchor="middle">0</text>
<text x="564.5" y="1044.5" font-family="Liberation Sans, Arial, Helvetica, sans-serif" font-size="30" text-anchor="middle">0.1</text>
<text x="59.3" y="815.4" font-family="Liberation Sans, Arial, Helvetica, sans-serif" font-size="30" font-style="italic">K</text>
<text x="79" y="823.6" font-family="Liberation Sans, Arial, Helvetica, sans-serif" font-size="22" font-style="italic">z</text>
<text x="758.7" y="617.8" font-family="Liberation Sans, Arial, Helvetica, sans-serif" font-size="30" text-anchor="end">2.6</text>
<text x="758.7" y="1016.9" font-family="Liberation Sans, Arial, Helvetica, sans-serif" font-size="30" text-anchor="end">2</text>
<text x="774.8" y="1044.5" font-family="Liberation Sans, Arial, Helvetica, sans-serif" font-size="30" text-anchor="middle">0</text>
<text x="1178" y="1044.5" font-family="Liberation Sans, Arial, Helvetica, sans-serif" font-size="30" text-anchor="middle">0.1</text>
<text x="668.1" y="815.6" font-family="Liberation Sans, Arial, Helvetica, sans-serif" font-size="30" font-style="italic">K</text>
<text x="687.8" y="823.8" font-family="Liberation Sans, Arial, Helvetica, sans-serif" font-size="22" font-style="italic">z</text>
<text x="1415" y="617.8" font-family="Liberation Sans, Arial, Helvetica, sans-serif" font-size="30" text-anchor="end">2.6</text>
<text x="1415" y="1016.9" font-family="Liberation Sans, Arial, Helvetica, sans-serif" font-size="30" text-anchor="end">2</text>
<text x="1427" y="1044.5" font-family="Liberation Sans, Arial, Helvetica, sans-serif" font-size="30" text-anchor="middle">0</text>
<text x="1832.3" y="1044.5" font-family="Liberation Sans, Arial, Helvetica, sans-serif" font-size="30" text-anchor="middle">0.1</text>
<text x="1332.6" y="815.6" font-family="Liberation Sans, Arial, Helvetica, sans-serif" font-size="30" font-style="italic">K</text>
<text x="1352.3" y="823.8" font-family="Liberation Sans, Arial, Helvetica, sans-serif" font-size="22" font-style="italic">z</text>
<linearGradient id="cb1" x1="0" y1="0" x2="0" y2="1"><stop offset="0.000" stop-color="#7b1618"/><stop offset="0.026" stop-color="#8e1c20"/><stop offset="0.056" stop-color="#b02028"/><stop offset="0.083" stop-color="#cc2028"/><stop offset="0.100" stop-color="#dc1e28"/><stop offset="0.120" stop-color="#ea1c26"/><stop offset="0.147" stop-color="#ec2a26"/><stop offset="0.170" stop-color="#ec3c26"/><stop offset="0.200" stop-color="#ee5424"/><stop offset="0.227" stop-color="#f06a22"/><stop offset="0.254" stop-color="#f48420"/><stop offset="0.276" stop-color="#f8981c"/><stop offset="0.300" stop-color="#fbab18"/><stop offset="0.327" stop-color="#fdc810"/><stop offset="0.346" stop-color="#ffe20e"/><stop offset="0.361" stop-color="#f8ec20"/><stop offset="0.380" stop-color="#f0ea1e"/><stop offset="0.400" stop-color="#e2e222"/><stop offset="0.437" stop-color="#c2d830"/><stop offset="0.475" stop-color="#a8cf4c"/><stop offset="0.500" stop-color="#98ca5e"/><stop offset="0.532" stop-color="#86c67c"/><stop offset="0.570" stop-color="#78c6a8"/><stop offset="0.600" stop-color="#70c8c4"/><stop offset="0.613" stop-color="#6ec8c8"/><stop offset="0.643" stop-color="#62c8e2"/><stop offset="0.677" stop-color="#30c4f4"/><stop offset="0.700" stop-color="#38aee6"/><stop offset="0.723" stop-color="#4492d2"/><stop offset="0.746" stop-color="#4478c0"/><stop offset="0.773" stop-color="#3f66b2"/><stop offset="0.800" stop-color="#3c5cac"/><stop offset="0.841" stop-color="#3a56a8"/><stop offset="0.879" stop-color="#3a50a4"/><stop offset="0.900" stop-color="#384ca2"/><stop offset="0.928" stop-color="#35429c"/><stop offset="0.948" stop-color="#2e3894"/><stop offset="0.963" stop-color="#2b3390"/><stop offset="0.978" stop-color="#2a3088"/><stop offset="1.000" stop-color="#2a2d80"/></linearGradient>
<rect x="1198.8" y="607.9" width="29.8" height="403" fill="url(#cb1)" stroke="#4a4a4a" stroke-width="1.1"/>
<line x1="1228.6" y1="648.2" x2="1222.6" y2="648.2" stroke="#3a3a3a" stroke-width="1"/>
<line x1="1228.6" y1="688.5" x2="1222.6" y2="688.5" stroke="#3a3a3a" stroke-width="1"/>
<line x1="1228.6" y1="728.8" x2="1222.6" y2="728.8" stroke="#3a3a3a" stroke-width="1"/>
<line x1="1228.6" y1="769.1" x2="1222.6" y2="769.1" stroke="#3a3a3a" stroke-width="1"/>
<line x1="1228.6" y1="809.4" x2="1222.6" y2="809.4" stroke="#3a3a3a" stroke-width="1"/>
<line x1="1228.6" y1="849.7" x2="1222.6" y2="849.7" stroke="#3a3a3a" stroke-width="1"/>
<line x1="1228.6" y1="890" x2="1222.6" y2="890" stroke="#3a3a3a" stroke-width="1"/>
<line x1="1228.6" y1="930.3" x2="1222.6" y2="930.3" stroke="#3a3a3a" stroke-width="1"/>
<line x1="1228.6" y1="970.6" x2="1222.6" y2="970.6" stroke="#3a3a3a" stroke-width="1"/>
<text x="1239.4" y="620.3" font-family="Liberation Sans, Arial, Helvetica, sans-serif" font-size="30">0.05</text>
<text x="1239.4" y="1020.8" font-family="Liberation Sans, Arial, Helvetica, sans-serif" font-size="30">0</text>
<linearGradient id="cb2" x1="0" y1="0" x2="0" y2="1"><stop offset="0.000" stop-color="#7b1618"/><stop offset="0.026" stop-color="#8e1c20"/><stop offset="0.056" stop-color="#b02028"/><stop offset="0.083" stop-color="#cc2028"/><stop offset="0.100" stop-color="#dc1e28"/><stop offset="0.120" stop-color="#ea1c26"/><stop offset="0.147" stop-color="#ec2a26"/><stop offset="0.170" stop-color="#ec3c26"/><stop offset="0.200" stop-color="#ee5424"/><stop offset="0.227" stop-color="#f06a22"/><stop offset="0.254" stop-color="#f48420"/><stop offset="0.276" stop-color="#f8981c"/><stop offset="0.300" stop-color="#fbab18"/><stop offset="0.327" stop-color="#fdc810"/><stop offset="0.346" stop-color="#ffe20e"/><stop offset="0.361" stop-color="#f8ec20"/><stop offset="0.380" stop-color="#f0ea1e"/><stop offset="0.400" stop-color="#e2e222"/><stop offset="0.437" stop-color="#c2d830"/><stop offset="0.475" stop-color="#a8cf4c"/><stop offset="0.500" stop-color="#98ca5e"/><stop offset="0.532" stop-color="#86c67c"/><stop offset="0.570" stop-color="#78c6a8"/><stop offset="0.600" stop-color="#70c8c4"/><stop offset="0.613" stop-color="#6ec8c8"/><stop offset="0.643" stop-color="#62c8e2"/><stop offset="0.677" stop-color="#30c4f4"/><stop offset="0.700" stop-color="#38aee6"/><stop offset="0.723" stop-color="#4492d2"/><stop offset="0.746" stop-color="#4478c0"/><stop offset="0.773" stop-color="#3f66b2"/><stop offset="0.800" stop-color="#3c5cac"/><stop offset="0.841" stop-color="#3a56a8"/><stop offset="0.879" stop-color="#3a50a4"/><stop offset="0.900" stop-color="#384ca2"/><stop offset="0.928" stop-color="#35429c"/><stop offset="0.948" stop-color="#2e3894"/><stop offset="0.963" stop-color="#2b3390"/><stop offset="0.978" stop-color="#2a3088"/><stop offset="1.000" stop-color="#2a2d80"/></linearGradient>
<rect x="1843.8" y="608.4" width="29.7" height="403.4" fill="url(#cb2)" stroke="#4a4a4a" stroke-width="1.1"/>
<line x1="1873.5" y1="648.7" x2="1867.5" y2="648.7" stroke="#3a3a3a" stroke-width="1"/>
<line x1="1873.5" y1="689.1" x2="1867.5" y2="689.1" stroke="#3a3a3a" stroke-width="1"/>
<line x1="1873.5" y1="729.4" x2="1867.5" y2="729.4" stroke="#3a3a3a" stroke-width="1"/>
<line x1="1873.5" y1="769.8" x2="1867.5" y2="769.8" stroke="#3a3a3a" stroke-width="1"/>
<line x1="1873.5" y1="810.1" x2="1867.5" y2="810.1" stroke="#3a3a3a" stroke-width="1"/>
<line x1="1873.5" y1="850.4" x2="1867.5" y2="850.4" stroke="#3a3a3a" stroke-width="1"/>
<line x1="1873.5" y1="890.8" x2="1867.5" y2="890.8" stroke="#3a3a3a" stroke-width="1"/>
<line x1="1873.5" y1="931.1" x2="1867.5" y2="931.1" stroke="#3a3a3a" stroke-width="1"/>
<line x1="1873.5" y1="971.5" x2="1867.5" y2="971.5" stroke="#3a3a3a" stroke-width="1"/>
<text x="1881.7" y="621.3" font-family="Liberation Sans, Arial, Helvetica, sans-serif" font-size="30">0.11</text>
<text x="1881.7" y="1018.9" font-family="Liberation Sans, Arial, Helvetica, sans-serif" font-size="30">0</text>
</svg>
</body></html>
